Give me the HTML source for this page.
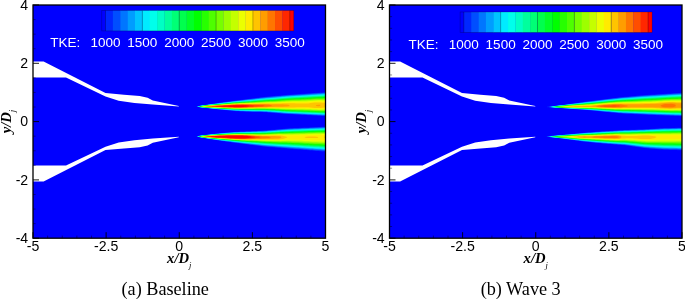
<!DOCTYPE html>
<html><head><meta charset="utf-8"><title>TKE contours</title>
<style>
html,body{margin:0;padding:0;background:#fff;}
svg{display:block;}
.tk{font-family:"Liberation Sans",Arial,sans-serif;font-size:14.1px;fill:#000;}
.cb{font-family:"Liberation Sans",Arial,sans-serif;font-size:13.5px;fill:#fff;}
.ax{font-family:"Liberation Serif","Times New Roman",serif;font-weight:bold;font-style:italic;font-size:14.6px;fill:#000;}
.sub{font-size:8.5px;font-weight:normal;}
.cap{font-family:"Liberation Serif","Times New Roman",serif;font-size:18.2px;fill:#000;}
</style></head><body>
<svg width="685" height="299" viewBox="0 0 685 299">
<defs>
<filter id="b" x="-5%" y="-20%" width="110%" height="140%"><feGaussianBlur stdDeviation="0.65"/></filter>
<clipPath id="cp"><rect x="33" y="5" width="292.5" height="233.2"/></clipPath>
</defs>
<rect width="685" height="299" fill="#fff"/>
<g transform="translate(0.00,0)">
<rect x="33.00" y="5.00" width="292.50" height="233.20" fill="#0000ff"/>
<g filter="url(#b)" clip-path="url(#cp)">
<path d="M196.8,106.3 197.0,106.2 197.5,106.1 198.0,106.1 198.5,106.0 199.0,105.9 199.5,105.8 200.0,105.7 200.5,105.7 201.0,105.6 201.5,105.5 202.0,105.4 202.5,105.4 203.0,105.3 203.5,105.2 204.0,105.1 204.5,105.0 205.0,105.0 205.5,104.9 206.0,104.8 206.5,104.7 207.0,104.7 207.5,104.6 208.0,104.5 208.5,104.4 209.0,104.4 209.5,104.3 210.0,104.2 210.5,104.1 211.0,104.1 211.5,104.0 212.0,103.9 212.5,103.8 214.5,103.5 216.5,103.3 218.5,103.0 220.5,102.7 222.5,102.4 224.5,102.1 226.5,101.8 228.5,101.5 230.5,101.2 232.5,100.9 234.5,100.7 236.5,100.4 238.5,100.2 240.5,99.9 242.5,99.7 244.5,99.4 246.5,99.2 248.5,98.9 250.5,98.7 252.5,98.4 254.5,98.2 256.5,97.9 258.5,97.7 260.5,97.4 262.5,97.2 264.5,96.9 266.5,96.7 268.5,96.6 270.5,96.4 272.5,96.2 274.5,96.0 276.5,95.8 278.5,95.7 280.5,95.5 282.5,95.3 284.5,95.1 286.5,95.0 288.5,94.8 290.5,94.7 292.5,94.5 294.5,94.4 296.5,94.3 298.5,94.1 300.5,94.0 302.5,93.8 304.5,93.7 306.5,93.5 308.5,93.4 310.5,93.3 312.5,93.1 314.5,93.0 316.5,92.8 318.5,92.7 320.5,92.6 322.5,92.4 324.5,92.3 325.5,92.2 325.5,116.1 324.5,116.0 322.5,115.9 320.5,115.8 318.5,115.7 316.5,115.6 314.5,115.5 312.5,115.4 310.5,115.3 308.5,115.2 306.5,115.1 304.5,115.0 302.5,114.9 300.5,114.8 298.5,114.7 296.5,114.6 294.5,114.5 292.5,114.3 290.5,114.2 288.5,114.1 286.5,114.0 284.5,113.9 282.5,113.7 280.5,113.5 278.5,113.3 276.5,113.2 274.5,113.0 272.5,112.8 270.5,112.6 268.5,112.5 266.5,112.3 264.5,112.2 262.5,112.1 260.5,112.1 258.5,112.0 256.5,112.0 254.5,112.0 252.5,111.9 250.5,111.9 248.5,111.8 246.5,111.7 244.5,111.6 242.5,111.5 240.5,111.4 238.5,111.3 236.5,111.2 234.5,111.1 232.5,110.9 230.5,110.7 228.5,110.5 226.5,110.3 224.5,110.1 222.5,109.9 220.5,109.6 218.5,109.4 216.5,109.2 214.5,109.0 212.5,108.8 212.0,108.7 211.5,108.7 211.0,108.6 210.5,108.6 210.0,108.5 209.5,108.4 209.0,108.4 208.5,108.3 208.0,108.3 207.5,108.2 207.0,108.2 206.5,108.1 206.0,108.0 205.5,108.0 205.0,107.9 204.5,107.9 204.0,107.8 203.5,107.7 203.0,107.7 202.5,107.6 202.0,107.6 201.5,107.5 201.0,107.4 200.5,107.4 200.0,107.3 199.5,107.3 199.0,107.2 198.5,107.1 198.0,107.1 197.5,107.0 197.0,107.0 196.8,106.9Z" fill="#0027ff"/>
<path d="M197.0,106.4 197.5,106.2 198.0,106.1 198.5,106.1 199.0,106.0 199.5,105.9 200.0,105.8 200.5,105.7 201.0,105.6 201.5,105.6 202.0,105.5 202.5,105.4 203.0,105.3 203.5,105.3 204.0,105.2 204.5,105.1 205.0,105.1 205.5,105.0 206.0,104.9 206.5,104.8 207.0,104.8 207.5,104.7 208.0,104.6 208.5,104.5 209.0,104.5 209.5,104.4 210.0,104.3 210.5,104.3 211.0,104.2 211.5,104.1 212.0,104.0 212.5,104.0 214.5,103.7 216.5,103.4 218.5,103.1 220.5,102.8 222.5,102.6 224.5,102.3 226.5,102.0 228.5,101.7 230.5,101.4 232.5,101.2 234.5,100.9 236.5,100.7 238.5,100.4 240.5,100.2 242.5,99.9 244.5,99.7 246.5,99.5 248.5,99.2 250.5,99.0 252.5,98.8 254.5,98.5 256.5,98.3 258.5,98.1 260.5,97.8 262.5,97.6 264.5,97.3 266.5,97.1 268.5,97.0 270.5,96.8 272.5,96.6 274.5,96.4 276.5,96.3 278.5,96.1 280.5,95.9 282.5,95.7 284.5,95.5 286.5,95.4 288.5,95.2 290.5,95.1 292.5,94.9 294.5,94.8 296.5,94.7 298.5,94.5 300.5,94.4 302.5,94.3 304.5,94.1 306.5,94.0 308.5,93.8 310.5,93.7 312.5,93.6 314.5,93.4 316.5,93.3 318.5,93.1 320.5,93.0 322.5,92.9 324.5,92.7 325.5,92.7 325.5,115.7 324.5,115.7 322.5,115.6 320.5,115.5 318.5,115.4 316.5,115.3 314.5,115.2 312.5,115.1 310.5,115.0 308.5,114.9 306.5,114.7 304.5,114.6 302.5,114.5 300.5,114.4 298.5,114.3 296.5,114.2 294.5,114.1 292.5,114.0 290.5,113.9 288.5,113.8 286.5,113.7 284.5,113.6 282.5,113.4 280.5,113.2 278.5,113.0 276.5,112.9 274.5,112.7 272.5,112.5 270.5,112.4 268.5,112.2 266.5,112.0 264.5,111.9 262.5,111.9 260.5,111.8 258.5,111.8 256.5,111.7 254.5,111.7 252.5,111.6 250.5,111.6 248.5,111.5 246.5,111.4 244.5,111.4 242.5,111.3 240.5,111.2 238.5,111.1 236.5,111.0 234.5,110.9 232.5,110.7 230.5,110.5 228.5,110.3 226.5,110.1 224.5,109.9 222.5,109.7 220.5,109.5 218.5,109.3 216.5,109.1 214.5,108.9 212.5,108.7 212.0,108.6 211.5,108.6 211.0,108.5 210.5,108.5 210.0,108.4 209.5,108.4 209.0,108.3 208.5,108.2 208.0,108.2 207.5,108.1 207.0,108.1 206.5,108.0 206.0,108.0 205.5,107.9 205.0,107.8 204.5,107.8 204.0,107.7 203.5,107.7 203.0,107.6 202.5,107.6 202.0,107.5 201.5,107.4 201.0,107.4 200.5,107.3 200.0,107.3 199.5,107.2 199.0,107.1 198.5,107.1 198.0,107.0 197.5,106.9 197.0,106.8Z" fill="#004eff"/>
<path d="M197.2,106.5 197.5,106.4 198.0,106.2 198.5,106.1 199.0,106.0 199.5,106.0 200.0,105.9 200.5,105.8 201.0,105.7 201.5,105.6 202.0,105.6 202.5,105.5 203.0,105.4 203.5,105.3 204.0,105.3 204.5,105.2 205.0,105.1 205.5,105.1 206.0,105.0 206.5,104.9 207.0,104.9 207.5,104.8 208.0,104.7 208.5,104.6 209.0,104.6 209.5,104.5 210.0,104.4 210.5,104.4 211.0,104.3 211.5,104.2 212.0,104.2 212.5,104.1 214.5,103.8 216.5,103.5 218.5,103.3 220.5,103.0 222.5,102.7 224.5,102.5 226.5,102.2 228.5,101.9 230.5,101.7 232.5,101.4 234.5,101.1 236.5,100.9 238.5,100.7 240.5,100.4 242.5,100.2 244.5,100.0 246.5,99.8 248.5,99.5 250.5,99.3 252.5,99.1 254.5,98.9 256.5,98.6 258.5,98.4 260.5,98.2 262.5,97.9 264.5,97.7 266.5,97.5 268.5,97.3 270.5,97.2 272.5,97.0 274.5,96.8 276.5,96.6 278.5,96.5 280.5,96.3 282.5,96.1 284.5,95.9 286.5,95.8 288.5,95.6 290.5,95.5 292.5,95.3 294.5,95.2 296.5,95.1 298.5,94.9 300.5,94.8 302.5,94.7 304.5,94.5 306.5,94.4 308.5,94.3 310.5,94.1 312.5,94.0 314.5,93.8 316.5,93.7 318.5,93.6 320.5,93.4 322.5,93.3 324.5,93.2 325.5,93.1 325.5,115.4 324.5,115.3 322.5,115.2 320.5,115.1 318.5,115.0 316.5,114.9 314.5,114.8 312.5,114.7 310.5,114.6 308.5,114.5 306.5,114.4 304.5,114.3 302.5,114.2 300.5,114.1 298.5,114.0 296.5,113.9 294.5,113.8 292.5,113.7 290.5,113.6 288.5,113.5 286.5,113.4 284.5,113.2 282.5,113.1 280.5,112.9 278.5,112.7 276.5,112.6 274.5,112.4 272.5,112.2 270.5,112.1 268.5,111.9 266.5,111.8 264.5,111.6 262.5,111.6 260.5,111.6 258.5,111.5 256.5,111.5 254.5,111.4 252.5,111.4 250.5,111.4 248.5,111.3 246.5,111.2 244.5,111.1 242.5,111.1 240.5,111.0 238.5,110.9 236.5,110.8 234.5,110.7 232.5,110.5 230.5,110.3 228.5,110.1 226.5,109.9 224.5,109.7 222.5,109.5 220.5,109.4 218.5,109.2 216.5,109.0 214.5,108.8 212.5,108.6 212.0,108.5 211.5,108.5 211.0,108.4 210.5,108.4 210.0,108.3 209.5,108.3 209.0,108.2 208.5,108.1 208.0,108.1 207.5,108.0 207.0,108.0 206.5,107.9 206.0,107.9 205.5,107.8 205.0,107.8 204.5,107.7 204.0,107.7 203.5,107.6 203.0,107.5 202.5,107.5 202.0,107.4 201.5,107.4 201.0,107.3 200.5,107.3 200.0,107.2 199.5,107.1 199.0,107.1 198.5,107.0 198.0,106.9 197.5,106.8 197.2,106.7Z" fill="#0076ff"/>
<path d="M197.5,106.5 198.0,106.3 198.5,106.2 199.0,106.1 199.5,106.0 200.0,105.9 200.5,105.8 201.0,105.8 201.5,105.7 202.0,105.6 202.5,105.5 203.0,105.5 203.5,105.4 204.0,105.3 204.5,105.3 205.0,105.2 205.5,105.1 206.0,105.1 206.5,105.0 207.0,104.9 207.5,104.9 208.0,104.8 208.5,104.7 209.0,104.7 209.5,104.6 210.0,104.5 210.5,104.5 211.0,104.4 211.5,104.3 212.0,104.3 212.5,104.2 214.5,103.9 216.5,103.7 218.5,103.4 220.5,103.2 222.5,102.9 224.5,102.6 226.5,102.4 228.5,102.1 230.5,101.9 232.5,101.6 234.5,101.3 236.5,101.1 238.5,100.9 240.5,100.7 242.5,100.5 244.5,100.3 246.5,100.0 248.5,99.8 250.5,99.6 252.5,99.4 254.5,99.2 256.5,99.0 258.5,98.7 260.5,98.5 262.5,98.3 264.5,98.0 266.5,97.9 268.5,97.7 270.5,97.5 272.5,97.4 274.5,97.2 276.5,97.0 278.5,96.8 280.5,96.7 282.5,96.5 284.5,96.3 286.5,96.1 288.5,96.0 290.5,95.8 292.5,95.7 294.5,95.6 296.5,95.4 298.5,95.3 300.5,95.2 302.5,95.1 304.5,94.9 306.5,94.8 308.5,94.7 310.5,94.5 312.5,94.4 314.5,94.3 316.5,94.1 318.5,94.0 320.5,93.9 322.5,93.7 324.5,93.6 325.5,93.5 325.5,115.0 324.5,115.0 322.5,114.9 320.5,114.8 318.5,114.7 316.5,114.6 314.5,114.5 312.5,114.4 310.5,114.3 308.5,114.2 306.5,114.1 304.5,114.0 302.5,113.9 300.5,113.8 298.5,113.7 296.5,113.6 294.5,113.5 292.5,113.4 290.5,113.3 288.5,113.2 286.5,113.1 284.5,113.0 282.5,112.8 280.5,112.6 278.5,112.5 276.5,112.3 274.5,112.1 272.5,112.0 270.5,111.8 268.5,111.7 266.5,111.5 264.5,111.4 262.5,111.4 260.5,111.3 258.5,111.3 256.5,111.2 254.5,111.2 252.5,111.2 250.5,111.1 248.5,111.1 246.5,111.0 244.5,110.9 242.5,110.8 240.5,110.8 238.5,110.7 236.5,110.6 234.5,110.5 232.5,110.3 230.5,110.1 228.5,110.0 226.5,109.8 224.5,109.6 222.5,109.4 220.5,109.2 218.5,109.0 216.5,108.9 214.5,108.7 212.5,108.5 212.0,108.4 211.5,108.4 211.0,108.3 210.5,108.3 210.0,108.2 209.5,108.2 209.0,108.1 208.5,108.1 208.0,108.0 207.5,108.0 207.0,107.9 206.5,107.9 206.0,107.8 205.5,107.8 205.0,107.7 204.5,107.6 204.0,107.6 203.5,107.5 203.0,107.5 202.5,107.4 202.0,107.4 201.5,107.3 201.0,107.3 200.5,107.2 200.0,107.1 199.5,107.1 199.0,107.0 198.5,106.9 198.0,106.8 197.5,106.7Z" fill="#009dff"/>
<path d="M198.0,106.4 198.5,106.3 199.0,106.2 199.5,106.1 200.0,106.0 200.5,105.9 201.0,105.8 201.5,105.7 202.0,105.7 202.5,105.6 203.0,105.5 203.5,105.5 204.0,105.4 204.5,105.3 205.0,105.3 205.5,105.2 206.0,105.1 206.5,105.1 207.0,105.0 207.5,104.9 208.0,104.9 208.5,104.8 209.0,104.8 209.5,104.7 210.0,104.6 210.5,104.6 211.0,104.5 211.5,104.4 212.0,104.4 212.5,104.3 214.5,104.0 216.5,103.8 218.5,103.5 220.5,103.3 222.5,103.0 224.5,102.8 226.5,102.5 228.5,102.3 230.5,102.0 232.5,101.8 234.5,101.6 236.5,101.3 238.5,101.1 240.5,100.9 242.5,100.7 244.5,100.5 246.5,100.3 248.5,100.1 250.5,99.9 252.5,99.7 254.5,99.5 256.5,99.3 258.5,99.0 260.5,98.8 262.5,98.6 264.5,98.4 266.5,98.2 268.5,98.0 270.5,97.9 272.5,97.7 274.5,97.6 276.5,97.4 278.5,97.2 280.5,97.0 282.5,96.8 284.5,96.7 286.5,96.5 288.5,96.3 290.5,96.2 292.5,96.1 294.5,95.9 296.5,95.8 298.5,95.7 300.5,95.6 302.5,95.4 304.5,95.3 306.5,95.2 308.5,95.1 310.5,94.9 312.5,94.8 314.5,94.7 316.5,94.5 318.5,94.4 320.5,94.3 322.5,94.2 324.5,94.0 325.5,94.0 325.5,114.7 324.5,114.6 322.5,114.6 320.5,114.5 318.5,114.4 316.5,114.3 314.5,114.2 312.5,114.1 310.5,114.0 308.5,113.9 306.5,113.8 304.5,113.7 302.5,113.6 300.5,113.5 298.5,113.4 296.5,113.3 294.5,113.2 292.5,113.1 290.5,113.0 288.5,112.9 286.5,112.8 284.5,112.7 282.5,112.5 280.5,112.3 278.5,112.2 276.5,112.0 274.5,111.9 272.5,111.7 270.5,111.6 268.5,111.4 266.5,111.3 264.5,111.2 262.5,111.1 260.5,111.1 258.5,111.0 256.5,111.0 254.5,111.0 252.5,110.9 250.5,110.9 248.5,110.8 246.5,110.8 244.5,110.7 242.5,110.6 240.5,110.6 238.5,110.5 236.5,110.4 234.5,110.3 232.5,110.1 230.5,110.0 228.5,109.8 226.5,109.6 224.5,109.4 222.5,109.3 220.5,109.1 218.5,108.9 216.5,108.7 214.5,108.6 212.5,108.4 212.0,108.3 211.5,108.3 211.0,108.2 210.5,108.2 210.0,108.1 209.5,108.1 209.0,108.0 208.5,108.0 208.0,107.9 207.5,107.9 207.0,107.8 206.5,107.8 206.0,107.7 205.5,107.7 205.0,107.6 204.5,107.6 204.0,107.5 203.5,107.5 203.0,107.4 202.5,107.4 202.0,107.3 201.5,107.3 201.0,107.2 200.5,107.2 200.0,107.1 199.5,107.0 199.0,106.9 198.5,106.8 198.0,106.7Z" fill="#00c4ff"/>
<path d="M198.2,106.5 198.5,106.4 199.0,106.2 199.5,106.1 200.0,106.0 200.5,106.0 201.0,105.9 201.5,105.8 202.0,105.7 202.5,105.7 203.0,105.6 203.5,105.5 204.0,105.5 204.5,105.4 205.0,105.3 205.5,105.3 206.0,105.2 206.5,105.2 207.0,105.1 207.5,105.0 208.0,105.0 208.5,104.9 209.0,104.8 209.5,104.8 210.0,104.7 210.5,104.7 211.0,104.6 211.5,104.5 212.0,104.5 212.5,104.4 214.5,104.2 216.5,103.9 218.5,103.7 220.5,103.4 222.5,103.2 224.5,102.9 226.5,102.7 228.5,102.5 230.5,102.2 232.5,102.0 234.5,101.7 236.5,101.5 238.5,101.3 240.5,101.1 242.5,100.9 244.5,100.8 246.5,100.6 248.5,100.4 250.5,100.2 252.5,100.0 254.5,99.8 256.5,99.6 258.5,99.3 260.5,99.1 262.5,98.9 264.5,98.7 266.5,98.5 268.5,98.4 270.5,98.2 272.5,98.1 274.5,97.9 276.5,97.7 278.5,97.6 280.5,97.4 282.5,97.2 284.5,97.0 286.5,96.8 288.5,96.7 290.5,96.6 292.5,96.4 294.5,96.3 296.5,96.2 298.5,96.1 300.5,95.9 302.5,95.8 304.5,95.7 306.5,95.6 308.5,95.5 310.5,95.3 312.5,95.2 314.5,95.0 316.5,94.9 318.5,94.8 320.5,94.7 322.5,94.6 324.5,94.5 325.5,94.4 325.5,114.4 324.5,114.3 322.5,114.2 320.5,114.1 318.5,114.1 316.5,114.0 314.5,113.9 312.5,113.8 310.5,113.7 308.5,113.6 306.5,113.5 304.5,113.4 302.5,113.3 300.5,113.2 298.5,113.1 296.5,113.0 294.5,112.9 292.5,112.9 290.5,112.8 288.5,112.6 286.5,112.5 284.5,112.4 282.5,112.2 280.5,112.1 278.5,111.9 276.5,111.7 274.5,111.6 272.5,111.4 270.5,111.3 268.5,111.2 266.5,111.0 264.5,110.9 262.5,110.9 260.5,110.9 258.5,110.8 256.5,110.8 254.5,110.8 252.5,110.7 250.5,110.7 248.5,110.6 246.5,110.6 244.5,110.5 242.5,110.4 240.5,110.4 238.5,110.3 236.5,110.2 234.5,110.1 232.5,110.0 230.5,109.8 228.5,109.6 226.5,109.5 224.5,109.3 222.5,109.1 220.5,109.0 218.5,108.8 216.5,108.6 214.5,108.5 212.5,108.3 212.0,108.2 211.5,108.2 211.0,108.1 210.5,108.1 210.0,108.1 209.5,108.0 209.0,108.0 208.5,107.9 208.0,107.9 207.5,107.8 207.0,107.8 206.5,107.7 206.0,107.7 205.5,107.6 205.0,107.6 204.5,107.5 204.0,107.5 203.5,107.4 203.0,107.4 202.5,107.3 202.0,107.3 201.5,107.2 201.0,107.2 200.5,107.1 200.0,107.0 199.5,107.0 199.0,106.9 198.5,106.8 198.2,106.7Z" fill="#00ebff"/>
<path d="M198.5,106.5 199.0,106.3 199.5,106.2 200.0,106.1 200.5,106.0 201.0,105.9 201.5,105.9 202.0,105.8 202.5,105.7 203.0,105.7 203.5,105.6 204.0,105.5 204.5,105.5 205.0,105.4 205.5,105.3 206.0,105.3 206.5,105.2 207.0,105.2 207.5,105.1 208.0,105.0 208.5,105.0 209.0,104.9 209.5,104.9 210.0,104.8 210.5,104.7 211.0,104.7 211.5,104.6 212.0,104.6 212.5,104.5 214.5,104.3 216.5,104.0 218.5,103.8 220.5,103.6 222.5,103.3 224.5,103.1 226.5,102.9 228.5,102.6 230.5,102.4 232.5,102.2 234.5,101.9 236.5,101.7 238.5,101.5 240.5,101.4 242.5,101.2 244.5,101.0 246.5,100.8 248.5,100.6 250.5,100.4 252.5,100.2 254.5,100.0 256.5,99.8 258.5,99.6 260.5,99.4 262.5,99.2 264.5,99.0 266.5,98.8 268.5,98.7 270.5,98.6 272.5,98.4 274.5,98.3 276.5,98.1 278.5,97.9 280.5,97.7 282.5,97.5 284.5,97.4 286.5,97.2 288.5,97.0 290.5,96.9 292.5,96.8 294.5,96.7 296.5,96.5 298.5,96.4 300.5,96.3 302.5,96.2 304.5,96.1 306.5,96.0 308.5,95.8 310.5,95.7 312.5,95.6 314.5,95.4 316.5,95.3 318.5,95.2 320.5,95.1 322.5,95.0 324.5,94.9 325.5,94.8 325.5,114.0 324.5,114.0 322.5,113.9 320.5,113.8 318.5,113.7 316.5,113.7 314.5,113.6 312.5,113.5 310.5,113.4 308.5,113.3 306.5,113.2 304.5,113.1 302.5,113.0 300.5,112.9 298.5,112.8 296.5,112.7 294.5,112.7 292.5,112.6 290.5,112.5 288.5,112.4 286.5,112.3 284.5,112.1 282.5,112.0 280.5,111.8 278.5,111.6 276.5,111.5 274.5,111.3 272.5,111.2 270.5,111.1 268.5,110.9 266.5,110.8 264.5,110.7 262.5,110.7 260.5,110.6 258.5,110.6 256.5,110.6 254.5,110.5 252.5,110.5 250.5,110.5 248.5,110.4 246.5,110.4 244.5,110.3 242.5,110.3 240.5,110.2 238.5,110.1 236.5,110.1 234.5,110.0 232.5,109.8 230.5,109.7 228.5,109.5 226.5,109.3 224.5,109.2 222.5,109.0 220.5,108.8 218.5,108.7 216.5,108.5 214.5,108.4 212.5,108.2 212.0,108.2 211.5,108.1 211.0,108.1 210.5,108.0 210.0,108.0 209.5,107.9 209.0,107.9 208.5,107.8 208.0,107.8 207.5,107.7 207.0,107.7 206.5,107.7 206.0,107.6 205.5,107.6 205.0,107.5 204.5,107.5 204.0,107.4 203.5,107.4 203.0,107.3 202.5,107.3 202.0,107.2 201.5,107.2 201.0,107.1 200.5,107.1 200.0,107.0 199.5,106.9 199.0,106.8 198.5,106.7Z" fill="#00ffeb"/>
<path d="M198.8,106.5 199.0,106.4 199.5,106.3 200.0,106.2 200.5,106.1 201.0,106.0 201.5,105.9 202.0,105.8 202.5,105.8 203.0,105.7 203.5,105.7 204.0,105.6 204.5,105.5 205.0,105.5 205.5,105.4 206.0,105.4 206.5,105.3 207.0,105.2 207.5,105.2 208.0,105.1 208.5,105.1 209.0,105.0 209.5,104.9 210.0,104.9 210.5,104.8 211.0,104.8 211.5,104.7 212.0,104.7 212.5,104.6 214.5,104.4 216.5,104.1 218.5,103.9 220.5,103.7 222.5,103.5 224.5,103.2 226.5,103.0 228.5,102.8 230.5,102.6 232.5,102.3 234.5,102.1 236.5,101.9 238.5,101.7 240.5,101.6 242.5,101.4 244.5,101.2 246.5,101.0 248.5,100.9 250.5,100.7 252.5,100.5 254.5,100.3 256.5,100.1 258.5,99.9 260.5,99.7 262.5,99.5 264.5,99.3 266.5,99.2 268.5,99.0 270.5,98.9 272.5,98.7 274.5,98.6 276.5,98.4 278.5,98.2 280.5,98.1 282.5,97.9 284.5,97.7 286.5,97.5 288.5,97.4 290.5,97.2 292.5,97.1 294.5,97.0 296.5,96.9 298.5,96.8 300.5,96.7 302.5,96.6 304.5,96.5 306.5,96.3 308.5,96.2 310.5,96.1 312.5,95.9 314.5,95.8 316.5,95.7 318.5,95.6 320.5,95.5 322.5,95.4 324.5,95.3 325.5,95.2 325.5,113.7 324.5,113.7 322.5,113.6 320.5,113.5 318.5,113.4 316.5,113.3 314.5,113.3 312.5,113.2 310.5,113.1 308.5,113.0 306.5,112.9 304.5,112.8 302.5,112.7 300.5,112.6 298.5,112.5 296.5,112.5 294.5,112.4 292.5,112.3 290.5,112.2 288.5,112.1 286.5,112.0 284.5,111.8 282.5,111.7 280.5,111.5 278.5,111.4 276.5,111.2 274.5,111.1 272.5,111.0 270.5,110.8 268.5,110.7 266.5,110.6 264.5,110.5 262.5,110.5 260.5,110.4 258.5,110.4 256.5,110.4 254.5,110.3 252.5,110.3 250.5,110.3 248.5,110.2 246.5,110.2 244.5,110.1 242.5,110.1 240.5,110.0 238.5,110.0 236.5,109.9 234.5,109.8 232.5,109.7 230.5,109.5 228.5,109.3 226.5,109.2 224.5,109.0 222.5,108.9 220.5,108.7 218.5,108.6 216.5,108.4 214.5,108.3 212.5,108.1 212.0,108.1 211.5,108.0 211.0,108.0 210.5,107.9 210.0,107.9 209.5,107.8 209.0,107.8 208.5,107.8 208.0,107.7 207.5,107.7 207.0,107.6 206.5,107.6 206.0,107.5 205.5,107.5 205.0,107.5 204.5,107.4 204.0,107.4 203.5,107.3 203.0,107.3 202.5,107.2 202.0,107.2 201.5,107.1 201.0,107.1 200.5,107.0 200.0,106.9 199.5,106.8 199.0,106.7 198.8,106.6Z" fill="#00ffc4"/>
<path d="M199.2,106.4 199.5,106.3 200.0,106.2 200.5,106.1 201.0,106.0 201.5,106.0 202.0,105.9 202.5,105.8 203.0,105.8 203.5,105.7 204.0,105.6 204.5,105.6 205.0,105.5 205.5,105.5 206.0,105.4 206.5,105.4 207.0,105.3 207.5,105.2 208.0,105.2 208.5,105.1 209.0,105.1 209.5,105.0 210.0,105.0 210.5,104.9 211.0,104.9 211.5,104.8 212.0,104.7 212.5,104.7 214.5,104.5 216.5,104.3 218.5,104.0 220.5,103.8 222.5,103.6 224.5,103.4 226.5,103.2 228.5,102.9 230.5,102.7 232.5,102.5 234.5,102.3 236.5,102.1 238.5,101.9 240.5,101.8 242.5,101.6 244.5,101.4 246.5,101.3 248.5,101.1 250.5,100.9 252.5,100.8 254.5,100.6 256.5,100.4 258.5,100.2 260.5,100.0 262.5,99.8 264.5,99.6 266.5,99.5 268.5,99.3 270.5,99.2 272.5,99.1 274.5,98.9 276.5,98.8 278.5,98.6 280.5,98.4 282.5,98.2 284.5,98.0 286.5,97.9 288.5,97.7 290.5,97.6 292.5,97.5 294.5,97.4 296.5,97.3 298.5,97.2 300.5,97.0 302.5,96.9 304.5,96.8 306.5,96.7 308.5,96.6 310.5,96.5 312.5,96.3 314.5,96.2 316.5,96.1 318.5,96.0 320.5,95.9 322.5,95.8 324.5,95.7 325.5,95.6 325.5,113.4 324.5,113.3 322.5,113.3 320.5,113.2 318.5,113.1 316.5,113.0 314.5,112.9 312.5,112.9 310.5,112.8 308.5,112.7 306.5,112.6 304.5,112.5 302.5,112.4 300.5,112.3 298.5,112.3 296.5,112.2 294.5,112.1 292.5,112.0 290.5,111.9 288.5,111.8 286.5,111.7 284.5,111.6 282.5,111.4 280.5,111.3 278.5,111.1 276.5,111.0 274.5,110.8 272.5,110.7 270.5,110.6 268.5,110.5 266.5,110.4 264.5,110.3 262.5,110.2 260.5,110.2 258.5,110.2 256.5,110.2 254.5,110.1 252.5,110.1 250.5,110.1 248.5,110.0 246.5,110.0 244.5,109.9 242.5,109.9 240.5,109.8 238.5,109.8 236.5,109.7 234.5,109.7 232.5,109.5 230.5,109.4 228.5,109.2 226.5,109.1 224.5,108.9 222.5,108.8 220.5,108.6 218.5,108.5 216.5,108.3 214.5,108.2 212.5,108.0 212.0,108.0 211.5,107.9 211.0,107.9 210.5,107.9 210.0,107.8 209.5,107.8 209.0,107.7 208.5,107.7 208.0,107.6 207.5,107.6 207.0,107.6 206.5,107.5 206.0,107.5 205.5,107.4 205.0,107.4 204.5,107.4 204.0,107.3 203.5,107.3 203.0,107.2 202.5,107.2 202.0,107.1 201.5,107.1 201.0,107.0 200.5,107.0 200.0,106.9 199.5,106.8 199.2,106.7Z" fill="#00ff9d"/>
<path d="M199.5,106.4 200.0,106.3 200.5,106.2 201.0,106.1 201.5,106.0 202.0,105.9 202.5,105.9 203.0,105.8 203.5,105.8 204.0,105.7 204.5,105.7 205.0,105.6 205.5,105.5 206.0,105.5 206.5,105.4 207.0,105.4 207.5,105.3 208.0,105.3 208.5,105.2 209.0,105.2 209.5,105.1 210.0,105.0 210.5,105.0 211.0,104.9 211.5,104.9 212.0,104.8 212.5,104.8 214.5,104.6 216.5,104.4 218.5,104.2 220.5,103.9 222.5,103.7 224.5,103.5 226.5,103.3 228.5,103.1 230.5,102.9 232.5,102.7 234.5,102.5 236.5,102.3 238.5,102.1 240.5,102.0 242.5,101.8 244.5,101.6 246.5,101.5 248.5,101.3 250.5,101.2 252.5,101.0 254.5,100.8 256.5,100.7 258.5,100.5 260.5,100.3 262.5,100.1 264.5,99.9 266.5,99.8 268.5,99.7 270.5,99.5 272.5,99.4 274.5,99.3 276.5,99.1 278.5,98.9 280.5,98.7 282.5,98.6 284.5,98.4 286.5,98.2 288.5,98.1 290.5,97.9 292.5,97.8 294.5,97.7 296.5,97.6 298.5,97.5 300.5,97.4 302.5,97.3 304.5,97.2 306.5,97.1 308.5,97.0 310.5,96.9 312.5,96.7 314.5,96.6 316.5,96.5 318.5,96.4 320.5,96.3 322.5,96.2 324.5,96.1 325.5,96.0 325.5,113.0 324.5,113.0 322.5,112.9 320.5,112.9 318.5,112.8 316.5,112.7 314.5,112.6 312.5,112.5 310.5,112.4 308.5,112.3 306.5,112.3 304.5,112.2 302.5,112.1 300.5,112.0 298.5,112.0 296.5,111.9 294.5,111.8 292.5,111.7 290.5,111.7 288.5,111.6 286.5,111.4 284.5,111.3 282.5,111.2 280.5,111.0 278.5,110.9 276.5,110.7 274.5,110.6 272.5,110.5 270.5,110.4 268.5,110.3 266.5,110.1 264.5,110.1 262.5,110.0 260.5,110.0 258.5,110.0 256.5,110.0 254.5,109.9 252.5,109.9 250.5,109.9 248.5,109.9 246.5,109.8 244.5,109.8 242.5,109.7 240.5,109.7 238.5,109.6 236.5,109.6 234.5,109.5 232.5,109.4 230.5,109.2 228.5,109.1 226.5,108.9 224.5,108.8 222.5,108.6 220.5,108.5 218.5,108.4 216.5,108.2 214.5,108.1 212.5,107.9 212.0,107.9 211.5,107.9 211.0,107.8 210.5,107.8 210.0,107.7 209.5,107.7 209.0,107.7 208.5,107.6 208.0,107.6 207.5,107.5 207.0,107.5 206.5,107.5 206.0,107.4 205.5,107.4 205.0,107.3 204.5,107.3 204.0,107.3 203.5,107.2 203.0,107.2 202.5,107.1 202.0,107.1 201.5,107.0 201.0,107.0 200.5,106.9 200.0,106.8 199.5,106.7Z" fill="#00ff76"/>
<path d="M199.8,106.4 200.0,106.3 200.5,106.2 201.0,106.1 201.5,106.1 202.0,106.0 202.5,105.9 203.0,105.9 203.5,105.8 204.0,105.8 204.5,105.7 205.0,105.7 205.5,105.6 206.0,105.6 206.5,105.5 207.0,105.4 207.5,105.4 208.0,105.3 208.5,105.3 209.0,105.2 209.5,105.2 210.0,105.1 210.5,105.1 211.0,105.0 211.5,105.0 212.0,104.9 212.5,104.9 214.5,104.7 216.5,104.5 218.5,104.3 220.5,104.1 222.5,103.9 224.5,103.7 226.5,103.5 228.5,103.3 230.5,103.0 232.5,102.8 234.5,102.7 236.5,102.5 238.5,102.3 240.5,102.2 242.5,102.0 244.5,101.9 246.5,101.7 248.5,101.6 250.5,101.4 252.5,101.3 254.5,101.1 256.5,100.9 258.5,100.8 260.5,100.6 262.5,100.4 264.5,100.2 266.5,100.1 268.5,100.0 270.5,99.8 272.5,99.7 274.5,99.6 276.5,99.4 278.5,99.3 280.5,99.1 282.5,98.9 284.5,98.7 286.5,98.6 288.5,98.4 290.5,98.3 292.5,98.2 294.5,98.1 296.5,98.0 298.5,97.9 300.5,97.8 302.5,97.7 304.5,97.6 306.5,97.5 308.5,97.4 310.5,97.2 312.5,97.1 314.5,97.0 316.5,96.9 318.5,96.8 320.5,96.7 322.5,96.6 324.5,96.5 325.5,96.5 325.5,112.7 324.5,112.7 322.5,112.6 320.5,112.6 318.5,112.5 316.5,112.4 314.5,112.3 312.5,112.2 310.5,112.1 308.5,112.0 306.5,112.0 304.5,111.9 302.5,111.8 300.5,111.7 298.5,111.7 296.5,111.6 294.5,111.5 292.5,111.5 290.5,111.4 288.5,111.3 286.5,111.2 284.5,111.0 282.5,110.9 280.5,110.7 278.5,110.6 276.5,110.5 274.5,110.3 272.5,110.2 270.5,110.1 268.5,110.0 266.5,109.9 264.5,109.9 262.5,109.8 260.5,109.8 258.5,109.8 256.5,109.8 254.5,109.7 252.5,109.7 250.5,109.7 248.5,109.7 246.5,109.6 244.5,109.6 242.5,109.6 240.5,109.5 238.5,109.5 236.5,109.4 234.5,109.3 232.5,109.2 230.5,109.1 228.5,108.9 226.5,108.8 224.5,108.7 222.5,108.5 220.5,108.4 218.5,108.3 216.5,108.1 214.5,108.0 212.5,107.9 212.0,107.8 211.5,107.8 211.0,107.7 210.5,107.7 210.0,107.7 209.5,107.6 209.0,107.6 208.5,107.6 208.0,107.5 207.5,107.5 207.0,107.4 206.5,107.4 206.0,107.4 205.5,107.3 205.0,107.3 204.5,107.2 204.0,107.2 203.5,107.2 203.0,107.1 202.5,107.1 202.0,107.0 201.5,107.0 201.0,106.9 200.5,106.9 200.0,106.8 199.8,106.7Z" fill="#00ff4e"/>
<path d="M200.0,106.4 200.5,106.3 201.0,106.2 201.5,106.1 202.0,106.1 202.5,106.0 203.0,105.9 203.5,105.9 204.0,105.8 204.5,105.8 205.0,105.7 205.5,105.7 206.0,105.6 206.5,105.6 207.0,105.5 207.5,105.5 208.0,105.4 208.5,105.4 209.0,105.3 209.5,105.3 210.0,105.2 210.5,105.2 211.0,105.1 211.5,105.1 212.0,105.0 212.5,105.0 214.5,104.8 216.5,104.6 218.5,104.4 220.5,104.2 222.5,104.0 224.5,103.8 226.5,103.6 228.5,103.4 230.5,103.2 232.5,103.0 234.5,102.8 236.5,102.7 238.5,102.5 240.5,102.3 242.5,102.2 244.5,102.1 246.5,101.9 248.5,101.8 250.5,101.7 252.5,101.5 254.5,101.4 256.5,101.2 258.5,101.0 260.5,100.9 262.5,100.7 264.5,100.5 266.5,100.4 268.5,100.3 270.5,100.2 272.5,100.1 274.5,99.9 276.5,99.8 278.5,99.6 280.5,99.4 282.5,99.3 284.5,99.1 286.5,98.9 288.5,98.8 290.5,98.7 292.5,98.5 294.5,98.4 296.5,98.4 298.5,98.3 300.5,98.2 302.5,98.1 304.5,98.0 306.5,97.9 308.5,97.8 310.5,97.6 312.5,97.5 314.5,97.4 316.5,97.3 318.5,97.2 320.5,97.1 322.5,97.0 324.5,96.9 325.5,96.9 325.5,112.4 324.5,112.3 322.5,112.3 320.5,112.2 318.5,112.2 316.5,112.1 314.5,112.0 312.5,111.9 310.5,111.8 308.5,111.7 306.5,111.6 304.5,111.6 302.5,111.5 300.5,111.4 298.5,111.4 296.5,111.3 294.5,111.2 292.5,111.2 290.5,111.1 288.5,111.0 286.5,110.9 284.5,110.8 282.5,110.6 280.5,110.5 278.5,110.3 276.5,110.2 274.5,110.1 272.5,110.0 270.5,109.9 268.5,109.8 266.5,109.7 264.5,109.6 262.5,109.6 260.5,109.6 258.5,109.6 256.5,109.6 254.5,109.5 252.5,109.5 250.5,109.5 248.5,109.5 246.5,109.4 244.5,109.4 242.5,109.4 240.5,109.4 238.5,109.3 236.5,109.3 234.5,109.2 232.5,109.1 230.5,108.9 228.5,108.8 226.5,108.7 224.5,108.5 222.5,108.4 220.5,108.3 218.5,108.2 216.5,108.0 214.5,107.9 212.5,107.8 212.0,107.7 211.5,107.7 211.0,107.7 210.5,107.6 210.0,107.6 209.5,107.6 209.0,107.5 208.5,107.5 208.0,107.5 207.5,107.4 207.0,107.4 206.5,107.3 206.0,107.3 205.5,107.3 205.0,107.2 204.5,107.2 204.0,107.2 203.5,107.1 203.0,107.1 202.5,107.0 202.0,107.0 201.5,106.9 201.0,106.9 200.5,106.8 200.0,106.7Z" fill="#00ff27"/>
<path d="M200.2,106.4 200.5,106.3 201.0,106.2 201.5,106.2 202.0,106.1 202.5,106.1 203.0,106.0 203.5,105.9 204.0,105.9 204.5,105.8 205.0,105.8 205.5,105.7 206.0,105.7 206.5,105.6 207.0,105.6 207.5,105.5 208.0,105.5 208.5,105.4 209.0,105.4 209.5,105.3 210.0,105.3 210.5,105.2 211.0,105.2 211.5,105.1 212.0,105.1 212.5,105.0 214.5,104.9 216.5,104.7 218.5,104.5 220.5,104.3 222.5,104.1 224.5,103.9 226.5,103.7 228.5,103.5 230.5,103.4 232.5,103.2 234.5,103.0 236.5,102.8 238.5,102.7 240.5,102.5 242.5,102.4 244.5,102.3 246.5,102.1 248.5,102.0 250.5,101.9 252.5,101.8 254.5,101.6 256.5,101.5 258.5,101.3 260.5,101.1 262.5,101.0 264.5,100.8 266.5,100.7 268.5,100.6 270.5,100.5 272.5,100.4 274.5,100.3 276.5,100.1 278.5,99.9 280.5,99.8 282.5,99.6 284.5,99.4 286.5,99.3 288.5,99.1 290.5,99.0 292.5,98.9 294.5,98.8 296.5,98.7 298.5,98.7 300.5,98.6 302.5,98.5 304.5,98.4 306.5,98.3 308.5,98.2 310.5,98.1 312.5,97.9 314.5,97.8 316.5,97.7 318.5,97.6 320.5,97.5 322.5,97.5 324.5,97.4 325.5,97.3 325.5,112.0 324.5,112.0 322.5,111.9 320.5,111.9 318.5,111.8 316.5,111.8 314.5,111.7 312.5,111.6 310.5,111.5 308.5,111.4 306.5,111.3 304.5,111.3 302.5,111.2 300.5,111.1 298.5,111.1 296.5,111.0 294.5,110.9 292.5,110.9 290.5,110.8 288.5,110.7 286.5,110.6 284.5,110.5 282.5,110.4 280.5,110.2 278.5,110.1 276.5,110.0 274.5,109.8 272.5,109.7 270.5,109.7 268.5,109.6 266.5,109.5 264.5,109.4 262.5,109.4 260.5,109.4 258.5,109.4 256.5,109.4 254.5,109.4 252.5,109.3 250.5,109.3 248.5,109.3 246.5,109.3 244.5,109.2 242.5,109.2 240.5,109.2 238.5,109.1 236.5,109.1 234.5,109.0 232.5,108.9 230.5,108.8 228.5,108.7 226.5,108.5 224.5,108.4 222.5,108.3 220.5,108.2 218.5,108.1 216.5,107.9 214.5,107.8 212.5,107.7 212.0,107.7 211.5,107.6 211.0,107.6 210.5,107.6 210.0,107.5 209.5,107.5 209.0,107.5 208.5,107.4 208.0,107.4 207.5,107.4 207.0,107.3 206.5,107.3 206.0,107.2 205.5,107.2 205.0,107.2 204.5,107.1 204.0,107.1 203.5,107.1 203.0,107.0 202.5,107.0 202.0,106.9 201.5,106.9 201.0,106.8 200.5,106.7 200.2,106.7Z" fill="#00ff00"/>
<path d="M200.5,106.4 201.0,106.3 201.5,106.2 202.0,106.2 202.5,106.1 203.0,106.1 203.5,106.0 204.0,105.9 204.5,105.9 205.0,105.8 205.5,105.8 206.0,105.7 206.5,105.7 207.0,105.6 207.5,105.6 208.0,105.5 208.5,105.5 209.0,105.5 209.5,105.4 210.0,105.4 210.5,105.3 211.0,105.3 211.5,105.2 212.0,105.2 212.5,105.1 214.5,105.0 216.5,104.8 218.5,104.6 220.5,104.4 222.5,104.2 224.5,104.0 226.5,103.9 228.5,103.7 230.5,103.5 232.5,103.3 234.5,103.2 236.5,103.0 238.5,102.9 240.5,102.7 242.5,102.6 244.5,102.5 246.5,102.4 248.5,102.2 250.5,102.1 252.5,102.0 254.5,101.9 256.5,101.7 258.5,101.6 260.5,101.4 262.5,101.3 264.5,101.1 266.5,101.0 268.5,100.9 270.5,100.8 272.5,100.7 274.5,100.6 276.5,100.5 278.5,100.3 280.5,100.1 282.5,100.0 284.5,99.8 286.5,99.6 288.5,99.5 290.5,99.4 292.5,99.3 294.5,99.2 296.5,99.1 298.5,99.1 300.5,99.0 302.5,98.9 304.5,98.8 306.5,98.7 308.5,98.6 310.5,98.5 312.5,98.3 314.5,98.2 316.5,98.1 318.5,98.0 320.5,97.9 322.5,97.9 324.5,97.8 325.5,97.8 325.5,111.6 324.5,111.6 322.5,111.6 320.5,111.5 318.5,111.5 316.5,111.4 314.5,111.3 312.5,111.3 310.5,111.2 308.5,111.1 306.5,111.0 304.5,110.9 302.5,110.9 300.5,110.8 298.5,110.7 296.5,110.7 294.5,110.6 292.5,110.6 290.5,110.5 288.5,110.4 286.5,110.3 284.5,110.2 282.5,110.1 280.5,109.9 278.5,109.8 276.5,109.7 274.5,109.6 272.5,109.5 270.5,109.4 268.5,109.4 266.5,109.3 264.5,109.2 262.5,109.2 260.5,109.2 258.5,109.2 256.5,109.2 254.5,109.2 252.5,109.1 250.5,109.1 248.5,109.1 246.5,109.1 244.5,109.1 242.5,109.1 240.5,109.0 238.5,109.0 236.5,109.0 234.5,108.9 232.5,108.8 230.5,108.7 228.5,108.5 226.5,108.4 224.5,108.3 222.5,108.2 220.5,108.1 218.5,108.0 216.5,107.8 214.5,107.7 212.5,107.6 212.0,107.6 211.5,107.5 211.0,107.5 210.5,107.5 210.0,107.5 209.5,107.4 209.0,107.4 208.5,107.4 208.0,107.3 207.5,107.3 207.0,107.3 206.5,107.2 206.0,107.2 205.5,107.1 205.0,107.1 204.5,107.1 204.0,107.0 203.5,107.0 203.0,107.0 202.5,106.9 202.0,106.9 201.5,106.8 201.0,106.8 200.5,106.7Z" fill="#27ff00"/>
<path d="M200.8,106.4 201.0,106.3 201.5,106.3 202.0,106.2 202.5,106.2 203.0,106.1 203.5,106.1 204.0,106.0 204.5,105.9 205.0,105.9 205.5,105.9 206.0,105.8 206.5,105.8 207.0,105.7 207.5,105.7 208.0,105.6 208.5,105.6 209.0,105.5 209.5,105.5 210.0,105.4 210.5,105.4 211.0,105.4 211.5,105.3 212.0,105.3 212.5,105.2 214.5,105.0 216.5,104.9 218.5,104.7 220.5,104.5 222.5,104.3 224.5,104.2 226.5,104.0 228.5,103.8 230.5,103.7 232.5,103.5 234.5,103.3 236.5,103.2 238.5,103.0 240.5,102.9 242.5,102.8 244.5,102.7 246.5,102.6 248.5,102.5 250.5,102.4 252.5,102.2 254.5,102.1 256.5,102.0 258.5,101.8 260.5,101.7 262.5,101.6 264.5,101.4 266.5,101.3 268.5,101.2 270.5,101.1 272.5,101.1 274.5,101.0 276.5,100.8 278.5,100.7 280.5,100.5 282.5,100.3 284.5,100.2 286.5,100.0 288.5,99.9 290.5,99.8 292.5,99.7 294.5,99.6 296.5,99.6 298.5,99.5 300.5,99.4 302.5,99.3 304.5,99.2 306.5,99.2 308.5,99.1 310.5,98.9 312.5,98.8 314.5,98.7 316.5,98.6 318.5,98.5 320.5,98.4 322.5,98.4 324.5,98.3 325.5,98.3 325.5,111.3 324.5,111.2 322.5,111.2 320.5,111.2 318.5,111.1 316.5,111.1 314.5,111.0 312.5,110.9 310.5,110.8 308.5,110.7 306.5,110.6 304.5,110.6 302.5,110.5 300.5,110.5 298.5,110.4 296.5,110.4 294.5,110.3 292.5,110.3 290.5,110.2 288.5,110.1 286.5,110.0 284.5,109.9 282.5,109.8 280.5,109.7 278.5,109.5 276.5,109.4 274.5,109.3 272.5,109.2 270.5,109.2 268.5,109.1 266.5,109.1 264.5,109.0 262.5,109.0 260.5,109.0 258.5,109.0 256.5,109.0 254.5,109.0 252.5,109.0 250.5,109.0 248.5,108.9 246.5,108.9 244.5,108.9 242.5,108.9 240.5,108.9 238.5,108.8 236.5,108.8 234.5,108.7 232.5,108.6 230.5,108.5 228.5,108.4 226.5,108.3 224.5,108.2 222.5,108.1 220.5,108.0 218.5,107.9 216.5,107.8 214.5,107.6 212.5,107.5 212.0,107.5 211.5,107.5 211.0,107.4 210.5,107.4 210.0,107.4 209.5,107.3 209.0,107.3 208.5,107.3 208.0,107.3 207.5,107.2 207.0,107.2 206.5,107.2 206.0,107.1 205.5,107.1 205.0,107.1 204.5,107.0 204.0,107.0 203.5,106.9 203.0,106.9 202.5,106.9 202.0,106.8 201.5,106.8 201.0,106.7 200.8,106.7Z" fill="#4eff00"/>
<path d="M201.0,106.4 201.5,106.4 202.0,106.3 202.5,106.2 203.0,106.2 203.5,106.1 204.0,106.1 204.5,106.0 205.0,106.0 205.5,105.9 206.0,105.9 206.5,105.8 207.0,105.8 207.5,105.7 208.0,105.7 208.5,105.6 209.0,105.6 209.5,105.6 210.0,105.5 210.5,105.5 211.0,105.4 211.5,105.4 212.0,105.3 212.5,105.3 214.5,105.1 216.5,105.0 218.5,104.8 220.5,104.6 222.5,104.5 224.5,104.3 226.5,104.1 228.5,104.0 230.5,103.8 232.5,103.6 234.5,103.5 236.5,103.3 238.5,103.2 240.5,103.1 242.5,103.0 244.5,102.9 246.5,102.8 248.5,102.7 250.5,102.6 252.5,102.5 254.5,102.4 256.5,102.3 258.5,102.1 260.5,102.0 262.5,101.9 264.5,101.7 266.5,101.6 268.5,101.6 270.5,101.5 272.5,101.4 274.5,101.3 276.5,101.2 278.5,101.0 280.5,100.9 282.5,100.7 284.5,100.6 286.5,100.4 288.5,100.3 290.5,100.2 292.5,100.1 294.5,100.0 296.5,100.0 298.5,99.9 300.5,99.9 302.5,99.8 304.5,99.7 306.5,99.6 308.5,99.5 310.5,99.4 312.5,99.2 314.5,99.1 316.5,99.0 318.5,98.9 320.5,98.9 322.5,98.9 324.5,98.8 325.5,98.8 325.5,110.8 324.5,110.8 322.5,110.8 320.5,110.8 318.5,110.8 316.5,110.7 314.5,110.6 312.5,110.5 310.5,110.4 308.5,110.3 306.5,110.3 304.5,110.2 302.5,110.1 300.5,110.1 298.5,110.1 296.5,110.0 294.5,110.0 292.5,109.9 290.5,109.9 288.5,109.8 286.5,109.7 284.5,109.6 282.5,109.5 280.5,109.4 278.5,109.3 276.5,109.2 274.5,109.1 272.5,109.0 270.5,108.9 268.5,108.9 266.5,108.8 264.5,108.8 262.5,108.8 260.5,108.8 258.5,108.8 256.5,108.8 254.5,108.8 252.5,108.8 250.5,108.8 248.5,108.8 246.5,108.7 244.5,108.7 242.5,108.7 240.5,108.7 238.5,108.7 236.5,108.7 234.5,108.6 232.5,108.5 230.5,108.4 228.5,108.3 226.5,108.2 224.5,108.1 222.5,108.0 220.5,107.9 218.5,107.8 216.5,107.7 214.5,107.6 212.5,107.5 212.0,107.4 211.5,107.4 211.0,107.4 210.5,107.3 210.0,107.3 209.5,107.3 209.0,107.2 208.5,107.2 208.0,107.2 207.5,107.2 207.0,107.1 206.5,107.1 206.0,107.1 205.5,107.0 205.0,107.0 204.5,107.0 204.0,106.9 203.5,106.9 203.0,106.8 202.5,106.8 202.0,106.8 201.5,106.7 201.0,106.7Z" fill="#76ff00"/>
<path d="M201.2,106.5 201.5,106.4 202.0,106.4 202.5,106.3 203.0,106.2 203.5,106.2 204.0,106.1 204.5,106.1 205.0,106.0 205.5,106.0 206.0,105.9 206.5,105.9 207.0,105.8 207.5,105.8 208.0,105.8 208.5,105.7 209.0,105.7 209.5,105.6 210.0,105.6 210.5,105.6 211.0,105.5 211.5,105.5 212.0,105.4 212.5,105.4 214.5,105.2 216.5,105.1 218.5,104.9 220.5,104.8 222.5,104.6 224.5,104.4 226.5,104.3 228.5,104.1 230.5,104.0 232.5,103.8 234.5,103.6 236.5,103.5 238.5,103.4 240.5,103.3 242.5,103.2 244.5,103.1 246.5,103.0 248.5,102.9 250.5,102.8 252.5,102.7 254.5,102.6 256.5,102.5 258.5,102.4 260.5,102.3 262.5,102.2 264.5,102.1 266.5,102.0 268.5,101.9 270.5,101.8 272.5,101.8 274.5,101.7 276.5,101.6 278.5,101.4 280.5,101.3 282.5,101.1 284.5,101.0 286.5,100.8 288.5,100.7 290.5,100.6 292.5,100.6 294.5,100.5 296.5,100.5 298.5,100.4 300.5,100.3 302.5,100.3 304.5,100.2 306.5,100.1 308.5,100.1 310.5,99.9 312.5,99.7 314.5,99.6 316.5,99.5 318.5,99.5 320.5,99.4 322.5,99.4 324.5,99.4 325.5,99.3 325.5,110.4 324.5,110.4 322.5,110.4 320.5,110.4 318.5,110.3 316.5,110.3 314.5,110.2 312.5,110.1 310.5,110.0 308.5,109.9 306.5,109.9 304.5,109.8 302.5,109.8 300.5,109.7 298.5,109.7 296.5,109.6 294.5,109.6 292.5,109.6 290.5,109.5 288.5,109.4 286.5,109.4 284.5,109.3 282.5,109.2 280.5,109.1 278.5,109.0 276.5,108.9 274.5,108.8 272.5,108.7 270.5,108.7 268.5,108.6 266.5,108.6 264.5,108.6 262.5,108.6 260.5,108.6 258.5,108.6 256.5,108.6 254.5,108.6 252.5,108.6 250.5,108.6 248.5,108.6 246.5,108.6 244.5,108.6 242.5,108.6 240.5,108.6 238.5,108.5 236.5,108.5 234.5,108.5 232.5,108.4 230.5,108.3 228.5,108.2 226.5,108.1 224.5,108.0 222.5,107.9 220.5,107.8 218.5,107.7 216.5,107.6 214.5,107.5 212.5,107.4 212.0,107.3 211.5,107.3 211.0,107.3 210.5,107.3 210.0,107.2 209.5,107.2 209.0,107.2 208.5,107.1 208.0,107.1 207.5,107.1 207.0,107.1 206.5,107.0 206.0,107.0 205.5,107.0 205.0,106.9 204.5,106.9 204.0,106.9 203.5,106.8 203.0,106.8 202.5,106.7 202.0,106.7 201.5,106.6 201.2,106.6Z" fill="#9dff00"/>
<path d="M202.0,106.5 202.5,106.4 203.0,106.3 203.5,106.2 204.0,106.2 204.5,106.1 205.0,106.1 205.5,106.1 206.0,106.0 206.5,106.0 207.0,105.9 207.5,105.9 208.0,105.8 208.5,105.8 209.0,105.8 209.5,105.7 210.0,105.7 210.5,105.6 211.0,105.6 211.5,105.6 212.0,105.5 212.5,105.5 214.5,105.3 216.5,105.2 218.5,105.0 220.5,104.9 222.5,104.7 224.5,104.6 226.5,104.4 228.5,104.3 230.5,104.1 232.5,103.9 234.5,103.8 236.5,103.7 238.5,103.6 240.5,103.5 242.5,103.4 244.5,103.3 246.5,103.2 248.5,103.2 250.5,103.1 252.5,103.0 254.5,102.9 256.5,102.8 258.5,102.7 260.5,102.6 262.5,102.5 264.5,102.4 266.5,102.3 268.5,102.3 270.5,102.2 272.5,102.2 274.5,102.1 276.5,102.0 278.5,101.8 280.5,101.7 282.5,101.6 284.5,101.4 286.5,101.3 288.5,101.2 290.5,101.1 292.5,101.1 294.5,101.0 296.5,101.0 298.5,100.9 300.5,100.9 302.5,100.8 304.5,100.8 306.5,100.7 308.5,100.6 310.5,100.5 312.5,100.3 314.5,100.2 316.5,100.1 318.5,100.0 320.5,100.0 322.5,100.0 324.5,100.0 325.5,100.0 325.5,109.9 324.5,109.9 322.5,109.9 320.5,109.9 318.5,109.9 316.5,109.8 314.5,109.8 312.5,109.7 310.5,109.6 308.5,109.5 306.5,109.4 304.5,109.4 302.5,109.3 300.5,109.3 298.5,109.2 296.5,109.2 294.5,109.2 292.5,109.2 290.5,109.1 288.5,109.1 286.5,109.0 284.5,108.9 282.5,108.8 280.5,108.7 278.5,108.6 276.5,108.6 274.5,108.5 272.5,108.4 270.5,108.4 268.5,108.4 266.5,108.4 264.5,108.3 262.5,108.3 260.5,108.3 258.5,108.3 256.5,108.3 254.5,108.4 252.5,108.4 250.5,108.4 248.5,108.4 246.5,108.4 244.5,108.4 242.5,108.4 240.5,108.4 238.5,108.4 236.5,108.3 234.5,108.3 232.5,108.2 230.5,108.1 228.5,108.0 226.5,107.9 224.5,107.8 222.5,107.8 220.5,107.7 218.5,107.6 216.5,107.5 214.5,107.4 212.5,107.3 212.0,107.3 211.5,107.2 211.0,107.2 210.5,107.2 210.0,107.2 209.5,107.1 209.0,107.1 208.5,107.1 208.0,107.1 207.5,107.0 207.0,107.0 206.5,107.0 206.0,106.9 205.5,106.9 205.0,106.9 204.5,106.8 204.0,106.8 203.5,106.8 203.0,106.7 202.5,106.7 202.0,106.6Z" fill="#c4ff00"/>
<path d="M202.8,106.5 203.0,106.4 203.5,106.3 204.0,106.3 204.5,106.2 205.0,106.2 205.5,106.1 206.0,106.1 206.5,106.0 207.0,106.0 207.5,106.0 208.0,105.9 208.5,105.9 209.0,105.8 209.5,105.8 210.0,105.8 210.5,105.7 211.0,105.7 211.5,105.7 212.0,105.6 212.5,105.6 214.5,105.4 216.5,105.3 218.5,105.1 220.5,105.0 222.5,104.8 224.5,104.7 226.5,104.6 228.5,104.4 230.5,104.3 232.5,104.1 234.5,104.0 236.5,103.9 238.5,103.8 240.5,103.6 242.5,103.6 244.5,103.5 246.5,103.4 248.5,103.4 250.5,103.3 252.5,103.3 254.5,103.2 256.5,103.1 258.5,103.0 260.5,102.9 262.5,102.8 264.5,102.7 266.5,102.7 268.5,102.6 270.5,102.6 272.5,102.6 274.5,102.5 276.5,102.4 278.5,102.3 280.5,102.2 282.5,102.1 284.5,101.9 286.5,101.8 288.5,101.7 290.5,101.7 292.5,101.6 294.5,101.6 296.5,101.6 298.5,101.6 300.5,101.5 302.5,101.5 304.5,101.4 306.5,101.4 308.5,101.3 310.5,101.1 312.5,100.9 314.5,100.8 316.5,100.7 318.5,100.6 320.5,100.6 322.5,100.7 324.5,100.7 325.5,100.7 325.5,109.3 324.5,109.3 322.5,109.3 320.5,109.4 318.5,109.4 316.5,109.3 314.5,109.3 312.5,109.2 310.5,109.1 308.5,108.9 306.5,108.9 304.5,108.8 302.5,108.8 300.5,108.8 298.5,108.8 296.5,108.7 294.5,108.7 292.5,108.7 290.5,108.7 288.5,108.6 286.5,108.6 284.5,108.5 282.5,108.4 280.5,108.4 278.5,108.3 276.5,108.2 274.5,108.2 272.5,108.1 270.5,108.1 268.5,108.1 266.5,108.1 264.5,108.1 262.5,108.1 260.5,108.1 258.5,108.1 256.5,108.1 254.5,108.1 252.5,108.2 250.5,108.2 248.5,108.2 246.5,108.2 244.5,108.2 242.5,108.3 240.5,108.2 238.5,108.2 236.5,108.2 234.5,108.2 232.5,108.1 230.5,108.0 228.5,107.9 226.5,107.8 224.5,107.7 222.5,107.6 220.5,107.6 218.5,107.5 216.5,107.4 214.5,107.3 212.5,107.2 212.0,107.2 211.5,107.2 211.0,107.1 210.5,107.1 210.0,107.1 209.5,107.1 209.0,107.0 208.5,107.0 208.0,107.0 207.5,107.0 207.0,106.9 206.5,106.9 206.0,106.9 205.5,106.8 205.0,106.8 204.5,106.8 204.0,106.7 203.5,106.7 203.0,106.6 202.8,106.6Z" fill="#ebff00"/>
<path d="M203.5,106.4 204.0,106.4 204.5,106.3 205.0,106.3 205.5,106.2 206.0,106.2 206.5,106.1 207.0,106.1 207.5,106.0 208.0,106.0 208.5,106.0 209.0,105.9 209.5,105.9 210.0,105.8 210.5,105.8 211.0,105.8 211.5,105.7 212.0,105.7 212.5,105.7 214.5,105.5 216.5,105.4 218.5,105.3 220.5,105.1 222.5,105.0 224.5,104.8 226.5,104.7 228.5,104.6 230.5,104.4 232.5,104.3 234.5,104.1 236.5,104.0 238.5,103.9 240.5,103.8 242.5,103.8 244.5,103.7 246.5,103.7 248.5,103.6 250.5,103.6 252.5,103.6 254.5,103.5 256.5,103.4 258.5,103.3 260.5,103.3 262.5,103.2 264.5,103.1 266.5,103.1 268.5,103.0 270.5,103.0 272.5,103.0 274.5,103.0 276.5,102.9 278.5,102.8 280.5,102.7 282.5,102.6 284.5,102.5 286.5,102.4 288.5,102.4 290.5,102.3 292.5,102.3 294.5,102.3 296.5,102.3 298.5,102.3 300.5,102.3 302.5,102.3 304.5,102.2 306.5,102.2 308.5,102.1 310.5,101.9 312.5,101.7 314.5,101.6 316.5,101.5 318.5,101.4 320.5,101.4 322.5,101.5 324.5,101.6 325.5,101.6 325.5,108.6 324.5,108.6 322.5,108.7 320.5,108.8 318.5,108.8 316.5,108.7 314.5,108.7 312.5,108.6 310.5,108.4 308.5,108.3 306.5,108.2 304.5,108.2 302.5,108.2 300.5,108.2 298.5,108.2 296.5,108.2 294.5,108.2 292.5,108.2 290.5,108.2 288.5,108.2 286.5,108.1 284.5,108.1 282.5,108.0 280.5,107.9 278.5,107.9 276.5,107.8 274.5,107.8 272.5,107.8 270.5,107.8 268.5,107.8 266.5,107.8 264.5,107.8 262.5,107.9 260.5,107.9 258.5,107.9 256.5,107.9 254.5,107.9 252.5,107.9 250.5,108.0 248.5,108.0 246.5,108.0 244.5,108.1 242.5,108.1 240.5,108.1 238.5,108.1 236.5,108.0 234.5,108.0 232.5,107.9 230.5,107.9 228.5,107.8 226.5,107.7 224.5,107.6 222.5,107.5 220.5,107.4 218.5,107.4 216.5,107.3 214.5,107.2 212.5,107.1 212.0,107.1 211.5,107.1 211.0,107.0 210.5,107.0 210.0,107.0 209.5,107.0 209.0,107.0 208.5,106.9 208.0,106.9 207.5,106.9 207.0,106.9 206.5,106.8 206.0,106.8 205.5,106.8 205.0,106.7 204.5,106.7 204.0,106.7 203.5,106.6Z" fill="#ffeb00"/>
<path d="M204.2,106.5 204.5,106.4 205.0,106.4 205.5,106.3 206.0,106.3 206.5,106.2 207.0,106.2 207.5,106.1 208.0,106.1 208.5,106.1 209.0,106.0 209.5,106.0 210.0,105.9 210.5,105.9 211.0,105.9 211.5,105.8 212.0,105.8 212.5,105.8 214.5,105.6 216.5,105.5 218.5,105.4 220.5,105.2 222.5,105.1 224.5,105.0 226.5,104.8 228.5,104.7 230.5,104.6 232.5,104.4 234.5,104.3 236.5,104.2 238.5,104.1 240.5,104.0 242.5,104.0 244.5,103.9 246.5,103.9 248.5,103.9 250.5,103.9 252.5,103.8 254.5,103.8 256.5,103.8 258.5,103.7 260.5,103.6 262.5,103.6 264.5,103.5 266.5,103.5 268.5,103.5 270.5,103.5 272.5,103.6 274.5,103.6 276.5,103.5 278.5,103.4 280.5,103.4 282.5,103.3 284.5,103.2 286.5,103.2 288.5,103.2 290.5,103.2 292.5,103.2 294.5,103.3 296.5,103.4 298.5,103.4 300.5,103.4 302.5,103.5 304.5,103.4 306.5,103.4 308.5,103.4 310.5,103.1 312.5,102.7 314.5,102.6 316.5,102.5 318.5,102.4 320.5,102.4 322.5,102.7 324.5,102.8 325.5,102.9 325.5,107.6 324.5,107.6 322.5,107.7 320.5,108.0 318.5,108.0 316.5,107.9 314.5,107.9 312.5,107.8 310.5,107.5 308.5,107.3 306.5,107.3 304.5,107.2 302.5,107.2 300.5,107.3 298.5,107.3 296.5,107.3 294.5,107.4 292.5,107.4 290.5,107.5 288.5,107.5 286.5,107.5 284.5,107.5 282.5,107.5 280.5,107.4 278.5,107.4 276.5,107.4 274.5,107.4 272.5,107.4 270.5,107.4 268.5,107.5 266.5,107.5 264.5,107.5 262.5,107.6 260.5,107.6 258.5,107.6 256.5,107.6 254.5,107.7 252.5,107.7 250.5,107.8 248.5,107.8 246.5,107.8 244.5,107.9 242.5,107.9 240.5,107.9 238.5,107.9 236.5,107.9 234.5,107.9 232.5,107.8 230.5,107.7 228.5,107.6 226.5,107.6 224.5,107.5 222.5,107.4 220.5,107.3 218.5,107.3 216.5,107.2 214.5,107.1 212.5,107.0 212.0,107.0 211.5,107.0 211.0,107.0 210.5,106.9 210.0,106.9 209.5,106.9 209.0,106.9 208.5,106.8 208.0,106.8 207.5,106.8 207.0,106.8 206.5,106.7 206.0,106.7 205.5,106.7 205.0,106.6 204.5,106.6 204.2,106.6Z" fill="#ffc400"/>
<path d="M205.5,106.5 206.0,106.4 206.5,106.3 207.0,106.3 207.5,106.2 208.0,106.2 208.5,106.2 209.0,106.1 209.5,106.1 210.0,106.0 210.5,106.0 211.0,106.0 211.5,105.9 212.0,105.9 212.5,105.9 214.5,105.7 216.5,105.6 218.5,105.5 220.5,105.4 222.5,105.2 224.5,105.1 226.5,105.0 228.5,104.9 230.5,104.7 232.5,104.6 234.5,104.5 236.5,104.4 238.5,104.3 240.5,104.2 242.5,104.2 244.5,104.2 246.5,104.2 248.5,104.2 250.5,104.2 252.5,104.2 254.5,104.1 256.5,104.1 258.5,104.1 260.5,104.0 262.5,104.0 264.5,104.0 266.5,104.0 268.5,104.1 270.5,104.2 272.5,104.3 274.5,104.3 276.5,104.3 278.5,104.3 280.5,104.3 282.5,104.3 284.5,104.4 286.5,104.5 288.5,104.8 289.5,105.2 289.5,105.9 288.5,106.2 286.5,106.5 284.5,106.6 282.5,106.7 280.5,106.7 278.5,106.8 276.5,106.8 274.5,106.8 272.5,106.9 270.5,107.0 268.5,107.1 266.5,107.2 264.5,107.2 262.5,107.3 260.5,107.3 258.5,107.3 256.5,107.4 254.5,107.4 252.5,107.5 250.5,107.5 248.5,107.6 246.5,107.6 244.5,107.7 242.5,107.7 240.5,107.7 238.5,107.7 236.5,107.7 234.5,107.7 232.5,107.6 230.5,107.6 228.5,107.5 226.5,107.4 224.5,107.4 222.5,107.3 220.5,107.2 218.5,107.1 216.5,107.1 214.5,107.0 212.5,106.9 212.0,106.9 211.5,106.9 211.0,106.9 210.5,106.8 210.0,106.8 209.5,106.8 209.0,106.8 208.5,106.8 208.0,106.7 207.5,106.7 207.0,106.7 206.5,106.6 206.0,106.6 205.5,106.5ZM316.0,105.2 316.5,105.1 318.5,104.7 320.2,104.8 320.2,106.1 318.5,106.2 316.5,105.9 316.0,105.7Z" fill="#ff9d00"/>
<path d="M206.8,106.5 207.0,106.4 207.5,106.4 208.0,106.3 208.5,106.3 209.0,106.2 209.5,106.2 210.0,106.2 210.5,106.1 211.0,106.1 211.5,106.1 212.0,106.0 212.5,106.0 214.5,105.9 216.5,105.7 218.5,105.6 220.5,105.5 222.5,105.4 224.5,105.3 226.5,105.1 228.5,105.0 230.5,104.9 232.5,104.8 234.5,104.7 236.5,104.6 238.5,104.5 240.5,104.4 242.5,104.4 244.5,104.4 246.5,104.4 248.5,104.5 250.5,104.5 252.5,104.5 254.5,104.5 256.5,104.5 258.5,104.5 260.5,104.5 262.5,104.5 264.5,104.6 266.5,104.7 268.5,104.8 270.5,105.1 271.8,105.5 271.8,106.0 270.5,106.3 268.5,106.6 266.5,106.7 264.5,106.8 262.5,106.9 260.5,107.0 258.5,107.0 256.5,107.1 254.5,107.1 252.5,107.2 250.5,107.3 248.5,107.3 246.5,107.4 244.5,107.5 242.5,107.6 240.5,107.6 238.5,107.6 236.5,107.5 234.5,107.5 232.5,107.5 230.5,107.4 228.5,107.3 226.5,107.3 224.5,107.2 222.5,107.2 220.5,107.1 218.5,107.0 216.5,107.0 214.5,106.9 212.5,106.8 212.0,106.8 211.5,106.8 211.0,106.8 210.5,106.7 210.0,106.7 209.5,106.7 209.0,106.7 208.5,106.6 208.0,106.6 207.5,106.6 207.0,106.5 206.8,106.5Z" fill="#ff7600"/>
<path d="M209.0,106.4 209.5,106.4 210.0,106.3 210.5,106.3 211.0,106.2 211.5,106.2 212.0,106.2 212.5,106.1 214.5,106.0 216.5,105.9 218.5,105.8 220.5,105.7 222.5,105.5 224.5,105.4 226.5,105.3 228.5,105.2 230.5,105.1 232.5,105.0 234.5,104.9 236.5,104.8 238.5,104.7 240.5,104.7 242.5,104.6 244.5,104.7 246.5,104.7 248.5,104.8 250.5,104.8 252.5,104.9 254.5,105.0 256.5,105.1 258.5,105.1 260.5,105.2 262.5,105.3 264.5,105.8 264.5,105.9 262.5,106.3 260.5,106.5 258.5,106.6 256.5,106.7 254.5,106.8 252.5,106.9 250.5,107.0 248.5,107.1 246.5,107.2 244.5,107.3 242.5,107.4 240.5,107.4 238.5,107.4 236.5,107.4 234.5,107.4 232.5,107.3 230.5,107.3 228.5,107.2 226.5,107.1 224.5,107.1 222.5,107.0 220.5,107.0 218.5,106.9 216.5,106.8 214.5,106.8 212.5,106.7 212.0,106.7 211.5,106.6 211.0,106.6 210.5,106.6 210.0,106.6 209.5,106.5 209.0,106.5Z" fill="#ff4e00"/>
<path d="M212.0,106.4 212.5,106.3 214.5,106.2 216.5,106.1 218.5,105.9 220.5,105.8 222.5,105.7 224.5,105.6 226.5,105.5 228.5,105.4 230.5,105.3 232.5,105.2 234.5,105.1 236.5,105.0 238.5,105.0 240.5,104.9 242.5,104.9 244.5,105.0 246.5,105.0 248.5,105.2 250.5,105.3 252.5,105.5 254.5,105.9 254.5,106.1 252.5,106.4 250.5,106.6 248.5,106.8 246.5,106.9 244.5,107.0 242.5,107.1 240.5,107.2 238.5,107.2 236.5,107.2 234.5,107.2 232.5,107.1 230.5,107.1 228.5,107.0 226.5,107.0 224.5,106.9 222.5,106.9 220.5,106.8 218.5,106.7 216.5,106.7 214.5,106.6 212.5,106.5 212.0,106.4Z" fill="#ff2700"/>
<path d="M216.2,106.4 216.5,106.3 218.5,106.2 220.5,106.0 222.5,105.9 224.5,105.8 226.5,105.7 228.5,105.6 230.5,105.5 232.5,105.4 234.5,105.3 236.5,105.3 238.5,105.2 240.5,105.2 242.5,105.2 244.5,105.3 246.5,105.5 248.5,105.8 249.2,106.0 249.2,106.1 248.5,106.3 246.5,106.6 244.5,106.8 242.5,106.9 240.5,106.9 238.5,106.9 236.5,106.9 234.5,106.9 232.5,106.9 230.5,106.9 228.5,106.8 226.5,106.8 224.5,106.7 222.5,106.7 220.5,106.6 218.5,106.5 216.5,106.4 216.2,106.4Z" fill="#ff0000"/>
<path d="M196.8,136.1 197.0,136.0 197.5,136.0 198.0,135.9 198.5,135.9 199.0,135.8 199.5,135.7 200.0,135.7 200.5,135.6 201.0,135.5 201.5,135.5 202.0,135.4 202.5,135.3 203.0,135.3 203.5,135.2 204.0,135.1 204.5,135.1 205.0,135.0 205.5,134.9 206.0,134.9 206.5,134.8 207.0,134.7 207.5,134.7 208.0,134.6 208.5,134.5 209.0,134.5 209.5,134.4 210.0,134.3 210.5,134.3 211.0,134.2 211.5,134.1 212.0,134.1 212.5,134.0 214.5,133.8 216.5,133.6 218.5,133.4 220.5,133.2 222.5,132.9 224.5,132.8 226.5,132.6 228.5,132.4 230.5,132.2 232.5,132.0 234.5,131.9 236.5,131.8 238.5,131.7 240.5,131.6 242.5,131.5 244.5,131.4 246.5,131.4 248.5,131.3 250.5,131.2 252.5,131.1 254.5,131.0 256.5,130.9 258.5,130.8 260.5,130.7 262.5,130.6 264.5,130.5 266.5,130.4 268.5,130.2 270.5,130.0 272.5,129.8 274.5,129.7 276.5,129.5 278.5,129.3 280.5,129.1 282.5,129.0 284.5,128.8 286.5,128.6 288.5,128.4 290.5,128.3 292.5,128.2 294.5,128.1 296.5,128.0 298.5,127.9 300.5,127.8 302.5,127.7 304.5,127.6 306.5,127.6 308.5,127.5 310.5,127.4 312.5,127.3 314.5,127.2 316.5,127.1 318.5,127.0 320.5,126.9 322.5,126.8 324.5,126.7 325.5,126.7 325.5,151.6 324.5,151.5 322.5,151.4 320.5,151.2 318.5,151.0 316.5,150.9 314.5,150.7 312.5,150.6 310.5,150.4 308.5,150.3 306.5,150.1 304.5,149.9 302.5,149.8 300.5,149.6 298.5,149.5 296.5,149.3 294.5,149.2 292.5,149.0 290.5,148.8 288.5,148.7 286.5,148.5 284.5,148.3 282.5,148.2 280.5,148.0 278.5,147.8 276.5,147.7 274.5,147.5 272.5,147.3 270.5,147.2 268.5,147.0 266.5,146.8 264.5,146.6 262.5,146.4 260.5,146.1 258.5,145.9 256.5,145.6 254.5,145.4 252.5,145.1 250.5,144.9 248.5,144.6 246.5,144.3 244.5,144.0 242.5,143.8 240.5,143.5 238.5,143.2 236.5,142.9 234.5,142.7 232.5,142.4 230.5,142.1 228.5,141.9 226.5,141.6 224.5,141.3 222.5,141.1 220.5,140.8 218.5,140.4 216.5,140.1 214.5,139.8 212.5,139.5 212.0,139.4 211.5,139.3 211.0,139.2 210.5,139.2 210.0,139.1 209.5,139.0 209.0,138.9 208.5,138.8 208.0,138.7 207.5,138.6 207.0,138.6 206.5,138.5 206.0,138.4 205.5,138.3 205.0,138.2 204.5,138.1 204.0,138.0 203.5,138.0 203.0,137.9 202.5,137.8 202.0,137.7 201.5,137.6 201.0,137.5 200.5,137.4 200.0,137.3 199.5,137.2 199.0,137.2 198.5,137.1 198.0,137.0 197.5,136.9 197.0,136.8 196.8,136.8Z" fill="#0027ff"/>
<path d="M197.0,136.2 197.5,136.1 198.0,136.0 198.5,135.9 199.0,135.8 199.5,135.8 200.0,135.7 200.5,135.7 201.0,135.6 201.5,135.5 202.0,135.5 202.5,135.4 203.0,135.3 203.5,135.3 204.0,135.2 204.5,135.1 205.0,135.1 205.5,135.0 206.0,135.0 206.5,134.9 207.0,134.8 207.5,134.8 208.0,134.7 208.5,134.6 209.0,134.6 209.5,134.5 210.0,134.4 210.5,134.4 211.0,134.3 211.5,134.2 212.0,134.2 212.5,134.1 214.5,133.9 216.5,133.7 218.5,133.5 220.5,133.3 222.5,133.1 224.5,132.9 226.5,132.8 228.5,132.6 230.5,132.4 232.5,132.2 234.5,132.1 236.5,132.0 238.5,131.9 240.5,131.8 242.5,131.7 244.5,131.7 246.5,131.6 248.5,131.5 250.5,131.4 252.5,131.4 254.5,131.3 256.5,131.2 258.5,131.1 260.5,131.0 262.5,130.9 264.5,130.8 266.5,130.7 268.5,130.5 270.5,130.3 272.5,130.2 274.5,130.0 276.5,129.8 278.5,129.6 280.5,129.5 282.5,129.3 284.5,129.1 286.5,129.0 288.5,128.8 290.5,128.6 292.5,128.6 294.5,128.5 296.5,128.4 298.5,128.3 300.5,128.2 302.5,128.1 304.5,128.0 306.5,127.9 308.5,127.9 310.5,127.8 312.5,127.7 314.5,127.6 316.5,127.5 318.5,127.4 320.5,127.3 322.5,127.2 324.5,127.1 325.5,127.1 325.5,151.0 324.5,151.0 322.5,150.8 320.5,150.7 318.5,150.5 316.5,150.4 314.5,150.2 312.5,150.0 310.5,149.9 308.5,149.7 306.5,149.6 304.5,149.4 302.5,149.3 300.5,149.1 298.5,149.0 296.5,148.8 294.5,148.7 292.5,148.5 290.5,148.4 288.5,148.2 286.5,148.0 284.5,147.9 282.5,147.7 280.5,147.6 278.5,147.4 276.5,147.2 274.5,147.1 272.5,146.9 270.5,146.7 268.5,146.6 266.5,146.4 264.5,146.2 262.5,146.0 260.5,145.7 258.5,145.5 256.5,145.3 254.5,145.0 252.5,144.8 250.5,144.5 248.5,144.3 246.5,144.0 244.5,143.7 242.5,143.5 240.5,143.2 238.5,142.9 236.5,142.7 234.5,142.4 232.5,142.2 230.5,141.9 228.5,141.6 226.5,141.4 224.5,141.1 222.5,140.9 220.5,140.6 218.5,140.3 216.5,140.0 214.5,139.7 212.5,139.4 212.0,139.3 211.5,139.2 211.0,139.1 210.5,139.0 210.0,139.0 209.5,138.9 209.0,138.8 208.5,138.7 208.0,138.6 207.5,138.5 207.0,138.5 206.5,138.4 206.0,138.3 205.5,138.2 205.0,138.1 204.5,138.0 204.0,138.0 203.5,137.9 203.0,137.8 202.5,137.7 202.0,137.6 201.5,137.5 201.0,137.5 200.5,137.4 200.0,137.3 199.5,137.2 199.0,137.1 198.5,137.0 198.0,136.9 197.5,136.8 197.0,136.6Z" fill="#004eff"/>
<path d="M197.2,136.2 197.5,136.2 198.0,136.1 198.5,136.0 199.0,135.9 199.5,135.8 200.0,135.8 200.5,135.7 201.0,135.6 201.5,135.6 202.0,135.5 202.5,135.5 203.0,135.4 203.5,135.3 204.0,135.3 204.5,135.2 205.0,135.2 205.5,135.1 206.0,135.0 206.5,135.0 207.0,134.9 207.5,134.8 208.0,134.8 208.5,134.7 209.0,134.7 209.5,134.6 210.0,134.5 210.5,134.5 211.0,134.4 211.5,134.4 212.0,134.3 212.5,134.2 214.5,134.0 216.5,133.8 218.5,133.6 220.5,133.4 222.5,133.3 224.5,133.1 226.5,132.9 228.5,132.8 230.5,132.6 232.5,132.4 234.5,132.3 236.5,132.2 238.5,132.1 240.5,132.0 242.5,132.0 244.5,131.9 246.5,131.8 248.5,131.8 250.5,131.7 252.5,131.6 254.5,131.5 256.5,131.4 258.5,131.3 260.5,131.3 262.5,131.2 264.5,131.1 266.5,130.9 268.5,130.8 270.5,130.6 272.5,130.5 274.5,130.3 276.5,130.1 278.5,130.0 280.5,129.8 282.5,129.6 284.5,129.5 286.5,129.3 288.5,129.1 290.5,129.0 292.5,128.9 294.5,128.8 296.5,128.7 298.5,128.7 300.5,128.6 302.5,128.5 304.5,128.4 306.5,128.3 308.5,128.2 310.5,128.1 312.5,128.0 314.5,128.0 316.5,127.9 318.5,127.8 320.5,127.7 322.5,127.6 324.5,127.5 325.5,127.5 325.5,150.5 324.5,150.4 322.5,150.3 320.5,150.1 318.5,150.0 316.5,149.8 314.5,149.7 312.5,149.5 310.5,149.4 308.5,149.2 306.5,149.1 304.5,149.0 302.5,148.8 300.5,148.6 298.5,148.5 296.5,148.4 294.5,148.2 292.5,148.1 290.5,147.9 288.5,147.7 286.5,147.6 284.5,147.4 282.5,147.3 280.5,147.1 278.5,147.0 276.5,146.8 274.5,146.6 272.5,146.5 270.5,146.3 268.5,146.2 266.5,146.0 264.5,145.8 262.5,145.6 260.5,145.4 258.5,145.1 256.5,144.9 254.5,144.7 252.5,144.4 250.5,144.2 248.5,144.0 246.5,143.7 244.5,143.5 242.5,143.2 240.5,143.0 238.5,142.7 236.5,142.4 234.5,142.2 232.5,141.9 230.5,141.7 228.5,141.4 226.5,141.2 224.5,141.0 222.5,140.7 220.5,140.4 218.5,140.1 216.5,139.8 214.5,139.5 212.5,139.2 212.0,139.2 211.5,139.1 211.0,139.0 210.5,138.9 210.0,138.8 209.5,138.8 209.0,138.7 208.5,138.6 208.0,138.5 207.5,138.4 207.0,138.4 206.5,138.3 206.0,138.2 205.5,138.1 205.0,138.0 204.5,138.0 204.0,137.9 203.5,137.8 203.0,137.7 202.5,137.6 202.0,137.6 201.5,137.5 201.0,137.4 200.5,137.3 200.0,137.2 199.5,137.1 199.0,137.0 198.5,136.9 198.0,136.8 197.5,136.7 197.2,136.6Z" fill="#0076ff"/>
<path d="M197.5,136.3 198.0,136.1 198.5,136.0 199.0,136.0 199.5,135.9 200.0,135.8 200.5,135.8 201.0,135.7 201.5,135.6 202.0,135.6 202.5,135.5 203.0,135.5 203.5,135.4 204.0,135.3 204.5,135.3 205.0,135.2 205.5,135.2 206.0,135.1 206.5,135.0 207.0,135.0 207.5,134.9 208.0,134.9 208.5,134.8 209.0,134.7 209.5,134.7 210.0,134.6 210.5,134.6 211.0,134.5 211.5,134.5 212.0,134.4 212.5,134.3 214.5,134.1 216.5,134.0 218.5,133.8 220.5,133.6 222.5,133.4 224.5,133.2 226.5,133.1 228.5,132.9 230.5,132.8 232.5,132.6 234.5,132.5 236.5,132.4 238.5,132.3 240.5,132.2 242.5,132.2 244.5,132.1 246.5,132.0 248.5,132.0 250.5,131.9 252.5,131.8 254.5,131.8 256.5,131.7 258.5,131.6 260.5,131.5 262.5,131.4 264.5,131.4 266.5,131.2 268.5,131.1 270.5,130.9 272.5,130.7 274.5,130.6 276.5,130.4 278.5,130.3 280.5,130.1 282.5,129.9 284.5,129.8 286.5,129.6 288.5,129.5 290.5,129.3 292.5,129.2 294.5,129.2 296.5,129.1 298.5,129.0 300.5,128.9 302.5,128.8 304.5,128.7 306.5,128.7 308.5,128.6 310.5,128.5 312.5,128.4 314.5,128.3 316.5,128.2 318.5,128.2 320.5,128.1 322.5,128.0 324.5,127.9 325.5,127.9 325.5,150.0 324.5,149.9 322.5,149.8 320.5,149.6 318.5,149.5 316.5,149.3 314.5,149.2 312.5,149.1 310.5,148.9 308.5,148.8 306.5,148.6 304.5,148.5 302.5,148.3 300.5,148.2 298.5,148.0 296.5,147.9 294.5,147.8 292.5,147.6 290.5,147.5 288.5,147.3 286.5,147.2 284.5,147.0 282.5,146.9 280.5,146.7 278.5,146.6 276.5,146.4 274.5,146.2 272.5,146.1 270.5,145.9 268.5,145.8 266.5,145.6 264.5,145.5 262.5,145.2 260.5,145.0 258.5,144.8 256.5,144.6 254.5,144.3 252.5,144.1 250.5,143.9 248.5,143.7 246.5,143.4 244.5,143.2 242.5,142.9 240.5,142.7 238.5,142.5 236.5,142.2 234.5,142.0 232.5,141.7 230.5,141.5 228.5,141.3 226.5,141.0 224.5,140.8 222.5,140.5 220.5,140.3 218.5,140.0 216.5,139.7 214.5,139.4 212.5,139.1 212.0,139.0 211.5,139.0 211.0,138.9 210.5,138.8 210.0,138.7 209.5,138.7 209.0,138.6 208.5,138.5 208.0,138.4 207.5,138.4 207.0,138.3 206.5,138.2 206.0,138.1 205.5,138.0 205.0,138.0 204.5,137.9 204.0,137.8 203.5,137.7 203.0,137.7 202.5,137.6 202.0,137.5 201.5,137.4 201.0,137.3 200.5,137.2 200.0,137.1 199.5,137.1 199.0,137.0 198.5,136.8 198.0,136.7 197.5,136.6Z" fill="#009dff"/>
<path d="M197.8,136.3 198.0,136.2 198.5,136.1 199.0,136.0 199.5,135.9 200.0,135.9 200.5,135.8 201.0,135.7 201.5,135.7 202.0,135.6 202.5,135.6 203.0,135.5 203.5,135.5 204.0,135.4 204.5,135.3 205.0,135.3 205.5,135.2 206.0,135.2 206.5,135.1 207.0,135.1 207.5,135.0 208.0,134.9 208.5,134.9 209.0,134.8 209.5,134.8 210.0,134.7 210.5,134.7 211.0,134.6 211.5,134.5 212.0,134.5 212.5,134.4 214.5,134.2 216.5,134.1 218.5,133.9 220.5,133.7 222.5,133.5 224.5,133.4 226.5,133.2 228.5,133.1 230.5,132.9 232.5,132.8 234.5,132.6 236.5,132.6 238.5,132.5 240.5,132.4 242.5,132.4 244.5,132.3 246.5,132.2 248.5,132.2 250.5,132.1 252.5,132.1 254.5,132.0 256.5,131.9 258.5,131.8 260.5,131.8 262.5,131.7 264.5,131.6 266.5,131.5 268.5,131.3 270.5,131.2 272.5,131.0 274.5,130.9 276.5,130.7 278.5,130.5 280.5,130.4 282.5,130.2 284.5,130.1 286.5,130.0 288.5,129.8 290.5,129.7 292.5,129.6 294.5,129.5 296.5,129.4 298.5,129.3 300.5,129.3 302.5,129.2 304.5,129.1 306.5,129.0 308.5,128.9 310.5,128.8 312.5,128.8 314.5,128.7 316.5,128.6 318.5,128.5 320.5,128.4 322.5,128.4 324.5,128.3 325.5,128.2 325.5,149.5 324.5,149.4 322.5,149.3 320.5,149.1 318.5,149.0 316.5,148.9 314.5,148.7 312.5,148.6 310.5,148.4 308.5,148.3 306.5,148.2 304.5,148.0 302.5,147.9 300.5,147.7 298.5,147.6 296.5,147.5 294.5,147.3 292.5,147.2 290.5,147.0 288.5,146.9 286.5,146.7 284.5,146.6 282.5,146.5 280.5,146.3 278.5,146.2 276.5,146.0 274.5,145.9 272.5,145.7 270.5,145.6 268.5,145.4 266.5,145.3 264.5,145.1 262.5,144.9 260.5,144.7 258.5,144.4 256.5,144.2 254.5,144.0 252.5,143.8 250.5,143.6 248.5,143.4 246.5,143.2 244.5,142.9 242.5,142.7 240.5,142.5 238.5,142.2 236.5,142.0 234.5,141.8 232.5,141.5 230.5,141.3 228.5,141.1 226.5,140.8 224.5,140.6 222.5,140.4 220.5,140.1 218.5,139.8 216.5,139.6 214.5,139.3 212.5,139.0 212.0,138.9 211.5,138.9 211.0,138.8 210.5,138.7 210.0,138.6 209.5,138.6 209.0,138.5 208.5,138.4 208.0,138.3 207.5,138.3 207.0,138.2 206.5,138.1 206.0,138.0 205.5,138.0 205.0,137.9 204.5,137.8 204.0,137.7 203.5,137.7 203.0,137.6 202.5,137.5 202.0,137.4 201.5,137.4 201.0,137.3 200.5,137.2 200.0,137.1 199.5,137.0 199.0,136.9 198.5,136.8 198.0,136.6 197.8,136.5Z" fill="#00c4ff"/>
<path d="M198.0,136.3 198.5,136.2 199.0,136.1 199.5,136.0 200.0,135.9 200.5,135.9 201.0,135.8 201.5,135.7 202.0,135.7 202.5,135.6 203.0,135.6 203.5,135.5 204.0,135.5 204.5,135.4 205.0,135.4 205.5,135.3 206.0,135.2 206.5,135.2 207.0,135.1 207.5,135.1 208.0,135.0 208.5,135.0 209.0,134.9 209.5,134.9 210.0,134.8 210.5,134.7 211.0,134.7 211.5,134.6 212.0,134.6 212.5,134.5 214.5,134.3 216.5,134.2 218.5,134.0 220.5,133.8 222.5,133.7 224.5,133.5 226.5,133.4 228.5,133.2 230.5,133.1 232.5,132.9 234.5,132.8 236.5,132.7 238.5,132.7 240.5,132.6 242.5,132.6 244.5,132.5 246.5,132.4 248.5,132.4 250.5,132.3 252.5,132.3 254.5,132.2 256.5,132.1 258.5,132.1 260.5,132.0 262.5,131.9 264.5,131.9 266.5,131.7 268.5,131.6 270.5,131.4 272.5,131.3 274.5,131.1 276.5,131.0 278.5,130.8 280.5,130.7 282.5,130.5 284.5,130.4 286.5,130.3 288.5,130.1 290.5,130.0 292.5,129.9 294.5,129.8 296.5,129.8 298.5,129.7 300.5,129.6 302.5,129.5 304.5,129.4 306.5,129.3 308.5,129.3 310.5,129.2 312.5,129.1 314.5,129.0 316.5,129.0 318.5,128.9 320.5,128.8 322.5,128.7 324.5,128.6 325.5,128.6 325.5,149.0 324.5,148.9 322.5,148.8 320.5,148.6 318.5,148.5 316.5,148.4 314.5,148.2 312.5,148.1 310.5,148.0 308.5,147.8 306.5,147.7 304.5,147.6 302.5,147.4 300.5,147.3 298.5,147.1 296.5,147.0 294.5,146.9 292.5,146.8 290.5,146.6 288.5,146.5 286.5,146.3 284.5,146.2 282.5,146.1 280.5,145.9 278.5,145.8 276.5,145.6 274.5,145.5 272.5,145.3 270.5,145.2 268.5,145.1 266.5,144.9 264.5,144.8 262.5,144.5 260.5,144.3 258.5,144.1 256.5,143.9 254.5,143.7 252.5,143.5 250.5,143.3 248.5,143.1 246.5,142.9 244.5,142.7 242.5,142.5 240.5,142.2 238.5,142.0 236.5,141.8 234.5,141.6 232.5,141.3 230.5,141.1 228.5,140.9 226.5,140.7 224.5,140.4 222.5,140.2 220.5,140.0 218.5,139.7 216.5,139.4 214.5,139.2 212.5,138.9 212.0,138.8 211.5,138.8 211.0,138.7 210.5,138.6 210.0,138.5 209.5,138.5 209.0,138.4 208.5,138.3 208.0,138.3 207.5,138.2 207.0,138.1 206.5,138.0 206.0,138.0 205.5,137.9 205.0,137.8 204.5,137.7 204.0,137.7 203.5,137.6 203.0,137.5 202.5,137.4 202.0,137.4 201.5,137.3 201.0,137.2 200.5,137.1 200.0,137.0 199.5,136.9 199.0,136.8 198.5,136.7 198.0,136.5Z" fill="#00ebff"/>
<path d="M198.2,136.4 198.5,136.3 199.0,136.1 199.5,136.1 200.0,136.0 200.5,135.9 201.0,135.8 201.5,135.8 202.0,135.7 202.5,135.7 203.0,135.6 203.5,135.6 204.0,135.5 204.5,135.5 205.0,135.4 205.5,135.4 206.0,135.3 206.5,135.3 207.0,135.2 207.5,135.1 208.0,135.1 208.5,135.0 209.0,135.0 209.5,134.9 210.0,134.9 210.5,134.8 211.0,134.8 211.5,134.7 212.0,134.7 212.5,134.6 214.5,134.4 216.5,134.3 218.5,134.1 220.5,134.0 222.5,133.8 224.5,133.7 226.5,133.5 228.5,133.4 230.5,133.2 232.5,133.1 234.5,133.0 236.5,132.9 238.5,132.8 240.5,132.8 242.5,132.7 244.5,132.7 246.5,132.6 248.5,132.6 250.5,132.5 252.5,132.5 254.5,132.4 256.5,132.4 258.5,132.3 260.5,132.2 262.5,132.2 264.5,132.1 266.5,132.0 268.5,131.8 270.5,131.7 272.5,131.5 274.5,131.4 276.5,131.3 278.5,131.1 280.5,131.0 282.5,130.8 284.5,130.7 286.5,130.6 288.5,130.4 290.5,130.3 292.5,130.2 294.5,130.1 296.5,130.1 298.5,130.0 300.5,129.9 302.5,129.8 304.5,129.8 306.5,129.7 308.5,129.6 310.5,129.5 312.5,129.4 314.5,129.4 316.5,129.3 318.5,129.2 320.5,129.2 322.5,129.1 324.5,129.0 325.5,129.0 325.5,148.5 324.5,148.4 322.5,148.3 320.5,148.2 318.5,148.0 316.5,147.9 314.5,147.8 312.5,147.7 310.5,147.5 308.5,147.4 306.5,147.3 304.5,147.1 302.5,147.0 300.5,146.9 298.5,146.7 296.5,146.6 294.5,146.5 292.5,146.3 290.5,146.2 288.5,146.1 286.5,145.9 284.5,145.8 282.5,145.7 280.5,145.5 278.5,145.4 276.5,145.3 274.5,145.1 272.5,145.0 270.5,144.8 268.5,144.7 266.5,144.6 264.5,144.4 262.5,144.2 260.5,144.0 258.5,143.8 256.5,143.6 254.5,143.4 252.5,143.2 250.5,143.0 248.5,142.8 246.5,142.6 244.5,142.4 242.5,142.2 240.5,142.0 238.5,141.8 236.5,141.6 234.5,141.4 232.5,141.2 230.5,140.9 228.5,140.7 226.5,140.5 224.5,140.3 222.5,140.1 220.5,139.8 218.5,139.6 216.5,139.3 214.5,139.1 212.5,138.8 212.0,138.7 211.5,138.7 211.0,138.6 210.5,138.5 210.0,138.4 209.5,138.4 209.0,138.3 208.5,138.2 208.0,138.2 207.5,138.1 207.0,138.0 206.5,138.0 206.0,137.9 205.5,137.8 205.0,137.7 204.5,137.7 204.0,137.6 203.5,137.5 203.0,137.5 202.5,137.4 202.0,137.3 201.5,137.2 201.0,137.2 200.5,137.1 200.0,137.0 199.5,136.9 199.0,136.8 198.5,136.6 198.2,136.5Z" fill="#00ffeb"/>
<path d="M198.5,136.4 199.0,136.2 199.5,136.1 200.0,136.0 200.5,136.0 201.0,135.9 201.5,135.8 202.0,135.8 202.5,135.7 203.0,135.7 203.5,135.6 204.0,135.6 204.5,135.5 205.0,135.5 205.5,135.4 206.0,135.4 206.5,135.3 207.0,135.3 207.5,135.2 208.0,135.2 208.5,135.1 209.0,135.1 209.5,135.0 210.0,135.0 210.5,134.9 211.0,134.9 211.5,134.8 212.0,134.8 212.5,134.7 214.5,134.5 216.5,134.4 218.5,134.2 220.5,134.1 222.5,133.9 224.5,133.8 226.5,133.6 228.5,133.5 230.5,133.4 232.5,133.2 234.5,133.1 236.5,133.1 238.5,133.0 240.5,132.9 242.5,132.9 244.5,132.9 246.5,132.8 248.5,132.8 250.5,132.7 252.5,132.7 254.5,132.6 256.5,132.6 258.5,132.5 260.5,132.5 262.5,132.4 264.5,132.3 266.5,132.2 268.5,132.1 270.5,131.9 272.5,131.8 274.5,131.7 276.5,131.5 278.5,131.4 280.5,131.3 282.5,131.1 284.5,131.0 286.5,130.9 288.5,130.7 290.5,130.6 292.5,130.5 294.5,130.5 296.5,130.4 298.5,130.3 300.5,130.2 302.5,130.2 304.5,130.1 306.5,130.0 308.5,129.9 310.5,129.9 312.5,129.8 314.5,129.7 316.5,129.6 318.5,129.6 320.5,129.5 322.5,129.4 324.5,129.4 325.5,129.3 325.5,148.0 324.5,148.0 322.5,147.8 320.5,147.7 318.5,147.6 316.5,147.4 314.5,147.3 312.5,147.2 310.5,147.1 308.5,146.9 306.5,146.8 304.5,146.7 302.5,146.6 300.5,146.4 298.5,146.3 296.5,146.2 294.5,146.0 292.5,145.9 290.5,145.8 288.5,145.6 286.5,145.5 284.5,145.4 282.5,145.3 280.5,145.2 278.5,145.0 276.5,144.9 274.5,144.8 272.5,144.6 270.5,144.5 268.5,144.4 266.5,144.2 264.5,144.1 262.5,143.9 260.5,143.7 258.5,143.5 256.5,143.3 254.5,143.1 252.5,143.0 250.5,142.8 248.5,142.6 246.5,142.4 244.5,142.2 242.5,142.0 240.5,141.8 238.5,141.6 236.5,141.4 234.5,141.2 232.5,141.0 230.5,140.8 228.5,140.6 226.5,140.4 224.5,140.1 222.5,139.9 220.5,139.7 218.5,139.4 216.5,139.2 214.5,138.9 212.5,138.7 212.0,138.6 211.5,138.6 211.0,138.5 210.5,138.4 210.0,138.4 209.5,138.3 209.0,138.2 208.5,138.2 208.0,138.1 207.5,138.0 207.0,138.0 206.5,137.9 206.0,137.8 205.5,137.7 205.0,137.7 204.5,137.6 204.0,137.5 203.5,137.5 203.0,137.4 202.5,137.3 202.0,137.3 201.5,137.2 201.0,137.1 200.5,137.0 200.0,136.9 199.5,136.8 199.0,136.7 198.5,136.5Z" fill="#00ffc4"/>
<path d="M198.8,136.4 199.0,136.3 199.5,136.2 200.0,136.1 200.5,136.0 201.0,135.9 201.5,135.9 202.0,135.8 202.5,135.8 203.0,135.7 203.5,135.7 204.0,135.6 204.5,135.6 205.0,135.5 205.5,135.5 206.0,135.4 206.5,135.4 207.0,135.3 207.5,135.3 208.0,135.2 208.5,135.2 209.0,135.1 209.5,135.1 210.0,135.0 210.5,135.0 211.0,134.9 211.5,134.9 212.0,134.8 212.5,134.8 214.5,134.6 216.5,134.5 218.5,134.3 220.5,134.2 222.5,134.0 224.5,133.9 226.5,133.8 228.5,133.6 230.5,133.5 232.5,133.4 234.5,133.3 236.5,133.2 238.5,133.2 240.5,133.1 242.5,133.1 244.5,133.0 246.5,133.0 248.5,133.0 250.5,132.9 252.5,132.9 254.5,132.8 256.5,132.8 258.5,132.7 260.5,132.7 262.5,132.6 264.5,132.6 266.5,132.4 268.5,132.3 270.5,132.2 272.5,132.1 274.5,131.9 276.5,131.8 278.5,131.7 280.5,131.5 282.5,131.4 284.5,131.3 286.5,131.2 288.5,131.1 290.5,130.9 292.5,130.9 294.5,130.8 296.5,130.7 298.5,130.7 300.5,130.6 302.5,130.5 304.5,130.4 306.5,130.3 308.5,130.3 310.5,130.2 312.5,130.1 314.5,130.1 316.5,130.0 318.5,129.9 320.5,129.9 322.5,129.8 324.5,129.7 325.5,129.7 325.5,147.5 324.5,147.5 322.5,147.3 320.5,147.2 318.5,147.1 316.5,147.0 314.5,146.9 312.5,146.7 310.5,146.6 308.5,146.5 306.5,146.4 304.5,146.2 302.5,146.1 300.5,146.0 298.5,145.9 296.5,145.7 294.5,145.6 292.5,145.5 290.5,145.4 288.5,145.2 286.5,145.1 284.5,145.0 282.5,144.9 280.5,144.8 278.5,144.7 276.5,144.5 274.5,144.4 272.5,144.3 270.5,144.2 268.5,144.0 266.5,143.9 264.5,143.8 262.5,143.6 260.5,143.4 258.5,143.2 256.5,143.0 254.5,142.9 252.5,142.7 250.5,142.5 248.5,142.3 246.5,142.2 244.5,142.0 242.5,141.8 240.5,141.6 238.5,141.4 236.5,141.2 234.5,141.0 232.5,140.8 230.5,140.6 228.5,140.4 226.5,140.2 224.5,140.0 222.5,139.8 220.5,139.6 218.5,139.3 216.5,139.1 214.5,138.8 212.5,138.6 212.0,138.5 211.5,138.5 211.0,138.4 210.5,138.3 210.0,138.3 209.5,138.2 209.0,138.1 208.5,138.1 208.0,138.0 207.5,137.9 207.0,137.9 206.5,137.8 206.0,137.7 205.5,137.7 205.0,137.6 204.5,137.5 204.0,137.5 203.5,137.4 203.0,137.3 202.5,137.3 202.0,137.2 201.5,137.1 201.0,137.1 200.5,137.0 200.0,136.9 199.5,136.7 199.0,136.6 198.8,136.5Z" fill="#00ff9d"/>
<path d="M199.2,136.3 199.5,136.2 200.0,136.1 200.5,136.0 201.0,136.0 201.5,135.9 202.0,135.9 202.5,135.8 203.0,135.8 203.5,135.7 204.0,135.7 204.5,135.6 205.0,135.6 205.5,135.5 206.0,135.5 206.5,135.4 207.0,135.4 207.5,135.4 208.0,135.3 208.5,135.3 209.0,135.2 209.5,135.2 210.0,135.1 210.5,135.1 211.0,135.0 211.5,135.0 212.0,134.9 212.5,134.9 214.5,134.7 216.5,134.6 218.5,134.4 220.5,134.3 222.5,134.1 224.5,134.0 226.5,133.9 228.5,133.8 230.5,133.7 232.5,133.5 234.5,133.4 236.5,133.4 238.5,133.3 240.5,133.3 242.5,133.2 244.5,133.2 246.5,133.2 248.5,133.2 250.5,133.1 252.5,133.1 254.5,133.0 256.5,133.0 258.5,133.0 260.5,132.9 262.5,132.8 264.5,132.8 266.5,132.7 268.5,132.6 270.5,132.4 272.5,132.3 274.5,132.2 276.5,132.1 278.5,131.9 280.5,131.8 282.5,131.7 284.5,131.6 286.5,131.5 288.5,131.4 290.5,131.2 292.5,131.2 294.5,131.1 296.5,131.0 298.5,131.0 300.5,130.9 302.5,130.8 304.5,130.7 306.5,130.7 308.5,130.6 310.5,130.5 312.5,130.5 314.5,130.4 316.5,130.3 318.5,130.3 320.5,130.2 322.5,130.1 324.5,130.1 325.5,130.0 325.5,147.1 324.5,147.0 322.5,146.8 320.5,146.7 318.5,146.6 316.5,146.5 314.5,146.4 312.5,146.3 310.5,146.2 308.5,146.0 306.5,145.9 304.5,145.8 302.5,145.7 300.5,145.5 298.5,145.4 296.5,145.3 294.5,145.2 292.5,145.1 290.5,145.0 288.5,144.8 286.5,144.7 284.5,144.6 282.5,144.5 280.5,144.4 278.5,144.3 276.5,144.2 274.5,144.1 272.5,143.9 270.5,143.8 268.5,143.7 266.5,143.6 264.5,143.4 262.5,143.3 260.5,143.1 258.5,142.9 256.5,142.7 254.5,142.6 252.5,142.4 250.5,142.3 248.5,142.1 246.5,141.9 244.5,141.8 242.5,141.6 240.5,141.4 238.5,141.2 236.5,141.0 234.5,140.8 232.5,140.6 230.5,140.4 228.5,140.3 226.5,140.1 224.5,139.9 222.5,139.7 220.5,139.4 218.5,139.2 216.5,139.0 214.5,138.7 212.5,138.5 212.0,138.4 211.5,138.4 211.0,138.3 210.5,138.2 210.0,138.2 209.5,138.1 209.0,138.1 208.5,138.0 208.0,137.9 207.5,137.9 207.0,137.8 206.5,137.7 206.0,137.7 205.5,137.6 205.0,137.5 204.5,137.5 204.0,137.4 203.5,137.3 203.0,137.3 202.5,137.2 202.0,137.1 201.5,137.1 201.0,137.0 200.5,136.9 200.0,136.8 199.5,136.7 199.2,136.6Z" fill="#00ff76"/>
<path d="M199.5,136.3 200.0,136.2 200.5,136.1 201.0,136.0 201.5,136.0 202.0,135.9 202.5,135.9 203.0,135.8 203.5,135.8 204.0,135.7 204.5,135.7 205.0,135.6 205.5,135.6 206.0,135.6 206.5,135.5 207.0,135.5 207.5,135.4 208.0,135.4 208.5,135.3 209.0,135.3 209.5,135.2 210.0,135.2 210.5,135.1 211.0,135.1 211.5,135.1 212.0,135.0 212.5,135.0 214.5,134.8 216.5,134.7 218.5,134.5 220.5,134.4 222.5,134.3 224.5,134.1 226.5,134.0 228.5,133.9 230.5,133.8 232.5,133.7 234.5,133.6 236.5,133.5 238.5,133.5 240.5,133.4 242.5,133.4 244.5,133.4 246.5,133.4 248.5,133.3 250.5,133.3 252.5,133.3 254.5,133.2 256.5,133.2 258.5,133.2 260.5,133.1 262.5,133.1 264.5,133.0 266.5,132.9 268.5,132.8 270.5,132.7 272.5,132.6 274.5,132.4 276.5,132.3 278.5,132.2 280.5,132.1 282.5,132.0 284.5,131.9 286.5,131.8 288.5,131.7 290.5,131.6 292.5,131.5 294.5,131.4 296.5,131.4 298.5,131.3 300.5,131.2 302.5,131.2 304.5,131.1 306.5,131.0 308.5,130.9 310.5,130.9 312.5,130.8 314.5,130.7 316.5,130.7 318.5,130.6 320.5,130.6 322.5,130.5 324.5,130.4 325.5,130.4 325.5,146.6 324.5,146.5 322.5,146.4 320.5,146.2 318.5,146.1 316.5,146.0 314.5,145.9 312.5,145.8 310.5,145.7 308.5,145.6 306.5,145.5 304.5,145.4 302.5,145.2 300.5,145.1 298.5,145.0 296.5,144.9 294.5,144.8 292.5,144.7 290.5,144.5 288.5,144.4 286.5,144.3 284.5,144.2 282.5,144.1 280.5,144.1 278.5,143.9 276.5,143.8 274.5,143.7 272.5,143.6 270.5,143.5 268.5,143.4 266.5,143.2 264.5,143.1 262.5,142.9 260.5,142.8 258.5,142.6 256.5,142.5 254.5,142.3 252.5,142.2 250.5,142.0 248.5,141.9 246.5,141.7 244.5,141.5 242.5,141.4 240.5,141.2 238.5,141.0 236.5,140.8 234.5,140.7 232.5,140.5 230.5,140.3 228.5,140.1 226.5,139.9 224.5,139.7 222.5,139.5 220.5,139.3 218.5,139.1 216.5,138.9 214.5,138.6 212.5,138.4 212.0,138.3 211.5,138.3 211.0,138.2 210.5,138.2 210.0,138.1 209.5,138.0 209.0,138.0 208.5,137.9 208.0,137.9 207.5,137.8 207.0,137.7 206.5,137.7 206.0,137.6 205.5,137.5 205.0,137.5 204.5,137.4 204.0,137.4 203.5,137.3 203.0,137.2 202.5,137.2 202.0,137.1 201.5,137.0 201.0,137.0 200.5,136.9 200.0,136.7 199.5,136.6Z" fill="#00ff4e"/>
<path d="M199.8,136.3 200.0,136.2 200.5,136.1 201.0,136.1 201.5,136.0 202.0,136.0 202.5,135.9 203.0,135.9 203.5,135.8 204.0,135.8 204.5,135.7 205.0,135.7 205.5,135.7 206.0,135.6 206.5,135.6 207.0,135.5 207.5,135.5 208.0,135.4 208.5,135.4 209.0,135.3 209.5,135.3 210.0,135.3 210.5,135.2 211.0,135.2 211.5,135.1 212.0,135.1 212.5,135.0 214.5,134.9 216.5,134.8 218.5,134.6 220.5,134.5 222.5,134.4 224.5,134.3 226.5,134.1 228.5,134.0 230.5,133.9 232.5,133.8 234.5,133.7 236.5,133.7 238.5,133.6 240.5,133.6 242.5,133.6 244.5,133.5 246.5,133.5 248.5,133.5 250.5,133.5 252.5,133.5 254.5,133.4 256.5,133.4 258.5,133.4 260.5,133.3 262.5,133.3 264.5,133.2 266.5,133.1 268.5,133.0 270.5,132.9 272.5,132.8 274.5,132.7 276.5,132.6 278.5,132.5 280.5,132.4 282.5,132.3 284.5,132.2 286.5,132.1 288.5,132.0 290.5,131.9 292.5,131.8 294.5,131.8 296.5,131.7 298.5,131.7 300.5,131.6 302.5,131.5 304.5,131.4 306.5,131.4 308.5,131.3 310.5,131.2 312.5,131.2 314.5,131.1 316.5,131.0 318.5,131.0 320.5,130.9 322.5,130.9 324.5,130.8 325.5,130.7 325.5,146.1 324.5,146.0 322.5,145.9 320.5,145.7 318.5,145.7 316.5,145.6 314.5,145.5 312.5,145.3 310.5,145.2 308.5,145.1 306.5,145.0 304.5,144.9 302.5,144.8 300.5,144.7 298.5,144.5 296.5,144.4 294.5,144.3 292.5,144.2 290.5,144.1 288.5,144.0 286.5,143.9 284.5,143.8 282.5,143.7 280.5,143.7 278.5,143.6 276.5,143.5 274.5,143.3 272.5,143.2 270.5,143.1 268.5,143.0 266.5,142.9 264.5,142.8 262.5,142.6 260.5,142.5 258.5,142.3 256.5,142.2 254.5,142.0 252.5,141.9 250.5,141.8 248.5,141.6 246.5,141.5 244.5,141.3 242.5,141.2 240.5,141.0 238.5,140.8 236.5,140.7 234.5,140.5 232.5,140.3 230.5,140.1 228.5,140.0 226.5,139.8 224.5,139.6 222.5,139.4 220.5,139.2 218.5,139.0 216.5,138.7 214.5,138.5 212.5,138.3 212.0,138.3 211.5,138.2 211.0,138.1 210.5,138.1 210.0,138.0 209.5,138.0 209.0,137.9 208.5,137.8 208.0,137.8 207.5,137.7 207.0,137.7 206.5,137.6 206.0,137.5 205.5,137.5 205.0,137.4 204.5,137.4 204.0,137.3 203.5,137.2 203.0,137.2 202.5,137.1 202.0,137.0 201.5,137.0 201.0,136.9 200.5,136.8 200.0,136.7 199.8,136.6Z" fill="#00ff27"/>
<path d="M200.0,136.3 200.5,136.2 201.0,136.1 201.5,136.1 202.0,136.0 202.5,136.0 203.0,135.9 203.5,135.9 204.0,135.8 204.5,135.8 205.0,135.8 205.5,135.7 206.0,135.7 206.5,135.6 207.0,135.6 207.5,135.5 208.0,135.5 208.5,135.5 209.0,135.4 209.5,135.4 210.0,135.3 210.5,135.3 211.0,135.2 211.5,135.2 212.0,135.2 212.5,135.1 214.5,135.0 216.5,134.9 218.5,134.7 220.5,134.6 222.5,134.5 224.5,134.4 226.5,134.3 228.5,134.2 230.5,134.0 232.5,133.9 234.5,133.9 236.5,133.8 238.5,133.8 240.5,133.7 242.5,133.7 244.5,133.7 246.5,133.7 248.5,133.7 250.5,133.7 252.5,133.7 254.5,133.6 256.5,133.6 258.5,133.6 260.5,133.5 262.5,133.5 264.5,133.5 266.5,133.4 268.5,133.3 270.5,133.2 272.5,133.1 274.5,133.0 276.5,132.9 278.5,132.7 280.5,132.6 282.5,132.6 284.5,132.5 286.5,132.4 288.5,132.3 290.5,132.2 292.5,132.2 294.5,132.1 296.5,132.1 298.5,132.0 300.5,131.9 302.5,131.9 304.5,131.8 306.5,131.7 308.5,131.6 310.5,131.6 312.5,131.5 314.5,131.5 316.5,131.4 318.5,131.4 320.5,131.3 322.5,131.2 324.5,131.2 325.5,131.1 325.5,145.5 324.5,145.5 322.5,145.3 320.5,145.2 318.5,145.1 316.5,145.1 314.5,145.0 312.5,144.9 310.5,144.8 308.5,144.7 306.5,144.6 304.5,144.4 302.5,144.3 300.5,144.2 298.5,144.1 296.5,144.0 294.5,143.9 292.5,143.8 290.5,143.7 288.5,143.6 286.5,143.5 284.5,143.4 282.5,143.4 280.5,143.3 278.5,143.2 276.5,143.1 274.5,143.0 272.5,142.9 270.5,142.8 268.5,142.7 266.5,142.6 264.5,142.5 262.5,142.3 260.5,142.2 258.5,142.0 256.5,141.9 254.5,141.8 252.5,141.6 250.5,141.5 248.5,141.4 246.5,141.3 244.5,141.1 242.5,141.0 240.5,140.8 238.5,140.7 236.5,140.5 234.5,140.3 232.5,140.2 230.5,140.0 228.5,139.8 226.5,139.6 224.5,139.5 222.5,139.3 220.5,139.1 218.5,138.9 216.5,138.6 214.5,138.4 212.5,138.2 212.0,138.2 211.5,138.1 211.0,138.1 210.5,138.0 210.0,137.9 209.5,137.9 209.0,137.8 208.5,137.8 208.0,137.7 207.5,137.6 207.0,137.6 206.5,137.5 206.0,137.5 205.5,137.4 205.0,137.4 204.5,137.3 204.0,137.2 203.5,137.2 203.0,137.1 202.5,137.0 202.0,137.0 201.5,136.9 201.0,136.9 200.5,136.7 200.0,136.6Z" fill="#00ff00"/>
<path d="M200.2,136.3 200.5,136.3 201.0,136.2 201.5,136.1 202.0,136.1 202.5,136.0 203.0,136.0 203.5,135.9 204.0,135.9 204.5,135.9 205.0,135.8 205.5,135.8 206.0,135.7 206.5,135.7 207.0,135.6 207.5,135.6 208.0,135.6 208.5,135.5 209.0,135.5 209.5,135.4 210.0,135.4 210.5,135.4 211.0,135.3 211.5,135.3 212.0,135.2 212.5,135.2 214.5,135.1 216.5,135.0 218.5,134.8 220.5,134.7 222.5,134.6 224.5,134.5 226.5,134.4 228.5,134.3 230.5,134.2 232.5,134.1 234.5,134.0 236.5,133.9 238.5,133.9 240.5,133.9 242.5,133.9 244.5,133.9 246.5,133.9 248.5,133.9 250.5,133.9 252.5,133.9 254.5,133.8 256.5,133.8 258.5,133.8 260.5,133.8 262.5,133.7 264.5,133.7 266.5,133.6 268.5,133.5 270.5,133.4 272.5,133.3 274.5,133.2 276.5,133.1 278.5,133.0 280.5,132.9 282.5,132.9 284.5,132.8 286.5,132.8 288.5,132.7 290.5,132.6 292.5,132.5 294.5,132.5 296.5,132.4 298.5,132.4 300.5,132.3 302.5,132.2 304.5,132.1 306.5,132.1 308.5,132.0 310.5,131.9 312.5,131.9 314.5,131.8 316.5,131.8 318.5,131.7 320.5,131.7 322.5,131.6 324.5,131.6 325.5,131.5 325.5,145.0 324.5,144.9 322.5,144.8 320.5,144.7 318.5,144.6 316.5,144.5 314.5,144.5 312.5,144.4 310.5,144.3 308.5,144.2 306.5,144.1 304.5,144.0 302.5,143.8 300.5,143.7 298.5,143.6 296.5,143.5 294.5,143.4 292.5,143.3 290.5,143.2 288.5,143.1 286.5,143.0 284.5,143.0 282.5,143.0 280.5,142.9 278.5,142.8 276.5,142.7 274.5,142.6 272.5,142.5 270.5,142.4 268.5,142.3 266.5,142.3 264.5,142.1 262.5,142.0 260.5,141.9 258.5,141.7 256.5,141.6 254.5,141.5 252.5,141.4 250.5,141.3 248.5,141.2 246.5,141.0 244.5,140.9 242.5,140.8 240.5,140.7 238.5,140.5 236.5,140.3 234.5,140.2 232.5,140.0 230.5,139.8 228.5,139.7 226.5,139.5 224.5,139.3 222.5,139.1 220.5,138.9 218.5,138.7 216.5,138.5 214.5,138.3 212.5,138.1 212.0,138.1 211.5,138.0 211.0,138.0 210.5,137.9 210.0,137.9 209.5,137.8 209.0,137.7 208.5,137.7 208.0,137.6 207.5,137.6 207.0,137.5 206.5,137.5 206.0,137.4 205.5,137.3 205.0,137.3 204.5,137.2 204.0,137.2 203.5,137.1 203.0,137.0 202.5,137.0 202.0,136.9 201.5,136.9 201.0,136.8 200.5,136.7 200.2,136.6Z" fill="#27ff00"/>
<path d="M200.5,136.3 201.0,136.2 201.5,136.2 202.0,136.1 202.5,136.1 203.0,136.0 203.5,136.0 204.0,136.0 204.5,135.9 205.0,135.9 205.5,135.8 206.0,135.8 206.5,135.7 207.0,135.7 207.5,135.7 208.0,135.6 208.5,135.6 209.0,135.6 209.5,135.5 210.0,135.5 210.5,135.4 211.0,135.4 211.5,135.4 212.0,135.3 212.5,135.3 214.5,135.2 216.5,135.0 218.5,134.9 220.5,134.8 222.5,134.7 224.5,134.6 226.5,134.5 228.5,134.4 230.5,134.3 232.5,134.2 234.5,134.1 236.5,134.1 238.5,134.0 240.5,134.0 242.5,134.0 244.5,134.0 246.5,134.0 248.5,134.0 250.5,134.0 252.5,134.0 254.5,134.0 256.5,134.0 258.5,134.0 260.5,134.0 262.5,134.0 264.5,133.9 266.5,133.9 268.5,133.8 270.5,133.7 272.5,133.6 274.5,133.5 276.5,133.4 278.5,133.3 280.5,133.2 282.5,133.2 284.5,133.2 286.5,133.1 288.5,133.0 290.5,132.9 292.5,132.9 294.5,132.8 296.5,132.8 298.5,132.7 300.5,132.7 302.5,132.6 304.5,132.5 306.5,132.5 308.5,132.4 310.5,132.3 312.5,132.3 314.5,132.2 316.5,132.2 318.5,132.1 320.5,132.1 322.5,132.0 324.5,132.0 325.5,131.9 325.5,144.4 324.5,144.4 322.5,144.2 320.5,144.1 318.5,144.1 316.5,144.0 314.5,143.9 312.5,143.8 310.5,143.7 308.5,143.6 306.5,143.6 304.5,143.4 302.5,143.3 300.5,143.2 298.5,143.1 296.5,143.0 294.5,142.9 292.5,142.9 290.5,142.8 288.5,142.7 286.5,142.6 284.5,142.6 282.5,142.5 280.5,142.5 278.5,142.4 276.5,142.3 274.5,142.3 272.5,142.2 270.5,142.1 268.5,142.0 266.5,141.9 264.5,141.8 262.5,141.7 260.5,141.6 258.5,141.4 256.5,141.3 254.5,141.2 252.5,141.1 250.5,141.0 248.5,140.9 246.5,140.8 244.5,140.7 242.5,140.6 240.5,140.5 238.5,140.3 236.5,140.2 234.5,140.0 232.5,139.8 230.5,139.7 228.5,139.5 226.5,139.4 224.5,139.2 222.5,139.0 220.5,138.8 218.5,138.6 216.5,138.4 214.5,138.2 212.5,138.0 212.0,138.0 211.5,137.9 211.0,137.9 210.5,137.8 210.0,137.8 209.5,137.7 209.0,137.7 208.5,137.6 208.0,137.6 207.5,137.5 207.0,137.4 206.5,137.4 206.0,137.3 205.5,137.3 205.0,137.2 204.5,137.2 204.0,137.1 203.5,137.0 203.0,137.0 202.5,136.9 202.0,136.9 201.5,136.8 201.0,136.7 200.5,136.6Z" fill="#4eff00"/>
<path d="M200.8,136.3 201.0,136.3 201.5,136.2 202.0,136.2 202.5,136.1 203.0,136.1 203.5,136.1 204.0,136.0 204.5,136.0 205.0,135.9 205.5,135.9 206.0,135.8 206.5,135.8 207.0,135.8 207.5,135.7 208.0,135.7 208.5,135.7 209.0,135.6 209.5,135.6 210.0,135.5 210.5,135.5 211.0,135.5 211.5,135.4 212.0,135.4 212.5,135.4 214.5,135.2 216.5,135.1 218.5,135.0 220.5,134.9 222.5,134.8 224.5,134.7 226.5,134.6 228.5,134.5 230.5,134.4 232.5,134.3 234.5,134.3 236.5,134.2 238.5,134.2 240.5,134.2 242.5,134.2 244.5,134.2 246.5,134.2 248.5,134.2 250.5,134.2 252.5,134.2 254.5,134.2 256.5,134.2 258.5,134.2 260.5,134.2 262.5,134.2 264.5,134.2 266.5,134.1 268.5,134.0 270.5,133.9 272.5,133.9 274.5,133.8 276.5,133.7 278.5,133.6 280.5,133.5 282.5,133.5 284.5,133.5 286.5,133.5 288.5,133.4 290.5,133.3 292.5,133.3 294.5,133.2 296.5,133.2 298.5,133.1 300.5,133.1 302.5,133.0 304.5,132.9 306.5,132.9 308.5,132.8 310.5,132.7 312.5,132.7 314.5,132.7 316.5,132.6 318.5,132.6 320.5,132.5 322.5,132.5 324.5,132.4 325.5,132.4 325.5,143.8 324.5,143.8 322.5,143.6 320.5,143.5 318.5,143.5 316.5,143.4 314.5,143.4 312.5,143.3 310.5,143.2 308.5,143.1 306.5,143.0 304.5,142.9 302.5,142.8 300.5,142.7 298.5,142.6 296.5,142.5 294.5,142.4 292.5,142.4 290.5,142.3 288.5,142.2 286.5,142.1 284.5,142.1 282.5,142.1 280.5,142.1 278.5,142.0 276.5,141.9 274.5,141.9 272.5,141.8 270.5,141.7 268.5,141.6 266.5,141.6 264.5,141.5 262.5,141.4 260.5,141.2 258.5,141.1 256.5,141.0 254.5,140.9 252.5,140.9 250.5,140.8 248.5,140.7 246.5,140.6 244.5,140.5 242.5,140.4 240.5,140.3 238.5,140.1 236.5,140.0 234.5,139.8 232.5,139.7 230.5,139.5 228.5,139.4 226.5,139.2 224.5,139.1 222.5,138.9 220.5,138.7 218.5,138.5 216.5,138.3 214.5,138.1 212.5,138.0 212.0,137.9 211.5,137.9 211.0,137.8 210.5,137.7 210.0,137.7 209.5,137.6 209.0,137.6 208.5,137.5 208.0,137.5 207.5,137.4 207.0,137.4 206.5,137.3 206.0,137.3 205.5,137.2 205.0,137.2 204.5,137.1 204.0,137.0 203.5,137.0 203.0,136.9 202.5,136.9 202.0,136.8 201.5,136.7 201.0,136.7 200.8,136.6Z" fill="#76ff00"/>
<path d="M201.0,136.3 201.5,136.3 202.0,136.2 202.5,136.2 203.0,136.2 203.5,136.1 204.0,136.1 204.5,136.0 205.0,136.0 205.5,135.9 206.0,135.9 206.5,135.9 207.0,135.8 207.5,135.8 208.0,135.8 208.5,135.7 209.0,135.7 209.5,135.7 210.0,135.6 210.5,135.6 211.0,135.5 211.5,135.5 212.0,135.5 212.5,135.4 214.5,135.3 216.5,135.2 218.5,135.1 220.5,135.0 222.5,134.9 224.5,134.8 226.5,134.7 228.5,134.6 230.5,134.5 232.5,134.5 234.5,134.4 236.5,134.4 238.5,134.3 240.5,134.3 242.5,134.3 244.5,134.3 246.5,134.4 248.5,134.4 250.5,134.4 252.5,134.4 254.5,134.4 256.5,134.4 258.5,134.4 260.5,134.4 262.5,134.4 264.5,134.4 266.5,134.4 268.5,134.3 270.5,134.2 272.5,134.2 274.5,134.1 276.5,134.0 278.5,133.9 280.5,133.9 282.5,133.9 284.5,133.9 286.5,133.9 288.5,133.8 290.5,133.7 292.5,133.7 294.5,133.7 296.5,133.6 298.5,133.6 300.5,133.5 302.5,133.4 304.5,133.4 306.5,133.3 308.5,133.2 310.5,133.2 312.5,133.1 314.5,133.1 316.5,133.1 318.5,133.0 320.5,133.0 322.5,133.0 324.5,132.9 325.5,132.8 325.5,143.2 324.5,143.1 322.5,143.0 320.5,142.9 318.5,142.9 316.5,142.8 314.5,142.7 312.5,142.7 310.5,142.6 308.5,142.5 306.5,142.4 304.5,142.3 302.5,142.2 300.5,142.1 298.5,142.0 296.5,141.9 294.5,141.8 292.5,141.8 290.5,141.7 288.5,141.6 286.5,141.6 284.5,141.6 282.5,141.6 280.5,141.6 278.5,141.6 276.5,141.5 274.5,141.5 272.5,141.4 270.5,141.3 268.5,141.3 266.5,141.2 264.5,141.1 262.5,141.0 260.5,140.9 258.5,140.8 256.5,140.7 254.5,140.7 252.5,140.6 250.5,140.5 248.5,140.5 246.5,140.4 244.5,140.3 242.5,140.2 240.5,140.1 238.5,140.0 236.5,139.8 234.5,139.7 232.5,139.5 230.5,139.4 228.5,139.2 226.5,139.1 224.5,138.9 222.5,138.8 220.5,138.6 218.5,138.4 216.5,138.2 214.5,138.1 212.5,137.9 212.0,137.8 211.5,137.8 211.0,137.7 210.5,137.7 210.0,137.6 209.5,137.6 209.0,137.5 208.5,137.5 208.0,137.4 207.5,137.4 207.0,137.3 206.5,137.3 206.0,137.2 205.5,137.1 205.0,137.1 204.5,137.0 204.0,137.0 203.5,136.9 203.0,136.9 202.5,136.8 202.0,136.7 201.5,136.7 201.0,136.6Z" fill="#9dff00"/>
<path d="M201.2,136.4 201.5,136.4 202.0,136.3 202.5,136.3 203.0,136.2 203.5,136.2 204.0,136.1 204.5,136.1 205.0,136.0 205.5,136.0 206.0,136.0 206.5,135.9 207.0,135.9 207.5,135.9 208.0,135.8 208.5,135.8 209.0,135.8 209.5,135.7 210.0,135.7 210.5,135.7 211.0,135.6 211.5,135.6 212.0,135.5 212.5,135.5 214.5,135.4 216.5,135.3 218.5,135.2 220.5,135.1 222.5,135.0 224.5,134.9 226.5,134.8 228.5,134.7 230.5,134.7 232.5,134.6 234.5,134.5 236.5,134.5 238.5,134.5 240.5,134.5 242.5,134.5 244.5,134.5 246.5,134.5 248.5,134.6 250.5,134.6 252.5,134.6 254.5,134.6 256.5,134.7 258.5,134.7 260.5,134.7 262.5,134.7 264.5,134.7 266.5,134.6 268.5,134.6 270.5,134.5 272.5,134.5 274.5,134.4 276.5,134.3 278.5,134.3 280.5,134.2 282.5,134.3 284.5,134.3 286.5,134.3 288.5,134.3 290.5,134.2 292.5,134.2 294.5,134.1 296.5,134.1 298.5,134.1 300.5,134.0 302.5,133.9 304.5,133.9 306.5,133.8 308.5,133.7 310.5,133.7 312.5,133.7 314.5,133.6 316.5,133.6 318.5,133.6 320.5,133.6 322.5,133.5 324.5,133.4 325.5,133.4 325.5,142.5 324.5,142.4 322.5,142.3 320.5,142.2 318.5,142.1 316.5,142.1 314.5,142.0 312.5,142.0 310.5,141.9 308.5,141.8 306.5,141.8 304.5,141.7 302.5,141.5 300.5,141.4 298.5,141.3 296.5,141.3 294.5,141.2 292.5,141.2 290.5,141.1 288.5,141.0 286.5,141.0 284.5,141.1 282.5,141.1 280.5,141.2 278.5,141.1 276.5,141.1 274.5,141.0 272.5,141.0 270.5,140.9 268.5,140.9 266.5,140.8 264.5,140.8 262.5,140.7 260.5,140.6 258.5,140.5 256.5,140.4 254.5,140.4 252.5,140.3 250.5,140.3 248.5,140.2 246.5,140.2 244.5,140.1 242.5,140.0 240.5,139.9 238.5,139.8 236.5,139.7 234.5,139.5 232.5,139.4 230.5,139.3 228.5,139.1 226.5,139.0 224.5,138.8 222.5,138.7 220.5,138.5 218.5,138.3 216.5,138.1 214.5,138.0 212.5,137.8 212.0,137.7 211.5,137.7 211.0,137.6 210.5,137.6 210.0,137.5 209.5,137.5 209.0,137.4 208.5,137.4 208.0,137.3 207.5,137.3 207.0,137.2 206.5,137.2 206.0,137.1 205.5,137.1 205.0,137.0 204.5,137.0 204.0,136.9 203.5,136.8 203.0,136.8 202.5,136.7 202.0,136.6 201.5,136.6 201.2,136.5Z" fill="#c4ff00"/>
<path d="M202.0,136.4 202.5,136.3 203.0,136.3 203.5,136.2 204.0,136.2 204.5,136.1 205.0,136.1 205.5,136.1 206.0,136.0 206.5,136.0 207.0,136.0 207.5,135.9 208.0,135.9 208.5,135.9 209.0,135.8 209.5,135.8 210.0,135.8 210.5,135.7 211.0,135.7 211.5,135.7 212.0,135.6 212.5,135.6 214.5,135.5 216.5,135.4 218.5,135.3 220.5,135.2 222.5,135.1 224.5,135.0 226.5,134.9 228.5,134.9 230.5,134.8 232.5,134.7 234.5,134.7 236.5,134.6 238.5,134.6 240.5,134.6 242.5,134.6 244.5,134.7 246.5,134.7 248.5,134.7 250.5,134.8 252.5,134.8 254.5,134.9 256.5,134.9 258.5,134.9 260.5,134.9 262.5,134.9 264.5,134.9 266.5,134.9 268.5,134.9 270.5,134.8 272.5,134.8 274.5,134.7 276.5,134.7 278.5,134.6 280.5,134.6 282.5,134.7 284.5,134.7 286.5,134.8 288.5,134.8 290.5,134.8 292.5,134.7 294.5,134.7 296.5,134.7 298.5,134.7 300.5,134.6 302.5,134.5 304.5,134.4 306.5,134.4 308.5,134.3 310.5,134.3 312.5,134.2 314.5,134.2 316.5,134.2 318.5,134.2 320.5,134.2 322.5,134.1 324.5,134.0 325.5,134.0 325.5,141.6 324.5,141.5 322.5,141.4 320.5,141.3 318.5,141.3 316.5,141.3 314.5,141.2 312.5,141.2 310.5,141.1 308.5,141.1 306.5,141.0 304.5,140.9 302.5,140.8 300.5,140.6 298.5,140.5 296.5,140.5 294.5,140.5 292.5,140.4 290.5,140.4 288.5,140.3 286.5,140.3 284.5,140.4 282.5,140.6 280.5,140.7 278.5,140.6 276.5,140.6 274.5,140.6 272.5,140.5 270.5,140.5 268.5,140.5 266.5,140.4 264.5,140.4 262.5,140.3 260.5,140.2 258.5,140.2 256.5,140.1 254.5,140.1 252.5,140.1 250.5,140.0 248.5,140.0 246.5,140.0 244.5,139.9 242.5,139.8 240.5,139.7 238.5,139.6 236.5,139.5 234.5,139.4 232.5,139.2 230.5,139.1 228.5,139.0 226.5,138.8 224.5,138.7 222.5,138.5 220.5,138.4 218.5,138.2 216.5,138.0 214.5,137.9 212.5,137.7 212.0,137.6 211.5,137.6 211.0,137.5 210.5,137.5 210.0,137.5 209.5,137.4 209.0,137.4 208.5,137.3 208.0,137.3 207.5,137.2 207.0,137.2 206.5,137.1 206.0,137.1 205.5,137.0 205.0,136.9 204.5,136.9 204.0,136.8 203.5,136.8 203.0,136.7 202.5,136.6 202.0,136.5Z" fill="#ebff00"/>
<path d="M202.8,136.4 203.0,136.4 203.5,136.3 204.0,136.3 204.5,136.2 205.0,136.2 205.5,136.1 206.0,136.1 206.5,136.1 207.0,136.0 207.5,136.0 208.0,136.0 208.5,135.9 209.0,135.9 209.5,135.9 210.0,135.8 210.5,135.8 211.0,135.8 211.5,135.7 212.0,135.7 212.5,135.7 214.5,135.6 216.5,135.5 218.5,135.4 220.5,135.3 222.5,135.2 224.5,135.1 226.5,135.1 228.5,135.0 230.5,134.9 232.5,134.9 234.5,134.8 236.5,134.8 238.5,134.8 240.5,134.8 242.5,134.8 244.5,134.8 246.5,134.9 248.5,134.9 250.5,135.0 252.5,135.0 254.5,135.1 256.5,135.1 258.5,135.2 260.5,135.2 262.5,135.2 264.5,135.2 266.5,135.2 268.5,135.2 270.5,135.2 272.5,135.1 274.5,135.1 276.5,135.1 278.5,135.1 280.5,135.1 282.5,135.2 284.5,135.3 286.5,135.5 288.5,135.5 290.5,135.5 292.5,135.5 294.5,135.5 296.5,135.5 298.5,135.5 300.5,135.4 302.5,135.3 304.5,135.2 306.5,135.1 308.5,135.1 310.5,135.0 312.5,135.0 314.5,135.0 316.5,135.0 318.5,135.0 320.5,135.0 322.5,135.0 324.5,134.9 325.5,134.8 325.5,140.5 324.5,140.4 322.5,140.2 320.5,140.1 318.5,140.2 316.5,140.2 314.5,140.2 312.5,140.2 310.5,140.1 308.5,140.0 306.5,140.0 304.5,139.9 302.5,139.7 300.5,139.6 298.5,139.4 296.5,139.4 294.5,139.4 292.5,139.4 290.5,139.4 288.5,139.4 286.5,139.5 284.5,139.7 282.5,139.9 280.5,140.1 278.5,140.1 276.5,140.1 274.5,140.1 272.5,140.0 270.5,140.0 268.5,140.0 266.5,140.0 264.5,140.0 262.5,139.9 260.5,139.9 258.5,139.8 256.5,139.8 254.5,139.8 252.5,139.8 250.5,139.8 248.5,139.7 246.5,139.7 244.5,139.7 242.5,139.6 240.5,139.6 238.5,139.4 236.5,139.3 234.5,139.2 232.5,139.1 230.5,139.0 228.5,138.8 226.5,138.7 224.5,138.5 222.5,138.4 220.5,138.3 218.5,138.1 216.5,137.9 214.5,137.8 212.5,137.6 212.0,137.6 211.5,137.5 211.0,137.5 210.5,137.4 210.0,137.4 209.5,137.3 209.0,137.3 208.5,137.2 208.0,137.2 207.5,137.1 207.0,137.1 206.5,137.0 206.0,137.0 205.5,136.9 205.0,136.9 204.5,136.8 204.0,136.8 203.5,136.7 203.0,136.6 202.8,136.6Z" fill="#ffeb00"/>
<path d="M203.5,136.4 204.0,136.3 204.5,136.3 205.0,136.2 205.5,136.2 206.0,136.2 206.5,136.1 207.0,136.1 207.5,136.1 208.0,136.0 208.5,136.0 209.0,136.0 209.5,135.9 210.0,135.9 210.5,135.9 211.0,135.8 211.5,135.8 212.0,135.8 212.5,135.8 214.5,135.7 216.5,135.6 218.5,135.5 220.5,135.4 222.5,135.3 224.5,135.2 226.5,135.2 228.5,135.1 230.5,135.0 232.5,135.0 234.5,134.9 236.5,134.9 238.5,134.9 240.5,134.9 242.5,134.9 244.5,135.0 246.5,135.0 248.5,135.1 250.5,135.2 252.5,135.3 254.5,135.3 256.5,135.4 258.5,135.4 260.5,135.5 262.5,135.5 264.5,135.6 266.5,135.6 268.5,135.6 270.5,135.5 272.5,135.6 274.5,135.6 276.5,135.6 278.5,135.6 280.5,135.6 282.5,135.8 284.5,136.2 286.5,136.7 287.2,136.9 287.2,137.5 286.5,137.8 284.5,138.6 282.5,139.0 280.5,139.3 278.5,139.4 276.5,139.4 274.5,139.4 272.5,139.5 270.5,139.5 268.5,139.5 266.5,139.5 264.5,139.5 262.5,139.5 260.5,139.5 258.5,139.4 256.5,139.4 254.5,139.5 252.5,139.5 250.5,139.5 248.5,139.5 246.5,139.5 244.5,139.5 242.5,139.4 240.5,139.4 238.5,139.3 236.5,139.2 234.5,139.0 232.5,138.9 230.5,138.8 228.5,138.7 226.5,138.6 224.5,138.4 222.5,138.3 220.5,138.1 218.5,138.0 216.5,137.8 214.5,137.7 212.5,137.5 212.0,137.5 211.5,137.4 211.0,137.4 210.5,137.3 210.0,137.3 209.5,137.2 209.0,137.2 208.5,137.1 208.0,137.1 207.5,137.1 207.0,137.0 206.5,137.0 206.0,136.9 205.5,136.8 205.0,136.8 204.5,136.7 204.0,136.7 203.5,136.6ZM304.8,136.9 306.5,136.7 308.5,136.6 310.5,136.6 312.5,136.5 314.5,136.6 316.5,136.7 318.2,136.9 318.2,137.7 316.5,137.9 314.5,138.0 312.5,138.1 310.5,138.1 308.5,138.0 306.5,137.9 304.8,137.6ZM324.0,136.9 324.5,136.6 325.5,136.4 325.5,138.4 324.5,138.0 324.0,137.6Z" fill="#ffc400"/>
<path d="M204.2,136.4 204.5,136.4 205.0,136.3 205.5,136.3 206.0,136.2 206.5,136.2 207.0,136.2 207.5,136.1 208.0,136.1 208.5,136.1 209.0,136.0 209.5,136.0 210.0,136.0 210.5,136.0 211.0,135.9 211.5,135.9 212.0,135.9 212.5,135.8 214.5,135.8 216.5,135.7 218.5,135.6 220.5,135.5 222.5,135.4 224.5,135.4 226.5,135.3 228.5,135.2 230.5,135.2 232.5,135.1 234.5,135.1 236.5,135.1 238.5,135.1 240.5,135.1 242.5,135.1 244.5,135.2 246.5,135.2 248.5,135.3 250.5,135.4 252.5,135.5 254.5,135.6 256.5,135.7 258.5,135.8 260.5,135.8 262.5,135.9 264.5,135.9 266.5,136.0 268.5,136.0 270.5,136.0 272.5,136.1 274.5,136.1 276.5,136.2 278.5,136.3 280.5,136.5 281.2,136.9 281.2,137.7 280.5,138.1 278.5,138.4 276.5,138.5 274.5,138.6 272.5,138.7 270.5,138.8 268.5,138.9 266.5,138.9 264.5,139.0 262.5,139.0 260.5,139.0 258.5,139.0 256.5,139.1 254.5,139.1 252.5,139.1 250.5,139.2 248.5,139.2 246.5,139.3 244.5,139.2 242.5,139.2 240.5,139.2 238.5,139.1 236.5,139.0 234.5,138.9 232.5,138.8 230.5,138.7 228.5,138.5 226.5,138.4 224.5,138.3 222.5,138.2 220.5,138.0 218.5,137.9 216.5,137.7 214.5,137.6 212.5,137.4 212.0,137.4 211.5,137.3 211.0,137.3 210.5,137.2 210.0,137.2 209.5,137.1 209.0,137.1 208.5,137.1 208.0,137.0 207.5,137.0 207.0,136.9 206.5,136.9 206.0,136.8 205.5,136.7 205.0,136.7 204.5,136.6 204.2,136.6Z" fill="#ff9d00"/>
<path d="M205.2,136.4 205.5,136.4 206.0,136.3 206.5,136.3 207.0,136.3 207.5,136.2 208.0,136.2 208.5,136.2 209.0,136.1 209.5,136.1 210.0,136.1 210.5,136.0 211.0,136.0 211.5,136.0 212.0,136.0 212.5,135.9 214.5,135.9 216.5,135.8 218.5,135.7 220.5,135.6 222.5,135.5 224.5,135.5 226.5,135.4 228.5,135.4 230.5,135.3 232.5,135.3 234.5,135.2 236.5,135.2 238.5,135.2 240.5,135.2 242.5,135.3 244.5,135.3 246.5,135.4 248.5,135.5 250.5,135.6 252.5,135.8 254.5,135.9 256.5,136.0 258.5,136.1 260.5,136.2 262.5,136.4 264.5,136.5 266.5,136.6 268.5,136.7 270.5,137.0 270.8,137.1 270.8,137.4 270.5,137.5 268.5,137.9 266.5,138.1 264.5,138.2 262.5,138.3 260.5,138.4 258.5,138.5 256.5,138.6 254.5,138.7 252.5,138.8 250.5,138.9 248.5,138.9 246.5,139.0 244.5,139.0 242.5,139.0 240.5,139.0 238.5,138.9 236.5,138.8 234.5,138.7 232.5,138.6 230.5,138.5 228.5,138.4 226.5,138.3 224.5,138.1 222.5,138.0 220.5,137.9 218.5,137.7 216.5,137.6 214.5,137.5 212.5,137.3 212.0,137.3 211.5,137.2 211.0,137.2 210.5,137.1 210.0,137.1 209.5,137.0 209.0,137.0 208.5,137.0 208.0,136.9 207.5,136.9 207.0,136.8 206.5,136.8 206.0,136.7 205.5,136.6 205.2,136.6Z" fill="#ff7600"/>
<path d="M206.2,136.4 206.5,136.4 207.0,136.4 207.5,136.3 208.0,136.3 208.5,136.3 209.0,136.2 209.5,136.2 210.0,136.2 210.5,136.1 211.0,136.1 211.5,136.1 212.0,136.0 212.5,136.0 214.5,136.0 216.5,135.9 218.5,135.8 220.5,135.7 222.5,135.7 224.5,135.6 226.5,135.5 228.5,135.5 230.5,135.4 232.5,135.4 234.5,135.4 236.5,135.4 238.5,135.4 240.5,135.4 242.5,135.5 244.5,135.5 246.5,135.6 248.5,135.8 250.5,135.9 252.5,136.1 254.5,136.2 256.5,136.4 258.5,136.7 260.5,137.0 260.5,137.3 258.5,137.8 256.5,138.0 254.5,138.2 252.5,138.4 250.5,138.5 248.5,138.6 246.5,138.7 244.5,138.8 242.5,138.8 240.5,138.8 238.5,138.7 236.5,138.6 234.5,138.5 232.5,138.4 230.5,138.4 228.5,138.2 226.5,138.1 224.5,138.0 222.5,137.9 220.5,137.8 218.5,137.6 216.5,137.5 214.5,137.3 212.5,137.2 212.0,137.2 211.5,137.1 211.0,137.1 210.5,137.0 210.0,137.0 209.5,136.9 209.0,136.9 208.5,136.9 208.0,136.8 207.5,136.8 207.0,136.7 206.5,136.6 206.2,136.6Z" fill="#ff4e00"/>
<path d="M207.5,136.5 208.0,136.4 208.5,136.4 209.0,136.3 209.5,136.3 210.0,136.3 210.5,136.2 211.0,136.2 211.5,136.2 212.0,136.2 212.5,136.1 214.5,136.1 216.5,136.0 218.5,135.9 220.5,135.8 222.5,135.8 224.5,135.7 226.5,135.7 228.5,135.6 230.5,135.6 232.5,135.5 234.5,135.5 236.5,135.5 238.5,135.5 240.5,135.6 242.5,135.6 244.5,135.7 246.5,135.8 248.5,136.0 250.5,136.2 252.5,136.4 254.5,136.8 255.2,137.0 255.2,137.2 254.5,137.5 252.5,137.9 250.5,138.1 248.5,138.3 246.5,138.5 244.5,138.5 242.5,138.5 240.5,138.6 238.5,138.5 236.5,138.4 234.5,138.3 232.5,138.3 230.5,138.2 228.5,138.1 226.5,138.0 224.5,137.9 222.5,137.8 220.5,137.6 218.5,137.5 216.5,137.4 214.5,137.2 212.5,137.1 212.0,137.1 211.5,137.0 211.0,137.0 210.5,136.9 210.0,136.9 209.5,136.8 209.0,136.8 208.5,136.7 208.0,136.7 207.5,136.6Z" fill="#ff2700"/>
<path d="M209.2,136.5 209.5,136.5 210.0,136.4 210.5,136.4 211.0,136.3 211.5,136.3 212.0,136.3 212.5,136.2 214.5,136.2 216.5,136.1 218.5,136.0 220.5,136.0 222.5,135.9 224.5,135.9 226.5,135.8 228.5,135.8 230.5,135.7 232.5,135.7 234.5,135.7 236.5,135.7 238.5,135.7 240.5,135.7 242.5,135.8 244.5,135.9 246.5,136.1 248.5,136.3 250.5,136.6 251.5,136.9 251.5,137.2 250.5,137.5 248.5,137.9 246.5,138.1 244.5,138.2 242.5,138.3 240.5,138.3 238.5,138.3 236.5,138.2 234.5,138.2 232.5,138.1 230.5,138.0 228.5,137.9 226.5,137.8 224.5,137.7 222.5,137.6 220.5,137.5 218.5,137.4 216.5,137.2 214.5,137.1 212.5,137.0 212.0,136.9 211.5,136.9 211.0,136.8 210.5,136.8 210.0,136.7 209.5,136.6 209.2,136.6Z" fill="#ff0000"/>
</g>
<polygon points="33.0,61.6 43.6,61.6 105.5,93.1 123.9,94.8 139.7,96.0 147.6,97.7 152.8,100.4 178.8,106.0 178.8,106.5 152.8,104.6 134.4,103.0 118.7,100.8 105.5,96.4 66.0,77.6 33.0,77.6" fill="#fff"/>
<polygon points="33.0,181.6 43.6,181.6 105.5,150.1 123.9,148.4 139.7,147.2 147.6,145.5 152.8,142.8 178.8,137.2 178.8,136.7 152.8,138.6 134.4,140.2 118.7,142.4 105.5,146.8 66.0,165.6 33.0,165.6" fill="#fff"/>
<g transform="translate(0.00,0.00)">
<rect x="101.80" y="10.50" width="3.70" height="20.40" fill="#0000ff"/>
<rect x="105.50" y="10.50" width="7.67" height="20.40" fill="#0027ff"/>
<rect x="112.87" y="10.50" width="7.67" height="20.40" fill="#004eff"/>
<rect x="120.24" y="10.50" width="7.67" height="20.40" fill="#0076ff"/>
<rect x="127.61" y="10.50" width="7.67" height="20.40" fill="#009dff"/>
<rect x="134.98" y="10.50" width="7.67" height="20.40" fill="#00c4ff"/>
<rect x="142.35" y="10.50" width="7.67" height="20.40" fill="#00ebff"/>
<rect x="149.72" y="10.50" width="7.67" height="20.40" fill="#00ffeb"/>
<rect x="157.09" y="10.50" width="7.67" height="20.40" fill="#00ffc4"/>
<rect x="164.46" y="10.50" width="7.67" height="20.40" fill="#00ff9d"/>
<rect x="171.83" y="10.50" width="7.67" height="20.40" fill="#00ff76"/>
<rect x="179.20" y="10.50" width="7.67" height="20.40" fill="#00ff4e"/>
<rect x="186.57" y="10.50" width="7.67" height="20.40" fill="#00ff27"/>
<rect x="193.94" y="10.50" width="7.67" height="20.40" fill="#00ff00"/>
<rect x="201.31" y="10.50" width="7.67" height="20.40" fill="#27ff00"/>
<rect x="208.68" y="10.50" width="7.67" height="20.40" fill="#4eff00"/>
<rect x="216.05" y="10.50" width="7.67" height="20.40" fill="#76ff00"/>
<rect x="223.42" y="10.50" width="7.67" height="20.40" fill="#9dff00"/>
<rect x="230.79" y="10.50" width="7.67" height="20.40" fill="#c4ff00"/>
<rect x="238.16" y="10.50" width="7.67" height="20.40" fill="#ebff00"/>
<rect x="245.53" y="10.50" width="7.67" height="20.40" fill="#ffeb00"/>
<rect x="252.90" y="10.50" width="7.67" height="20.40" fill="#ffc400"/>
<rect x="260.27" y="10.50" width="7.67" height="20.40" fill="#ff9d00"/>
<rect x="267.64" y="10.50" width="7.67" height="20.40" fill="#ff7600"/>
<rect x="275.01" y="10.50" width="7.67" height="20.40" fill="#ff4e00"/>
<rect x="282.38" y="10.50" width="7.67" height="20.40" fill="#ff2700"/>
<rect x="289.75" y="10.50" width="4.05" height="20.40" fill="#ff0000"/>
<rect x="101.80" y="10.50" width="192.00" height="20.40" fill="none" stroke="#000" stroke-opacity="0.35" stroke-width="0.6"/>
<path d="M105.50,10.50 V30.90 M142.35,10.50 V30.90 M179.20,10.50 V30.90 M216.05,10.50 V30.90 M252.90,10.50 V30.90 M289.75,10.50 V30.90" stroke="#000" stroke-opacity="0.45" stroke-width="0.6" fill="none"/>
<text class="cb" x="50.2" y="47.4">TKE:</text>
<text class="cb" x="105.50" y="47.4" text-anchor="middle">1000</text>
<text class="cb" x="142.35" y="47.4" text-anchor="middle">1500</text>
<text class="cb" x="179.20" y="47.4" text-anchor="middle">2000</text>
<text class="cb" x="216.05" y="47.4" text-anchor="middle">2500</text>
<text class="cb" x="252.90" y="47.4" text-anchor="middle">3000</text>
<text class="cb" x="289.75" y="47.4" text-anchor="middle">3500</text>
</g>
<rect x="33.00" y="5.00" width="292.50" height="233.20" fill="none" stroke="#000" stroke-width="1.3"/>
<path d="M33.00,238.20 v-6.00 M106.12,238.20 v-6.00 M179.25,238.20 v-6.00 M252.38,238.20 v-6.00 M325.50,238.20 v-6.00 M33.00,5.00 h6.00 M33.00,63.30 h6.00 M33.00,121.60 h6.00 M33.00,179.90 h6.00 M33.00,238.20 h6.00" stroke="#000" stroke-width="0.9" fill="none"/>
<path d="M47.62,238.20 v-2.60 M62.25,238.20 v-2.60 M76.88,238.20 v-2.60 M91.50,238.20 v-2.60 M120.75,238.20 v-2.60 M135.38,238.20 v-2.60 M150.00,238.20 v-2.60 M164.62,238.20 v-2.60 M193.88,238.20 v-2.60 M208.50,238.20 v-2.60 M223.12,238.20 v-2.60 M237.75,238.20 v-2.60 M267.00,238.20 v-2.60 M281.62,238.20 v-2.60 M296.25,238.20 v-2.60 M310.88,238.20 v-2.60 M33.00,19.57 h2.60 M33.00,34.15 h2.60 M33.00,48.72 h2.60 M33.00,77.88 h2.60 M33.00,92.45 h2.60 M33.00,107.02 h2.60 M33.00,136.17 h2.60 M33.00,150.75 h2.60 M33.00,165.32 h2.60 M33.00,194.47 h2.60 M33.00,209.05 h2.60 M33.00,223.62 h2.60" stroke="#000" stroke-width="0.7" stroke-opacity="0.6" fill="none"/>
<text class="tk" x="33.00" y="251.30" text-anchor="middle">-5</text>
<text class="tk" x="106.12" y="251.30" text-anchor="middle">-2.5</text>
<text class="tk" x="179.25" y="251.30" text-anchor="middle">0</text>
<text class="tk" x="252.38" y="251.30" text-anchor="middle">2.5</text>
<text class="tk" x="325.50" y="251.30" text-anchor="middle">5</text>
<text class="tk" x="28.20" y="9.80" text-anchor="end">4</text>
<text class="tk" x="28.20" y="68.10" text-anchor="end">2</text>
<text class="tk" x="28.20" y="126.40" text-anchor="end">0</text>
<text class="tk" x="28.20" y="184.70" text-anchor="end">-2</text>
<text class="tk" x="28.20" y="243.00" text-anchor="end">-4</text>
<text class="ax" x="179.25" y="263.1" text-anchor="middle">x/D<tspan class="sub" dy="4.4">j</tspan></text>
<text class="ax" transform="translate(10.60,121.60) rotate(-90)" text-anchor="middle">y/D<tspan class="sub" dy="4.4">j</tspan></text>
</g>
<g transform="translate(356.50,0)">
<rect x="33.00" y="5.00" width="292.50" height="233.20" fill="#0000ff"/>
<g filter="url(#b)" clip-path="url(#cp)">
<path d="M190.8,106.6 191.0,106.6 191.5,106.5 192.0,106.5 192.5,106.4 193.0,106.4 193.5,106.3 194.0,106.3 194.5,106.2 195.0,106.2 195.5,106.1 196.0,106.1 196.5,106.0 197.0,106.0 197.5,105.9 198.0,105.9 198.5,105.8 199.0,105.8 199.5,105.7 200.0,105.7 200.5,105.6 201.0,105.5 201.5,105.5 202.0,105.4 202.5,105.4 203.0,105.3 203.5,105.3 204.0,105.2 204.5,105.2 205.0,105.1 205.5,105.0 206.0,105.0 206.5,104.9 208.5,104.7 210.5,104.4 212.5,104.1 214.5,103.8 216.5,103.5 218.5,103.3 220.5,103.0 222.5,102.7 224.5,102.4 226.5,102.1 228.5,101.8 230.5,101.5 232.5,101.3 234.5,101.0 236.5,100.7 238.5,100.5 240.5,100.2 242.5,99.9 244.5,99.7 246.5,99.4 248.5,99.2 250.5,98.9 252.5,98.7 254.5,98.4 256.5,98.2 258.5,98.0 260.5,97.7 262.5,97.5 264.5,97.2 266.5,97.0 268.5,96.8 270.5,96.7 272.5,96.5 274.5,96.3 276.5,96.1 278.5,96.0 280.5,95.8 282.5,95.6 284.5,95.4 286.5,95.3 288.5,95.1 290.5,95.0 292.5,94.8 294.5,94.7 296.5,94.6 298.5,94.4 300.5,94.3 302.5,94.2 304.5,94.1 306.5,93.9 308.5,93.8 310.5,93.7 312.5,93.5 314.5,93.4 316.5,93.3 318.5,93.2 320.5,93.0 322.5,92.9 324.5,92.8 325.5,92.7 325.5,116.2 324.5,116.2 322.5,116.1 320.5,116.0 318.5,115.9 316.5,115.8 314.5,115.8 312.5,115.7 310.5,115.6 308.5,115.5 306.5,115.4 304.5,115.4 302.5,115.3 300.5,115.2 298.5,115.1 296.5,115.0 294.5,114.9 292.5,114.9 290.5,114.8 288.5,114.7 286.5,114.6 284.5,114.5 282.5,114.4 280.5,114.3 278.5,114.2 276.5,114.1 274.5,114.0 272.5,113.9 270.5,113.8 268.5,113.7 266.5,113.6 264.5,113.4 262.5,113.2 260.5,113.0 258.5,112.8 256.5,112.6 254.5,112.4 252.5,112.3 250.5,112.1 248.5,111.9 246.5,111.7 244.5,111.5 242.5,111.3 240.5,111.1 238.5,110.9 236.5,110.7 234.5,110.5 232.5,110.3 230.5,110.1 228.5,109.9 226.5,109.8 224.5,109.6 222.5,109.5 220.5,109.3 218.5,109.2 216.5,109.0 214.5,108.9 212.5,108.7 210.5,108.6 208.5,108.4 206.5,108.3 206.0,108.2 205.5,108.2 205.0,108.2 204.5,108.1 204.0,108.1 203.5,108.1 203.0,108.0 202.5,108.0 202.0,108.0 201.5,107.9 201.0,107.9 200.5,107.9 200.0,107.8 199.5,107.8 199.0,107.8 198.5,107.7 198.0,107.7 197.5,107.7 197.0,107.6 196.5,107.6 196.0,107.6 195.5,107.5 195.0,107.5 194.5,107.5 194.0,107.4 193.5,107.4 193.0,107.4 192.5,107.3 192.0,107.3 191.5,107.3 191.0,107.2 190.8,107.2Z" fill="#0027ff"/>
<path d="M192.2,106.7 192.5,106.7 193.0,106.6 193.5,106.5 194.0,106.4 194.5,106.3 195.0,106.3 195.5,106.2 196.0,106.1 196.5,106.1 197.0,106.0 197.5,106.0 198.0,105.9 198.5,105.9 199.0,105.8 199.5,105.8 200.0,105.7 200.5,105.7 201.0,105.6 201.5,105.6 202.0,105.5 202.5,105.5 203.0,105.4 203.5,105.4 204.0,105.3 204.5,105.2 205.0,105.2 205.5,105.1 206.0,105.1 206.5,105.0 208.5,104.8 210.5,104.5 212.5,104.3 214.5,104.0 216.5,103.7 218.5,103.4 220.5,103.1 222.5,102.9 224.5,102.6 226.5,102.3 228.5,102.0 230.5,101.8 232.5,101.5 234.5,101.2 236.5,101.0 238.5,100.7 240.5,100.5 242.5,100.2 244.5,100.0 246.5,99.7 248.5,99.5 250.5,99.2 252.5,99.0 254.5,98.8 256.5,98.5 258.5,98.3 260.5,98.0 262.5,97.8 264.5,97.6 266.5,97.4 268.5,97.2 270.5,97.0 272.5,96.9 274.5,96.7 276.5,96.5 278.5,96.4 280.5,96.2 282.5,96.0 284.5,95.8 286.5,95.7 288.5,95.5 290.5,95.4 292.5,95.3 294.5,95.1 296.5,95.0 298.5,94.9 300.5,94.8 302.5,94.6 304.5,94.5 306.5,94.4 308.5,94.3 310.5,94.1 312.5,94.0 314.5,93.9 316.5,93.7 318.5,93.6 320.5,93.5 322.5,93.4 324.5,93.2 325.5,93.2 325.5,115.8 324.5,115.8 322.5,115.7 320.5,115.6 318.5,115.5 316.5,115.5 314.5,115.4 312.5,115.3 310.5,115.2 308.5,115.2 306.5,115.1 304.5,115.0 302.5,114.9 300.5,114.8 298.5,114.7 296.5,114.7 294.5,114.6 292.5,114.5 290.5,114.4 288.5,114.3 286.5,114.2 284.5,114.1 282.5,114.0 280.5,113.9 278.5,113.8 276.5,113.7 274.5,113.6 272.5,113.5 270.5,113.4 268.5,113.4 266.5,113.3 264.5,113.1 262.5,112.9 260.5,112.7 258.5,112.6 256.5,112.4 254.5,112.2 252.5,112.0 250.5,111.8 248.5,111.6 246.5,111.5 244.5,111.3 242.5,111.1 240.5,110.9 238.5,110.7 236.5,110.5 234.5,110.3 232.5,110.1 230.5,109.9 228.5,109.7 226.5,109.6 224.5,109.5 222.5,109.3 220.5,109.2 218.5,109.0 216.5,108.9 214.5,108.8 212.5,108.6 210.5,108.5 208.5,108.3 206.5,108.2 206.0,108.2 205.5,108.1 205.0,108.1 204.5,108.1 204.0,108.0 203.5,108.0 203.0,108.0 202.5,107.9 202.0,107.9 201.5,107.9 201.0,107.8 200.5,107.8 200.0,107.8 199.5,107.7 199.0,107.7 198.5,107.7 198.0,107.6 197.5,107.6 197.0,107.6 196.5,107.5 196.0,107.5 195.5,107.4 195.0,107.4 194.5,107.4 194.0,107.3 193.5,107.2 193.0,107.2 192.5,107.1 192.2,107.0Z" fill="#004eff"/>
<path d="M193.8,106.7 194.0,106.6 194.5,106.5 195.0,106.4 195.5,106.3 196.0,106.2 196.5,106.2 197.0,106.1 197.5,106.1 198.0,106.0 198.5,106.0 199.0,105.9 199.5,105.9 200.0,105.8 200.5,105.8 201.0,105.7 201.5,105.6 202.0,105.6 202.5,105.5 203.0,105.5 203.5,105.4 204.0,105.4 204.5,105.3 205.0,105.3 205.5,105.2 206.0,105.2 206.5,105.1 208.5,104.9 210.5,104.6 212.5,104.4 214.5,104.1 216.5,103.8 218.5,103.6 220.5,103.3 222.5,103.0 224.5,102.8 226.5,102.5 228.5,102.2 230.5,102.0 232.5,101.7 234.5,101.5 236.5,101.2 238.5,101.0 240.5,100.7 242.5,100.5 244.5,100.2 246.5,100.0 248.5,99.8 250.5,99.5 252.5,99.3 254.5,99.1 256.5,98.8 258.5,98.6 260.5,98.4 262.5,98.1 264.5,97.9 266.5,97.7 268.5,97.5 270.5,97.4 272.5,97.2 274.5,97.1 276.5,96.9 278.5,96.7 280.5,96.6 282.5,96.4 284.5,96.2 286.5,96.1 288.5,95.9 290.5,95.8 292.5,95.7 294.5,95.6 296.5,95.4 298.5,95.3 300.5,95.2 302.5,95.1 304.5,94.9 306.5,94.8 308.5,94.7 310.5,94.6 312.5,94.4 314.5,94.3 316.5,94.2 318.5,94.1 320.5,93.9 322.5,93.8 324.5,93.7 325.5,93.6 325.5,115.4 324.5,115.4 322.5,115.3 320.5,115.3 318.5,115.2 316.5,115.1 314.5,115.0 312.5,115.0 310.5,114.9 308.5,114.8 306.5,114.7 304.5,114.6 302.5,114.6 300.5,114.5 298.5,114.4 296.5,114.3 294.5,114.2 292.5,114.2 290.5,114.1 288.5,114.0 286.5,113.9 284.5,113.8 282.5,113.7 280.5,113.6 278.5,113.5 276.5,113.4 274.5,113.3 272.5,113.2 270.5,113.2 268.5,113.1 266.5,113.0 264.5,112.8 262.5,112.7 260.5,112.5 258.5,112.3 256.5,112.1 254.5,112.0 252.5,111.8 250.5,111.6 248.5,111.4 246.5,111.2 244.5,111.1 242.5,110.9 240.5,110.7 238.5,110.5 236.5,110.3 234.5,110.1 232.5,110.0 230.5,109.8 228.5,109.6 226.5,109.5 224.5,109.3 222.5,109.2 220.5,109.1 218.5,108.9 216.5,108.8 214.5,108.6 212.5,108.5 210.5,108.4 208.5,108.2 206.5,108.1 206.0,108.1 205.5,108.1 205.0,108.0 204.5,108.0 204.0,108.0 203.5,107.9 203.0,107.9 202.5,107.9 202.0,107.8 201.5,107.8 201.0,107.8 200.5,107.7 200.0,107.7 199.5,107.7 199.0,107.6 198.5,107.6 198.0,107.6 197.5,107.5 197.0,107.5 196.5,107.4 196.0,107.4 195.5,107.3 195.0,107.3 194.5,107.2 194.0,107.1 193.8,107.1Z" fill="#0076ff"/>
<path d="M194.2,106.7 194.5,106.6 195.0,106.5 195.5,106.4 196.0,106.3 196.5,106.3 197.0,106.2 197.5,106.2 198.0,106.1 198.5,106.0 199.0,106.0 199.5,105.9 200.0,105.9 200.5,105.8 201.0,105.8 201.5,105.7 202.0,105.7 202.5,105.6 203.0,105.6 203.5,105.5 204.0,105.5 204.5,105.4 205.0,105.4 205.5,105.3 206.0,105.3 206.5,105.2 208.5,105.0 210.5,104.7 212.5,104.5 214.5,104.2 216.5,104.0 218.5,103.7 220.5,103.5 222.5,103.2 224.5,102.9 226.5,102.7 228.5,102.4 230.5,102.2 232.5,101.9 234.5,101.7 236.5,101.5 238.5,101.2 240.5,101.0 242.5,100.7 244.5,100.5 246.5,100.2 248.5,100.0 250.5,99.8 252.5,99.6 254.5,99.3 256.5,99.1 258.5,98.9 260.5,98.7 262.5,98.4 264.5,98.2 266.5,98.0 268.5,97.9 270.5,97.7 272.5,97.6 274.5,97.4 276.5,97.3 278.5,97.1 280.5,96.9 282.5,96.8 284.5,96.6 286.5,96.5 288.5,96.3 290.5,96.2 292.5,96.1 294.5,96.0 296.5,95.8 298.5,95.7 300.5,95.6 302.5,95.5 304.5,95.4 306.5,95.2 308.5,95.1 310.5,95.0 312.5,94.8 314.5,94.7 316.5,94.6 318.5,94.5 320.5,94.4 322.5,94.3 324.5,94.1 325.5,94.1 325.5,115.1 324.5,115.1 322.5,115.0 320.5,114.9 318.5,114.8 316.5,114.8 314.5,114.7 312.5,114.6 310.5,114.5 308.5,114.5 306.5,114.4 304.5,114.3 302.5,114.2 300.5,114.2 298.5,114.1 296.5,114.0 294.5,113.9 292.5,113.8 290.5,113.8 288.5,113.7 286.5,113.6 284.5,113.5 282.5,113.4 280.5,113.3 278.5,113.2 276.5,113.1 274.5,113.1 272.5,113.0 270.5,112.9 268.5,112.8 266.5,112.7 264.5,112.6 262.5,112.4 260.5,112.2 258.5,112.1 256.5,111.9 254.5,111.7 252.5,111.5 250.5,111.4 248.5,111.2 246.5,111.0 244.5,110.9 242.5,110.7 240.5,110.5 238.5,110.3 236.5,110.1 234.5,110.0 232.5,109.8 230.5,109.6 228.5,109.5 226.5,109.3 224.5,109.2 222.5,109.1 220.5,108.9 218.5,108.8 216.5,108.7 214.5,108.6 212.5,108.4 210.5,108.3 208.5,108.2 206.5,108.0 206.0,108.0 205.5,108.0 205.0,107.9 204.5,107.9 204.0,107.9 203.5,107.9 203.0,107.8 202.5,107.8 202.0,107.8 201.5,107.7 201.0,107.7 200.5,107.7 200.0,107.6 199.5,107.6 199.0,107.6 198.5,107.5 198.0,107.5 197.5,107.4 197.0,107.4 196.5,107.4 196.0,107.3 195.5,107.2 195.0,107.2 194.5,107.1 194.2,107.0Z" fill="#009dff"/>
<path d="M194.8,106.8 195.0,106.7 195.5,106.5 196.0,106.5 196.5,106.4 197.0,106.3 197.5,106.2 198.0,106.2 198.5,106.1 199.0,106.1 199.5,106.0 200.0,106.0 200.5,105.9 201.0,105.9 201.5,105.8 202.0,105.7 202.5,105.7 203.0,105.6 203.5,105.6 204.0,105.5 204.5,105.5 205.0,105.4 205.5,105.4 206.0,105.3 206.5,105.3 208.5,105.1 210.5,104.8 212.5,104.6 214.5,104.3 216.5,104.1 218.5,103.8 220.5,103.6 222.5,103.4 224.5,103.1 226.5,102.9 228.5,102.6 230.5,102.4 232.5,102.2 234.5,101.9 236.5,101.7 238.5,101.4 240.5,101.2 242.5,101.0 244.5,100.7 246.5,100.5 248.5,100.3 250.5,100.1 252.5,99.8 254.5,99.6 256.5,99.4 258.5,99.2 260.5,98.9 262.5,98.7 264.5,98.5 266.5,98.3 268.5,98.2 270.5,98.0 272.5,97.9 274.5,97.8 276.5,97.6 278.5,97.4 280.5,97.3 282.5,97.1 284.5,97.0 286.5,96.8 288.5,96.7 290.5,96.6 292.5,96.5 294.5,96.3 296.5,96.2 298.5,96.1 300.5,96.0 302.5,95.9 304.5,95.8 306.5,95.6 308.5,95.5 310.5,95.4 312.5,95.2 314.5,95.1 316.5,95.0 318.5,94.9 320.5,94.8 322.5,94.7 324.5,94.6 325.5,94.5 325.5,114.7 324.5,114.7 322.5,114.6 320.5,114.6 318.5,114.5 316.5,114.4 314.5,114.4 312.5,114.3 310.5,114.2 308.5,114.1 306.5,114.1 304.5,114.0 302.5,113.9 300.5,113.8 298.5,113.8 296.5,113.7 294.5,113.6 292.5,113.5 290.5,113.5 288.5,113.4 286.5,113.3 284.5,113.2 282.5,113.1 280.5,113.0 278.5,112.9 276.5,112.9 274.5,112.8 272.5,112.7 270.5,112.6 268.5,112.5 266.5,112.4 264.5,112.3 262.5,112.2 260.5,112.0 258.5,111.8 256.5,111.7 254.5,111.5 252.5,111.3 250.5,111.2 248.5,111.0 246.5,110.8 244.5,110.7 242.5,110.5 240.5,110.3 238.5,110.1 236.5,110.0 234.5,109.8 232.5,109.6 230.5,109.5 228.5,109.3 226.5,109.2 224.5,109.1 222.5,108.9 220.5,108.8 218.5,108.7 216.5,108.6 214.5,108.5 212.5,108.3 210.5,108.2 208.5,108.1 206.5,108.0 206.0,107.9 205.5,107.9 205.0,107.9 204.5,107.8 204.0,107.8 203.5,107.8 203.0,107.8 202.5,107.7 202.0,107.7 201.5,107.7 201.0,107.6 200.5,107.6 200.0,107.6 199.5,107.5 199.0,107.5 198.5,107.5 198.0,107.4 197.5,107.4 197.0,107.3 196.5,107.3 196.0,107.2 195.5,107.1 195.0,107.0 194.8,106.9Z" fill="#00c4ff"/>
<path d="M195.5,106.7 196.0,106.6 196.5,106.5 197.0,106.4 197.5,106.3 198.0,106.3 198.5,106.2 199.0,106.1 199.5,106.1 200.0,106.0 200.5,106.0 201.0,105.9 201.5,105.9 202.0,105.8 202.5,105.8 203.0,105.7 203.5,105.7 204.0,105.6 204.5,105.6 205.0,105.5 205.5,105.5 206.0,105.4 206.5,105.4 208.5,105.2 210.5,104.9 212.5,104.7 214.5,104.5 216.5,104.2 218.5,104.0 220.5,103.7 222.5,103.5 224.5,103.3 226.5,103.0 228.5,102.8 230.5,102.6 232.5,102.4 234.5,102.1 236.5,101.9 238.5,101.7 240.5,101.4 242.5,101.2 244.5,101.0 246.5,100.7 248.5,100.5 250.5,100.3 252.5,100.1 254.5,99.9 256.5,99.7 258.5,99.4 260.5,99.2 262.5,99.0 264.5,98.8 266.5,98.6 268.5,98.5 270.5,98.4 272.5,98.2 274.5,98.1 276.5,97.9 278.5,97.8 280.5,97.6 282.5,97.5 284.5,97.3 286.5,97.2 288.5,97.0 290.5,96.9 292.5,96.8 294.5,96.7 296.5,96.6 298.5,96.5 300.5,96.4 302.5,96.3 304.5,96.1 306.5,96.0 308.5,95.9 310.5,95.8 312.5,95.6 314.5,95.5 316.5,95.4 318.5,95.3 320.5,95.2 322.5,95.1 324.5,95.0 325.5,94.9 325.5,114.4 324.5,114.4 322.5,114.3 320.5,114.2 318.5,114.2 316.5,114.1 314.5,114.1 312.5,114.0 310.5,113.9 308.5,113.8 306.5,113.8 304.5,113.7 302.5,113.6 300.5,113.5 298.5,113.4 296.5,113.4 294.5,113.3 292.5,113.2 290.5,113.2 288.5,113.1 286.5,113.0 284.5,112.9 282.5,112.8 280.5,112.7 278.5,112.7 276.5,112.6 274.5,112.5 272.5,112.4 270.5,112.3 268.5,112.3 266.5,112.2 264.5,112.1 262.5,111.9 260.5,111.8 258.5,111.6 256.5,111.4 254.5,111.3 252.5,111.1 250.5,111.0 248.5,110.8 246.5,110.6 244.5,110.5 242.5,110.3 240.5,110.1 238.5,110.0 236.5,109.8 234.5,109.6 232.5,109.5 230.5,109.3 228.5,109.2 226.5,109.1 224.5,108.9 222.5,108.8 220.5,108.7 218.5,108.6 216.5,108.5 214.5,108.4 212.5,108.2 210.5,108.1 208.5,108.0 206.5,107.9 206.0,107.9 205.5,107.8 205.0,107.8 204.5,107.8 204.0,107.7 203.5,107.7 203.0,107.7 202.5,107.7 202.0,107.6 201.5,107.6 201.0,107.6 200.5,107.5 200.0,107.5 199.5,107.5 199.0,107.4 198.5,107.4 198.0,107.3 197.5,107.3 197.0,107.2 196.5,107.2 196.0,107.1 195.5,107.0Z" fill="#00ebff"/>
<path d="M196.0,106.8 196.5,106.6 197.0,106.5 197.5,106.4 198.0,106.3 198.5,106.3 199.0,106.2 199.5,106.2 200.0,106.1 200.5,106.1 201.0,106.0 201.5,105.9 202.0,105.9 202.5,105.8 203.0,105.8 203.5,105.7 204.0,105.7 204.5,105.7 205.0,105.6 205.5,105.6 206.0,105.5 206.5,105.5 208.5,105.3 210.5,105.0 212.5,104.8 214.5,104.6 216.5,104.3 218.5,104.1 220.5,103.9 222.5,103.7 224.5,103.4 226.5,103.2 228.5,103.0 230.5,102.8 232.5,102.5 234.5,102.3 236.5,102.1 238.5,101.9 240.5,101.7 242.5,101.4 244.5,101.2 246.5,101.0 248.5,100.8 250.5,100.6 252.5,100.3 254.5,100.1 256.5,99.9 258.5,99.7 260.5,99.5 262.5,99.3 264.5,99.1 266.5,98.9 268.5,98.8 270.5,98.7 272.5,98.5 274.5,98.4 276.5,98.3 278.5,98.1 280.5,98.0 282.5,97.8 284.5,97.7 286.5,97.6 288.5,97.4 290.5,97.3 292.5,97.2 294.5,97.1 296.5,97.0 298.5,96.9 300.5,96.8 302.5,96.6 304.5,96.5 306.5,96.4 308.5,96.3 310.5,96.1 312.5,96.0 314.5,95.9 316.5,95.8 318.5,95.7 320.5,95.6 322.5,95.5 324.5,95.4 325.5,95.3 325.5,114.1 324.5,114.0 322.5,114.0 320.5,113.9 318.5,113.8 316.5,113.8 314.5,113.7 312.5,113.7 310.5,113.6 308.5,113.5 306.5,113.4 304.5,113.4 302.5,113.3 300.5,113.2 298.5,113.1 296.5,113.1 294.5,113.0 292.5,112.9 290.5,112.9 288.5,112.8 286.5,112.7 284.5,112.6 282.5,112.5 280.5,112.5 278.5,112.4 276.5,112.3 274.5,112.2 272.5,112.1 270.5,112.1 268.5,112.0 266.5,111.9 264.5,111.8 262.5,111.7 260.5,111.5 258.5,111.4 256.5,111.2 254.5,111.1 252.5,110.9 250.5,110.8 248.5,110.6 246.5,110.5 244.5,110.3 242.5,110.1 240.5,110.0 238.5,109.8 236.5,109.6 234.5,109.5 232.5,109.3 230.5,109.2 228.5,109.1 226.5,108.9 224.5,108.8 222.5,108.7 220.5,108.6 218.5,108.5 216.5,108.4 214.5,108.3 212.5,108.2 210.5,108.0 208.5,107.9 206.5,107.8 206.0,107.8 205.5,107.8 205.0,107.7 204.5,107.7 204.0,107.7 203.5,107.7 203.0,107.6 202.5,107.6 202.0,107.6 201.5,107.5 201.0,107.5 200.5,107.5 200.0,107.4 199.5,107.4 199.0,107.4 198.5,107.3 198.0,107.3 197.5,107.2 197.0,107.1 196.5,107.1 196.0,106.9Z" fill="#00ffeb"/>
<path d="M196.8,106.7 197.0,106.6 197.5,106.5 198.0,106.4 198.5,106.4 199.0,106.3 199.5,106.2 200.0,106.2 200.5,106.1 201.0,106.1 201.5,106.0 202.0,106.0 202.5,105.9 203.0,105.9 203.5,105.8 204.0,105.8 204.5,105.7 205.0,105.7 205.5,105.6 206.0,105.6 206.5,105.5 208.5,105.4 210.5,105.1 212.5,104.9 214.5,104.7 216.5,104.5 218.5,104.2 220.5,104.0 222.5,103.8 224.5,103.6 226.5,103.4 228.5,103.2 230.5,102.9 232.5,102.7 234.5,102.5 236.5,102.3 238.5,102.1 240.5,101.9 242.5,101.6 244.5,101.4 246.5,101.2 248.5,101.0 250.5,100.8 252.5,100.6 254.5,100.4 256.5,100.2 258.5,100.0 260.5,99.8 262.5,99.6 264.5,99.4 266.5,99.2 268.5,99.1 270.5,99.0 272.5,98.9 274.5,98.7 276.5,98.6 278.5,98.5 280.5,98.3 282.5,98.2 284.5,98.0 286.5,97.9 288.5,97.8 290.5,97.7 292.5,97.6 294.5,97.5 296.5,97.4 298.5,97.2 300.5,97.1 302.5,97.0 304.5,96.9 306.5,96.8 308.5,96.6 310.5,96.5 312.5,96.4 314.5,96.3 316.5,96.2 318.5,96.1 320.5,96.0 322.5,95.9 324.5,95.8 325.5,95.7 325.5,113.7 324.5,113.7 322.5,113.6 320.5,113.6 318.5,113.5 316.5,113.5 314.5,113.4 312.5,113.4 310.5,113.3 308.5,113.2 306.5,113.1 304.5,113.0 302.5,113.0 300.5,112.9 298.5,112.8 296.5,112.8 294.5,112.7 292.5,112.6 290.5,112.6 288.5,112.5 286.5,112.4 284.5,112.3 282.5,112.3 280.5,112.2 278.5,112.1 276.5,112.0 274.5,112.0 272.5,111.9 270.5,111.8 268.5,111.7 266.5,111.7 264.5,111.6 262.5,111.4 260.5,111.3 258.5,111.2 256.5,111.0 254.5,110.9 252.5,110.7 250.5,110.6 248.5,110.4 246.5,110.3 244.5,110.1 242.5,110.0 240.5,109.8 238.5,109.6 236.5,109.5 234.5,109.3 232.5,109.2 230.5,109.1 228.5,108.9 226.5,108.8 224.5,108.7 222.5,108.6 220.5,108.5 218.5,108.4 216.5,108.3 214.5,108.2 212.5,108.1 210.5,108.0 208.5,107.9 206.5,107.8 206.0,107.7 205.5,107.7 205.0,107.7 204.5,107.6 204.0,107.6 203.5,107.6 203.0,107.6 202.5,107.5 202.0,107.5 201.5,107.5 201.0,107.4 200.5,107.4 200.0,107.4 199.5,107.3 199.0,107.3 198.5,107.2 198.0,107.2 197.5,107.1 197.0,107.0 196.8,107.0Z" fill="#00ffc4"/>
<path d="M197.2,106.7 197.5,106.6 198.0,106.5 198.5,106.5 199.0,106.4 199.5,106.3 200.0,106.3 200.5,106.2 201.0,106.1 201.5,106.1 202.0,106.0 202.5,106.0 203.0,105.9 203.5,105.9 204.0,105.8 204.5,105.8 205.0,105.8 205.5,105.7 206.0,105.7 206.5,105.6 208.5,105.4 210.5,105.2 212.5,105.0 214.5,104.8 216.5,104.6 218.5,104.4 220.5,104.2 222.5,104.0 224.5,103.7 226.5,103.5 228.5,103.3 230.5,103.1 232.5,102.9 234.5,102.7 236.5,102.5 238.5,102.3 240.5,102.1 242.5,101.9 244.5,101.6 246.5,101.4 248.5,101.2 250.5,101.0 252.5,100.8 254.5,100.6 256.5,100.4 258.5,100.2 260.5,100.0 262.5,99.9 264.5,99.7 266.5,99.5 268.5,99.4 270.5,99.3 272.5,99.2 274.5,99.0 276.5,98.9 278.5,98.8 280.5,98.7 282.5,98.5 284.5,98.4 286.5,98.3 288.5,98.1 290.5,98.0 292.5,97.9 294.5,97.8 296.5,97.7 298.5,97.6 300.5,97.5 302.5,97.4 304.5,97.3 306.5,97.1 308.5,97.0 310.5,96.9 312.5,96.8 314.5,96.7 316.5,96.6 318.5,96.5 320.5,96.4 322.5,96.3 324.5,96.2 325.5,96.2 325.5,113.4 324.5,113.4 322.5,113.3 320.5,113.3 318.5,113.2 316.5,113.2 314.5,113.1 312.5,113.0 310.5,113.0 308.5,112.9 306.5,112.8 304.5,112.7 302.5,112.7 300.5,112.6 298.5,112.5 296.5,112.5 294.5,112.4 292.5,112.3 290.5,112.3 288.5,112.2 286.5,112.1 284.5,112.1 282.5,112.0 280.5,111.9 278.5,111.8 276.5,111.8 274.5,111.7 272.5,111.6 270.5,111.6 268.5,111.5 266.5,111.4 264.5,111.3 262.5,111.2 260.5,111.1 258.5,110.9 256.5,110.8 254.5,110.7 252.5,110.5 250.5,110.4 248.5,110.2 246.5,110.1 244.5,109.9 242.5,109.8 240.5,109.6 238.5,109.5 236.5,109.3 234.5,109.2 232.5,109.1 230.5,108.9 228.5,108.8 226.5,108.7 224.5,108.6 222.5,108.5 220.5,108.4 218.5,108.3 216.5,108.2 214.5,108.1 212.5,108.0 210.5,107.9 208.5,107.8 206.5,107.7 206.0,107.7 205.5,107.6 205.0,107.6 204.5,107.6 204.0,107.5 203.5,107.5 203.0,107.5 202.5,107.5 202.0,107.4 201.5,107.4 201.0,107.4 200.5,107.3 200.0,107.3 199.5,107.3 199.0,107.2 198.5,107.1 198.0,107.1 197.5,107.0 197.2,106.9Z" fill="#00ff9d"/>
<path d="M197.8,106.8 198.0,106.7 198.5,106.6 199.0,106.5 199.5,106.4 200.0,106.3 200.5,106.3 201.0,106.2 201.5,106.2 202.0,106.1 202.5,106.1 203.0,106.0 203.5,106.0 204.0,105.9 204.5,105.9 205.0,105.8 205.5,105.8 206.0,105.7 206.5,105.7 208.5,105.5 210.5,105.3 212.5,105.1 214.5,104.9 216.5,104.7 218.5,104.5 220.5,104.3 222.5,104.1 224.5,103.9 226.5,103.7 228.5,103.5 230.5,103.3 232.5,103.1 234.5,102.9 236.5,102.7 238.5,102.5 240.5,102.3 242.5,102.1 244.5,101.9 246.5,101.7 248.5,101.5 250.5,101.3 252.5,101.1 254.5,100.9 256.5,100.7 258.5,100.5 260.5,100.3 262.5,100.1 264.5,99.9 266.5,99.8 268.5,99.7 270.5,99.6 272.5,99.5 274.5,99.4 276.5,99.2 278.5,99.1 280.5,99.0 282.5,98.9 284.5,98.7 286.5,98.6 288.5,98.5 290.5,98.4 292.5,98.3 294.5,98.2 296.5,98.1 298.5,98.0 300.5,97.9 302.5,97.8 304.5,97.6 306.5,97.5 308.5,97.4 310.5,97.3 312.5,97.2 314.5,97.1 316.5,97.0 318.5,96.9 320.5,96.8 322.5,96.7 324.5,96.6 325.5,96.6 325.5,113.1 324.5,113.1 322.5,113.0 320.5,112.9 318.5,112.9 316.5,112.9 314.5,112.8 312.5,112.7 310.5,112.7 308.5,112.6 306.5,112.5 304.5,112.4 302.5,112.4 300.5,112.3 298.5,112.2 296.5,112.2 294.5,112.1 292.5,112.0 290.5,112.0 288.5,111.9 286.5,111.9 284.5,111.8 282.5,111.7 280.5,111.6 278.5,111.6 276.5,111.5 274.5,111.4 272.5,111.4 270.5,111.3 268.5,111.2 266.5,111.2 264.5,111.1 262.5,111.0 260.5,110.9 258.5,110.7 256.5,110.6 254.5,110.5 252.5,110.3 250.5,110.2 248.5,110.0 246.5,109.9 244.5,109.8 242.5,109.6 240.5,109.5 238.5,109.3 236.5,109.2 234.5,109.0 232.5,108.9 230.5,108.8 228.5,108.7 226.5,108.6 224.5,108.5 222.5,108.4 220.5,108.3 218.5,108.2 216.5,108.1 214.5,108.0 212.5,107.9 210.5,107.8 208.5,107.7 206.5,107.6 206.0,107.6 205.5,107.6 205.0,107.5 204.5,107.5 204.0,107.5 203.5,107.5 203.0,107.4 202.5,107.4 202.0,107.4 201.5,107.3 201.0,107.3 200.5,107.3 200.0,107.2 199.5,107.2 199.0,107.1 198.5,107.1 198.0,107.0 197.8,106.9Z" fill="#00ff76"/>
<path d="M198.5,106.7 199.0,106.6 199.5,106.5 200.0,106.4 200.5,106.4 201.0,106.3 201.5,106.3 202.0,106.2 202.5,106.2 203.0,106.1 203.5,106.0 204.0,106.0 204.5,106.0 205.0,105.9 205.5,105.9 206.0,105.8 206.5,105.8 208.5,105.6 210.5,105.4 212.5,105.2 214.5,105.0 216.5,104.8 218.5,104.6 220.5,104.4 222.5,104.2 224.5,104.0 226.5,103.9 228.5,103.7 230.5,103.5 232.5,103.3 234.5,103.1 236.5,102.9 238.5,102.7 240.5,102.5 242.5,102.3 244.5,102.1 246.5,101.9 248.5,101.7 250.5,101.5 252.5,101.3 254.5,101.1 256.5,100.9 258.5,100.8 260.5,100.6 262.5,100.4 264.5,100.2 266.5,100.1 268.5,100.0 270.5,99.9 272.5,99.8 274.5,99.7 276.5,99.6 278.5,99.4 280.5,99.3 282.5,99.2 284.5,99.1 286.5,99.0 288.5,98.8 290.5,98.7 292.5,98.6 294.5,98.5 296.5,98.5 298.5,98.4 300.5,98.3 302.5,98.1 304.5,98.0 306.5,97.9 308.5,97.8 310.5,97.6 312.5,97.5 314.5,97.4 316.5,97.3 318.5,97.3 320.5,97.2 322.5,97.1 324.5,97.0 325.5,97.0 325.5,112.8 324.5,112.7 322.5,112.7 320.5,112.6 318.5,112.6 316.5,112.6 314.5,112.5 312.5,112.4 310.5,112.4 308.5,112.3 306.5,112.2 304.5,112.1 302.5,112.1 300.5,112.0 298.5,111.9 296.5,111.9 294.5,111.8 292.5,111.7 290.5,111.7 288.5,111.6 286.5,111.6 284.5,111.5 282.5,111.4 280.5,111.4 278.5,111.3 276.5,111.2 274.5,111.2 272.5,111.1 270.5,111.1 268.5,111.0 266.5,110.9 264.5,110.9 262.5,110.8 260.5,110.6 258.5,110.5 256.5,110.4 254.5,110.3 252.5,110.1 250.5,110.0 248.5,109.9 246.5,109.7 244.5,109.6 242.5,109.4 240.5,109.3 238.5,109.2 236.5,109.0 234.5,108.9 232.5,108.8 230.5,108.7 228.5,108.5 226.5,108.5 224.5,108.4 222.5,108.3 220.5,108.2 218.5,108.1 216.5,108.0 214.5,107.9 212.5,107.8 210.5,107.7 208.5,107.6 206.5,107.5 206.0,107.5 205.5,107.5 205.0,107.5 204.5,107.4 204.0,107.4 203.5,107.4 203.0,107.4 202.5,107.3 202.0,107.3 201.5,107.3 201.0,107.2 200.5,107.2 200.0,107.1 199.5,107.1 199.0,107.0 198.5,106.9Z" fill="#00ff4e"/>
<path d="M199.0,106.7 199.5,106.6 200.0,106.5 200.5,106.5 201.0,106.4 201.5,106.3 202.0,106.3 202.5,106.2 203.0,106.2 203.5,106.1 204.0,106.1 204.5,106.0 205.0,106.0 205.5,106.0 206.0,105.9 206.5,105.9 208.5,105.7 210.5,105.5 212.5,105.3 214.5,105.1 216.5,104.9 218.5,104.7 220.5,104.6 222.5,104.4 224.5,104.2 226.5,104.0 228.5,103.8 230.5,103.7 232.5,103.5 234.5,103.3 236.5,103.1 238.5,102.9 240.5,102.7 242.5,102.5 244.5,102.3 246.5,102.1 248.5,101.9 250.5,101.7 252.5,101.6 254.5,101.4 256.5,101.2 258.5,101.0 260.5,100.8 262.5,100.7 264.5,100.5 266.5,100.4 268.5,100.3 270.5,100.2 272.5,100.1 274.5,100.0 276.5,99.9 278.5,99.8 280.5,99.7 282.5,99.5 284.5,99.4 286.5,99.3 288.5,99.2 290.5,99.1 292.5,99.0 294.5,98.9 296.5,98.8 298.5,98.7 300.5,98.6 302.5,98.5 304.5,98.4 306.5,98.3 308.5,98.1 310.5,98.0 312.5,97.9 314.5,97.8 316.5,97.7 318.5,97.7 320.5,97.6 322.5,97.5 324.5,97.4 325.5,97.4 325.5,112.4 324.5,112.4 322.5,112.3 320.5,112.3 318.5,112.3 316.5,112.2 314.5,112.2 312.5,112.1 310.5,112.1 308.5,112.0 306.5,111.9 304.5,111.8 302.5,111.7 300.5,111.7 298.5,111.6 296.5,111.6 294.5,111.5 292.5,111.5 290.5,111.4 288.5,111.3 286.5,111.3 284.5,111.2 282.5,111.2 280.5,111.1 278.5,111.0 276.5,111.0 274.5,110.9 272.5,110.8 270.5,110.8 268.5,110.7 266.5,110.7 264.5,110.6 262.5,110.5 260.5,110.4 258.5,110.3 256.5,110.2 254.5,110.1 252.5,109.9 250.5,109.8 248.5,109.7 246.5,109.5 244.5,109.4 242.5,109.3 240.5,109.1 238.5,109.0 236.5,108.9 234.5,108.8 232.5,108.6 230.5,108.5 228.5,108.4 226.5,108.3 224.5,108.3 222.5,108.2 220.5,108.1 218.5,108.0 216.5,107.9 214.5,107.9 212.5,107.8 210.5,107.7 208.5,107.6 206.5,107.5 206.0,107.4 205.5,107.4 205.0,107.4 204.5,107.4 204.0,107.3 203.5,107.3 203.0,107.3 202.5,107.3 202.0,107.2 201.5,107.2 201.0,107.1 200.5,107.1 200.0,107.1 199.5,107.0 199.0,106.9Z" fill="#00ff27"/>
<path d="M199.8,106.7 200.0,106.7 200.5,106.6 201.0,106.5 201.5,106.4 202.0,106.4 202.5,106.3 203.0,106.3 203.5,106.2 204.0,106.2 204.5,106.1 205.0,106.1 205.5,106.0 206.0,106.0 206.5,106.0 208.5,105.8 210.5,105.6 212.5,105.4 214.5,105.2 216.5,105.0 218.5,104.9 220.5,104.7 222.5,104.5 224.5,104.4 226.5,104.2 228.5,104.0 230.5,103.8 232.5,103.7 234.5,103.5 236.5,103.3 238.5,103.1 240.5,102.9 242.5,102.7 244.5,102.5 246.5,102.3 248.5,102.2 250.5,102.0 252.5,101.8 254.5,101.6 256.5,101.4 258.5,101.3 260.5,101.1 262.5,100.9 264.5,100.8 266.5,100.7 268.5,100.6 270.5,100.5 272.5,100.4 274.5,100.3 276.5,100.2 278.5,100.1 280.5,100.0 282.5,99.9 284.5,99.8 286.5,99.7 288.5,99.5 290.5,99.5 292.5,99.4 294.5,99.3 296.5,99.2 298.5,99.1 300.5,99.0 302.5,98.9 304.5,98.8 306.5,98.6 308.5,98.5 310.5,98.4 312.5,98.3 314.5,98.2 316.5,98.1 318.5,98.1 320.5,98.0 322.5,97.9 324.5,97.8 325.5,97.8 325.5,112.1 324.5,112.1 322.5,112.0 320.5,112.0 318.5,111.9 316.5,111.9 314.5,111.9 312.5,111.8 310.5,111.8 308.5,111.7 306.5,111.6 304.5,111.5 302.5,111.4 300.5,111.4 298.5,111.3 296.5,111.3 294.5,111.2 292.5,111.2 290.5,111.1 288.5,111.0 286.5,111.0 284.5,110.9 282.5,110.9 280.5,110.8 278.5,110.8 276.5,110.7 274.5,110.6 272.5,110.6 270.5,110.5 268.5,110.5 266.5,110.5 264.5,110.4 262.5,110.3 260.5,110.2 258.5,110.1 256.5,110.0 254.5,109.9 252.5,109.7 250.5,109.6 248.5,109.5 246.5,109.4 244.5,109.2 242.5,109.1 240.5,109.0 238.5,108.8 236.5,108.7 234.5,108.6 232.5,108.5 230.5,108.4 228.5,108.3 226.5,108.2 224.5,108.2 222.5,108.1 220.5,108.0 218.5,107.9 216.5,107.8 214.5,107.8 212.5,107.7 210.5,107.6 208.5,107.5 206.5,107.4 206.0,107.4 205.5,107.3 205.0,107.3 204.5,107.3 204.0,107.3 203.5,107.2 203.0,107.2 202.5,107.2 202.0,107.1 201.5,107.1 201.0,107.0 200.5,107.0 200.0,106.9 199.8,106.9Z" fill="#00ff00"/>
<path d="M200.8,106.7 201.0,106.6 201.5,106.6 202.0,106.5 202.5,106.4 203.0,106.4 203.5,106.3 204.0,106.3 204.5,106.2 205.0,106.2 205.5,106.1 206.0,106.1 206.5,106.0 208.5,105.9 210.5,105.7 212.5,105.5 214.5,105.3 216.5,105.2 218.5,105.0 220.5,104.8 222.5,104.7 224.5,104.5 226.5,104.3 228.5,104.2 230.5,104.0 232.5,103.9 234.5,103.7 236.5,103.5 238.5,103.4 240.5,103.2 242.5,102.9 244.5,102.7 246.5,102.6 248.5,102.4 250.5,102.2 252.5,102.0 254.5,101.9 256.5,101.7 258.5,101.5 260.5,101.4 262.5,101.2 264.5,101.1 266.5,101.0 268.5,100.9 270.5,100.8 272.5,100.7 274.5,100.7 276.5,100.5 278.5,100.4 280.5,100.3 282.5,100.2 284.5,100.1 286.5,100.0 288.5,99.9 290.5,99.8 292.5,99.8 294.5,99.7 296.5,99.6 298.5,99.5 300.5,99.4 302.5,99.3 304.5,99.2 306.5,99.0 308.5,98.9 310.5,98.8 312.5,98.7 314.5,98.6 316.5,98.5 318.5,98.5 320.5,98.4 322.5,98.3 324.5,98.3 325.5,98.2 325.5,111.7 324.5,111.7 322.5,111.7 320.5,111.6 318.5,111.6 316.5,111.6 314.5,111.6 312.5,111.5 310.5,111.4 308.5,111.4 306.5,111.3 304.5,111.2 302.5,111.1 300.5,111.1 298.5,111.0 296.5,110.9 294.5,110.9 292.5,110.8 290.5,110.8 288.5,110.7 286.5,110.7 284.5,110.6 282.5,110.6 280.5,110.5 278.5,110.5 276.5,110.4 274.5,110.4 272.5,110.3 270.5,110.3 268.5,110.2 266.5,110.2 264.5,110.2 262.5,110.1 260.5,110.0 258.5,109.9 256.5,109.8 254.5,109.7 252.5,109.5 250.5,109.4 248.5,109.3 246.5,109.2 244.5,109.1 242.5,108.9 240.5,108.8 238.5,108.7 236.5,108.6 234.5,108.5 232.5,108.4 230.5,108.3 228.5,108.2 226.5,108.1 224.5,108.0 222.5,108.0 220.5,107.9 218.5,107.8 216.5,107.8 214.5,107.7 212.5,107.6 210.5,107.5 208.5,107.4 206.5,107.3 206.0,107.3 205.5,107.3 205.0,107.2 204.5,107.2 204.0,107.2 203.5,107.2 203.0,107.1 202.5,107.1 202.0,107.0 201.5,107.0 201.0,106.9 200.8,106.9Z" fill="#27ff00"/>
<path d="M201.8,106.7 202.0,106.6 202.5,106.5 203.0,106.5 203.5,106.4 204.0,106.4 204.5,106.3 205.0,106.3 205.5,106.2 206.0,106.2 206.5,106.1 208.5,106.0 210.5,105.8 212.5,105.6 214.5,105.4 216.5,105.3 218.5,105.1 220.5,105.0 222.5,104.8 224.5,104.7 226.5,104.5 228.5,104.4 230.5,104.2 232.5,104.1 234.5,103.9 236.5,103.7 238.5,103.6 240.5,103.4 242.5,103.2 244.5,103.0 246.5,102.8 248.5,102.6 250.5,102.4 252.5,102.3 254.5,102.1 256.5,102.0 258.5,101.8 260.5,101.6 262.5,101.5 264.5,101.4 266.5,101.3 268.5,101.2 270.5,101.2 272.5,101.1 274.5,101.0 276.5,100.9 278.5,100.8 280.5,100.7 282.5,100.6 284.5,100.5 286.5,100.4 288.5,100.3 290.5,100.2 292.5,100.1 294.5,100.1 296.5,100.0 298.5,99.9 300.5,99.8 302.5,99.7 304.5,99.6 306.5,99.4 308.5,99.3 310.5,99.2 312.5,99.1 314.5,99.0 316.5,98.9 318.5,98.9 320.5,98.9 322.5,98.8 324.5,98.7 325.5,98.7 325.5,111.4 324.5,111.4 322.5,111.3 320.5,111.3 318.5,111.3 316.5,111.3 314.5,111.2 312.5,111.2 310.5,111.1 308.5,111.1 306.5,111.0 304.5,110.9 302.5,110.8 300.5,110.7 298.5,110.7 296.5,110.6 294.5,110.6 292.5,110.5 290.5,110.5 288.5,110.4 286.5,110.4 284.5,110.3 282.5,110.3 280.5,110.2 278.5,110.2 276.5,110.1 274.5,110.1 272.5,110.0 270.5,110.0 268.5,110.0 266.5,110.0 264.5,109.9 262.5,109.8 260.5,109.7 258.5,109.7 256.5,109.6 254.5,109.4 252.5,109.3 250.5,109.2 248.5,109.1 246.5,109.0 244.5,108.9 242.5,108.8 240.5,108.6 238.5,108.5 236.5,108.4 234.5,108.3 232.5,108.2 230.5,108.1 228.5,108.0 226.5,108.0 224.5,107.9 222.5,107.9 220.5,107.8 218.5,107.7 216.5,107.7 214.5,107.6 212.5,107.5 210.5,107.4 208.5,107.4 206.5,107.2 206.0,107.2 205.5,107.2 205.0,107.2 204.5,107.1 204.0,107.1 203.5,107.1 203.0,107.0 202.5,107.0 202.0,106.9 201.8,106.9Z" fill="#4eff00"/>
<path d="M202.8,106.7 203.0,106.6 203.5,106.5 204.0,106.5 204.5,106.4 205.0,106.4 205.5,106.3 206.0,106.3 206.5,106.2 208.5,106.1 210.5,105.9 212.5,105.7 214.5,105.6 216.5,105.4 218.5,105.3 220.5,105.1 222.5,105.0 224.5,104.8 226.5,104.7 228.5,104.5 230.5,104.4 232.5,104.3 234.5,104.1 236.5,104.0 238.5,103.8 240.5,103.6 242.5,103.4 244.5,103.2 246.5,103.0 248.5,102.9 250.5,102.7 252.5,102.5 254.5,102.4 256.5,102.2 258.5,102.1 260.5,101.9 262.5,101.8 264.5,101.7 266.5,101.6 268.5,101.6 270.5,101.5 272.5,101.4 274.5,101.3 276.5,101.3 278.5,101.2 280.5,101.1 282.5,101.0 284.5,100.9 286.5,100.8 288.5,100.7 290.5,100.6 292.5,100.5 294.5,100.5 296.5,100.4 298.5,100.3 300.5,100.2 302.5,100.1 304.5,100.0 306.5,99.8 308.5,99.7 310.5,99.6 312.5,99.5 314.5,99.4 316.5,99.4 318.5,99.3 320.5,99.3 322.5,99.2 324.5,99.2 325.5,99.1 325.5,111.0 324.5,111.0 322.5,111.0 320.5,110.9 318.5,110.9 316.5,110.9 314.5,110.9 312.5,110.8 310.5,110.8 308.5,110.7 306.5,110.6 304.5,110.5 302.5,110.4 300.5,110.4 298.5,110.3 296.5,110.3 294.5,110.2 292.5,110.2 290.5,110.2 288.5,110.1 286.5,110.1 284.5,110.0 282.5,110.0 280.5,109.9 278.5,109.9 276.5,109.8 274.5,109.8 272.5,109.7 270.5,109.7 268.5,109.7 266.5,109.7 264.5,109.7 262.5,109.6 260.5,109.5 258.5,109.4 256.5,109.3 254.5,109.2 252.5,109.1 250.5,109.0 248.5,108.9 246.5,108.8 244.5,108.7 242.5,108.6 240.5,108.5 238.5,108.3 236.5,108.2 234.5,108.1 232.5,108.1 230.5,108.0 228.5,107.9 226.5,107.9 224.5,107.8 222.5,107.7 220.5,107.7 218.5,107.6 216.5,107.6 214.5,107.5 212.5,107.4 210.5,107.3 208.5,107.3 206.5,107.2 206.0,107.1 205.5,107.1 205.0,107.1 204.5,107.0 204.0,107.0 203.5,107.0 203.0,106.9 202.8,106.9Z" fill="#76ff00"/>
<path d="M203.8,106.7 204.0,106.6 204.5,106.6 205.0,106.5 205.5,106.5 206.0,106.4 206.5,106.3 208.5,106.2 210.5,106.0 212.5,105.8 214.5,105.7 216.5,105.5 218.5,105.4 220.5,105.3 222.5,105.1 224.5,105.0 226.5,104.9 228.5,104.7 230.5,104.6 232.5,104.5 234.5,104.3 236.5,104.2 238.5,104.0 240.5,103.8 242.5,103.6 244.5,103.4 246.5,103.3 248.5,103.1 250.5,102.9 252.5,102.8 254.5,102.6 256.5,102.5 258.5,102.3 260.5,102.2 262.5,102.1 264.5,102.0 266.5,101.9 268.5,101.9 270.5,101.8 272.5,101.8 274.5,101.7 276.5,101.6 278.5,101.5 280.5,101.5 282.5,101.4 284.5,101.3 286.5,101.2 288.5,101.1 290.5,101.0 292.5,101.0 294.5,100.9 296.5,100.8 298.5,100.8 300.5,100.7 302.5,100.6 304.5,100.4 306.5,100.3 308.5,100.1 310.5,100.0 312.5,99.9 314.5,99.8 316.5,99.8 318.5,99.8 320.5,99.8 322.5,99.7 324.5,99.7 325.5,99.6 325.5,110.6 324.5,110.6 322.5,110.6 320.5,110.5 318.5,110.5 316.5,110.6 314.5,110.5 312.5,110.5 310.5,110.4 308.5,110.4 306.5,110.3 304.5,110.2 302.5,110.1 300.5,110.0 298.5,110.0 296.5,109.9 294.5,109.9 292.5,109.9 290.5,109.8 288.5,109.8 286.5,109.7 284.5,109.7 282.5,109.6 280.5,109.6 278.5,109.6 276.5,109.5 274.5,109.5 272.5,109.4 270.5,109.4 268.5,109.4 266.5,109.4 264.5,109.4 262.5,109.3 260.5,109.3 258.5,109.2 256.5,109.1 254.5,109.0 252.5,108.9 250.5,108.8 248.5,108.7 246.5,108.6 244.5,108.5 242.5,108.4 240.5,108.3 238.5,108.2 236.5,108.1 234.5,108.0 232.5,107.9 230.5,107.8 228.5,107.8 226.5,107.7 224.5,107.7 222.5,107.6 220.5,107.6 218.5,107.5 216.5,107.5 214.5,107.4 212.5,107.3 210.5,107.3 208.5,107.2 206.5,107.1 206.0,107.0 205.5,107.0 205.0,107.0 204.5,106.9 204.0,106.9 203.8,106.8Z" fill="#9dff00"/>
<path d="M205.2,106.7 205.5,106.6 206.0,106.6 206.5,106.5 208.5,106.3 210.5,106.1 212.5,106.0 214.5,105.8 216.5,105.7 218.5,105.5 220.5,105.4 222.5,105.3 224.5,105.2 226.5,105.1 228.5,104.9 230.5,104.8 232.5,104.7 234.5,104.6 236.5,104.4 238.5,104.3 240.5,104.1 242.5,103.9 244.5,103.7 246.5,103.5 248.5,103.4 250.5,103.2 252.5,103.1 254.5,102.9 256.5,102.8 258.5,102.6 260.5,102.5 262.5,102.4 264.5,102.3 266.5,102.3 268.5,102.3 270.5,102.2 272.5,102.2 274.5,102.1 276.5,102.0 278.5,101.9 280.5,101.9 282.5,101.8 284.5,101.7 286.5,101.6 288.5,101.6 290.5,101.5 292.5,101.4 294.5,101.4 296.5,101.3 298.5,101.2 300.5,101.1 302.5,101.0 304.5,100.9 306.5,100.7 308.5,100.6 310.5,100.5 312.5,100.4 314.5,100.3 316.5,100.3 318.5,100.3 320.5,100.3 322.5,100.2 324.5,100.2 325.5,100.1 325.5,110.2 324.5,110.2 322.5,110.2 320.5,110.1 318.5,110.1 316.5,110.2 314.5,110.2 312.5,110.1 310.5,110.1 308.5,110.0 306.5,109.9 304.5,109.8 302.5,109.7 300.5,109.6 298.5,109.6 296.5,109.6 294.5,109.5 292.5,109.5 290.5,109.4 288.5,109.4 286.5,109.4 284.5,109.3 282.5,109.3 280.5,109.3 278.5,109.2 276.5,109.2 274.5,109.2 272.5,109.1 270.5,109.1 268.5,109.1 266.5,109.1 264.5,109.1 262.5,109.1 260.5,109.0 258.5,109.0 256.5,108.9 254.5,108.8 252.5,108.7 250.5,108.6 248.5,108.5 246.5,108.4 244.5,108.3 242.5,108.2 240.5,108.1 238.5,108.0 236.5,107.9 234.5,107.8 232.5,107.7 230.5,107.7 228.5,107.6 226.5,107.6 224.5,107.5 222.5,107.5 220.5,107.5 218.5,107.4 216.5,107.4 214.5,107.3 212.5,107.2 210.5,107.2 208.5,107.1 206.5,106.9 206.0,106.9 205.5,106.8 205.2,106.8Z" fill="#c4ff00"/>
<path d="M207.0,106.7 208.5,106.4 210.5,106.3 212.5,106.1 214.5,106.0 216.5,105.8 218.5,105.7 220.5,105.6 222.5,105.5 224.5,105.4 226.5,105.3 228.5,105.2 230.5,105.1 232.5,104.9 234.5,104.8 236.5,104.7 238.5,104.5 240.5,104.3 242.5,104.1 244.5,103.9 246.5,103.8 248.5,103.6 250.5,103.5 252.5,103.3 254.5,103.2 256.5,103.1 258.5,102.9 260.5,102.8 262.5,102.7 264.5,102.7 266.5,102.6 268.5,102.6 270.5,102.6 272.5,102.6 274.5,102.5 276.5,102.5 278.5,102.4 280.5,102.3 282.5,102.3 284.5,102.2 286.5,102.1 288.5,102.0 290.5,102.0 292.5,101.9 294.5,101.9 296.5,101.8 298.5,101.7 300.5,101.6 302.5,101.5 304.5,101.4 306.5,101.2 308.5,101.1 310.5,101.0 312.5,100.9 314.5,100.8 316.5,100.8 318.5,100.8 320.5,100.8 322.5,100.8 324.5,100.7 325.5,100.7 325.5,109.7 324.5,109.7 322.5,109.7 320.5,109.7 318.5,109.7 316.5,109.8 314.5,109.8 312.5,109.7 310.5,109.7 308.5,109.6 306.5,109.5 304.5,109.4 302.5,109.3 300.5,109.2 298.5,109.2 296.5,109.1 294.5,109.1 292.5,109.1 290.5,109.0 288.5,109.0 286.5,109.0 284.5,109.0 282.5,108.9 280.5,108.9 278.5,108.9 276.5,108.8 274.5,108.8 272.5,108.8 270.5,108.8 268.5,108.8 266.5,108.8 264.5,108.8 262.5,108.8 260.5,108.8 258.5,108.7 256.5,108.6 254.5,108.6 252.5,108.5 250.5,108.4 248.5,108.3 246.5,108.2 244.5,108.1 242.5,108.0 240.5,107.9 238.5,107.8 236.5,107.7 234.5,107.6 232.5,107.6 230.5,107.5 228.5,107.5 226.5,107.4 224.5,107.4 222.5,107.4 220.5,107.3 218.5,107.3 216.5,107.2 214.5,107.2 212.5,107.1 210.5,107.0 208.5,107.0 207.0,106.8Z" fill="#ebff00"/>
<path d="M208.8,106.6 210.5,106.4 212.5,106.3 214.5,106.1 216.5,106.0 218.5,105.9 220.5,105.8 222.5,105.7 224.5,105.6 226.5,105.5 228.5,105.4 230.5,105.3 232.5,105.2 234.5,105.1 236.5,104.9 238.5,104.8 240.5,104.6 242.5,104.4 244.5,104.2 246.5,104.1 248.5,103.9 250.5,103.8 252.5,103.6 254.5,103.5 256.5,103.4 258.5,103.3 260.5,103.2 262.5,103.1 264.5,103.0 266.5,103.0 268.5,103.1 270.5,103.1 272.5,103.0 274.5,103.0 276.5,102.9 278.5,102.9 280.5,102.8 282.5,102.8 284.5,102.7 286.5,102.7 288.5,102.6 290.5,102.5 292.5,102.5 294.5,102.4 296.5,102.4 298.5,102.3 300.5,102.2 302.5,102.1 304.5,102.0 306.5,101.8 308.5,101.6 310.5,101.5 312.5,101.4 314.5,101.4 316.5,101.3 318.5,101.4 320.5,101.5 322.5,101.4 324.5,101.4 325.5,101.4 325.5,109.2 324.5,109.2 322.5,109.2 320.5,109.2 318.5,109.2 316.5,109.3 314.5,109.3 312.5,109.3 310.5,109.2 308.5,109.2 306.5,109.1 304.5,108.9 302.5,108.8 300.5,108.8 298.5,108.7 296.5,108.7 294.5,108.6 292.5,108.6 290.5,108.6 288.5,108.6 286.5,108.5 284.5,108.5 282.5,108.5 280.5,108.5 278.5,108.4 276.5,108.4 274.5,108.4 272.5,108.4 270.5,108.4 268.5,108.4 266.5,108.5 264.5,108.5 262.5,108.5 260.5,108.5 258.5,108.4 256.5,108.4 254.5,108.3 252.5,108.2 250.5,108.2 248.5,108.1 246.5,108.0 244.5,107.9 242.5,107.8 240.5,107.7 238.5,107.6 236.5,107.5 234.5,107.4 232.5,107.4 230.5,107.3 228.5,107.3 226.5,107.3 224.5,107.2 222.5,107.2 220.5,107.2 218.5,107.2 216.5,107.1 214.5,107.1 212.5,107.0 210.5,106.9 208.8,106.8Z" fill="#ffeb00"/>
<path d="M212.0,106.6 212.5,106.5 214.5,106.3 216.5,106.2 218.5,106.1 220.5,106.0 222.5,105.9 224.5,105.9 226.5,105.8 228.5,105.7 230.5,105.6 232.5,105.5 234.5,105.4 236.5,105.3 238.5,105.1 240.5,104.9 242.5,104.7 244.5,104.5 246.5,104.4 248.5,104.2 250.5,104.1 252.5,104.0 254.5,103.9 256.5,103.7 258.5,103.6 260.5,103.6 262.5,103.5 264.5,103.5 266.5,103.5 268.5,103.6 270.5,103.6 272.5,103.6 274.5,103.6 276.5,103.5 278.5,103.5 280.5,103.4 282.5,103.4 284.5,103.3 286.5,103.3 288.5,103.2 290.5,103.2 292.5,103.2 294.5,103.1 296.5,103.1 298.5,103.0 300.5,102.9 302.5,102.8 304.5,102.6 306.5,102.4 308.5,102.2 310.5,102.1 312.5,102.1 314.5,102.0 316.5,102.0 318.5,102.1 320.5,102.2 322.5,102.2 324.5,102.2 325.5,102.2 325.5,108.6 324.5,108.6 322.5,108.6 320.5,108.6 318.5,108.7 316.5,108.8 314.5,108.8 312.5,108.8 310.5,108.7 308.5,108.7 306.5,108.6 304.5,108.4 302.5,108.3 300.5,108.2 298.5,108.1 296.5,108.1 294.5,108.1 292.5,108.1 290.5,108.1 288.5,108.0 286.5,108.0 284.5,108.0 282.5,108.0 280.5,108.0 278.5,108.0 276.5,107.9 274.5,107.9 272.5,107.9 270.5,108.0 268.5,108.0 266.5,108.1 264.5,108.2 262.5,108.2 260.5,108.2 258.5,108.1 256.5,108.1 254.5,108.0 252.5,108.0 250.5,107.9 248.5,107.8 246.5,107.8 244.5,107.7 242.5,107.6 240.5,107.4 238.5,107.3 236.5,107.2 234.5,107.2 232.5,107.1 230.5,107.1 228.5,107.1 226.5,107.1 224.5,107.0 222.5,107.0 220.5,107.0 218.5,107.0 216.5,106.9 214.5,106.9 212.5,106.8 212.0,106.7Z" fill="#ffc400"/>
<path d="M217.8,106.6 218.5,106.5 220.5,106.4 222.5,106.3 224.5,106.2 226.5,106.2 228.5,106.1 230.5,106.1 232.5,106.0 234.5,105.9 236.5,105.7 238.5,105.5 240.5,105.3 242.5,105.0 244.5,104.9 246.5,104.7 248.5,104.6 250.5,104.4 252.5,104.3 254.5,104.2 256.5,104.1 258.5,104.0 260.5,104.0 262.5,103.9 264.5,104.0 266.5,104.1 268.5,104.2 270.5,104.2 272.5,104.3 274.5,104.3 276.5,104.3 278.5,104.3 280.5,104.2 282.5,104.2 284.5,104.2 286.5,104.2 288.5,104.1 290.5,104.1 292.5,104.1 294.5,104.0 296.5,104.0 298.5,104.0 300.5,103.8 302.5,103.7 304.5,103.5 306.5,103.2 308.5,103.0 310.5,102.9 312.5,102.8 314.5,102.7 316.5,102.8 318.5,103.0 320.5,103.2 322.5,103.2 324.5,103.2 325.5,103.2 325.5,107.7 324.5,107.7 322.5,107.8 320.5,107.8 318.5,107.9 316.5,108.1 314.5,108.2 312.5,108.2 310.5,108.1 308.5,108.1 306.5,107.9 304.5,107.7 302.5,107.5 300.5,107.4 298.5,107.4 296.5,107.3 294.5,107.3 292.5,107.3 290.5,107.3 288.5,107.3 286.5,107.3 284.5,107.3 282.5,107.3 280.5,107.3 278.5,107.3 276.5,107.3 274.5,107.3 272.5,107.4 270.5,107.4 268.5,107.5 266.5,107.6 264.5,107.7 262.5,107.8 260.5,107.8 258.5,107.8 256.5,107.8 254.5,107.7 252.5,107.7 250.5,107.6 248.5,107.6 246.5,107.5 244.5,107.4 242.5,107.3 240.5,107.1 238.5,107.0 236.5,106.9 234.5,106.8 232.5,106.8 230.5,106.8 228.5,106.8 226.5,106.8 224.5,106.8 222.5,106.8 220.5,106.7 218.5,106.7 217.8,106.6Z" fill="#ff9d00"/>
<path d="M239.8,106.1 240.5,105.9 242.5,105.5 244.5,105.3 246.5,105.1 248.5,105.0 250.5,104.9 252.5,104.8 254.5,104.7 256.5,104.6 258.5,104.6 260.5,104.5 262.5,104.5 264.5,104.6 266.5,104.9 268.5,105.2 270.5,105.5 271.2,105.7 271.2,106.2 270.5,106.4 268.5,106.7 266.5,106.9 264.5,107.2 262.5,107.3 260.5,107.3 258.5,107.4 256.5,107.4 254.5,107.3 252.5,107.3 250.5,107.3 248.5,107.2 246.5,107.1 244.5,107.1 242.5,106.9 240.5,106.7 239.8,106.5ZM304.2,105.5 304.5,105.2 306.5,104.4 308.5,104.1 310.5,104.0 312.5,103.9 314.5,103.8 316.5,104.0 318.5,104.6 319.2,105.1 319.2,106.2 318.5,106.6 316.5,107.2 314.5,107.3 312.5,107.3 310.5,107.2 308.5,107.2 306.5,106.9 304.5,106.3 304.2,106.1Z" fill="#ff7600"/>
<path d="M243.8,106.2 244.5,106.1 246.5,105.8 248.5,105.6 250.5,105.5 252.5,105.4 254.5,105.4 256.5,105.3 258.5,105.3 260.5,105.4 262.5,105.6 263.2,105.8 263.2,106.2 262.5,106.4 260.5,106.6 258.5,106.7 256.5,106.8 254.5,106.8 252.5,106.8 250.5,106.8 248.5,106.7 246.5,106.6 244.5,106.5 243.8,106.4Z" fill="#ff4e00"/>
<path d="M190.2,136.2 190.5,136.2 191.0,136.1 191.5,136.1 192.0,136.1 192.5,136.0 193.0,136.0 193.5,136.0 194.0,135.9 194.5,135.9 195.0,135.8 195.5,135.8 196.0,135.8 196.5,135.7 197.0,135.7 197.5,135.7 198.0,135.6 198.5,135.6 199.0,135.6 199.5,135.5 200.0,135.5 200.5,135.4 201.0,135.4 201.5,135.3 202.0,135.3 202.5,135.2 203.0,135.2 203.5,135.1 204.0,135.1 204.5,135.0 205.0,135.0 205.5,134.9 206.0,134.9 208.0,134.7 210.0,134.5 212.0,134.3 214.0,134.1 216.0,133.9 218.0,133.7 220.0,133.5 222.0,133.3 224.0,133.1 226.0,132.9 228.0,132.7 230.0,132.6 232.0,132.4 234.0,132.3 236.0,132.1 238.0,131.9 240.0,131.8 242.0,131.6 244.0,131.5 246.0,131.3 248.0,131.2 250.0,131.1 252.0,131.0 254.0,130.9 256.0,130.8 258.0,130.6 260.0,130.5 262.0,130.4 264.0,130.3 266.0,130.2 268.0,130.0 270.0,129.9 272.0,129.9 274.0,129.8 276.0,129.7 278.0,129.7 280.0,129.6 282.0,129.5 284.0,129.5 286.0,129.4 288.0,129.3 290.0,129.2 292.0,129.1 294.0,128.9 296.0,128.8 298.0,128.7 300.0,128.6 302.0,128.4 304.0,128.3 306.0,128.2 308.0,128.1 310.0,128.1 312.0,128.0 314.0,128.0 316.0,127.9 318.0,127.9 320.0,127.8 322.0,127.8 324.0,127.7 325.5,127.7 325.5,150.3 324.0,150.2 322.0,150.2 320.0,150.1 318.0,150.0 316.0,150.0 314.0,149.9 312.0,149.8 310.0,149.8 308.0,149.7 306.0,149.6 304.0,149.5 302.0,149.3 300.0,149.1 298.0,149.0 296.0,148.8 294.0,148.7 292.0,148.5 290.0,148.3 288.0,148.1 286.0,147.8 284.0,147.5 282.0,147.3 280.0,147.0 278.0,146.7 276.0,146.4 274.0,146.1 272.0,145.8 270.0,145.5 268.0,145.3 266.0,145.1 264.0,144.9 262.0,144.8 260.0,144.6 258.0,144.5 256.0,144.3 254.0,144.1 252.0,144.0 250.0,143.8 248.0,143.7 246.0,143.5 244.0,143.3 242.0,143.1 240.0,142.9 238.0,142.7 236.0,142.5 234.0,142.3 232.0,142.1 230.0,141.9 228.0,141.6 226.0,141.4 224.0,141.1 222.0,140.8 220.0,140.5 218.0,140.3 216.0,140.0 214.0,139.7 212.0,139.4 210.0,139.2 208.0,138.9 206.0,138.6 205.5,138.6 205.0,138.5 204.5,138.4 204.0,138.4 203.5,138.3 203.0,138.3 202.5,138.2 202.0,138.1 201.5,138.1 201.0,138.0 200.5,138.0 200.0,137.9 199.5,137.8 199.0,137.8 198.5,137.7 198.0,137.7 197.5,137.6 197.0,137.6 196.5,137.5 196.0,137.5 195.5,137.4 195.0,137.3 194.5,137.3 194.0,137.2 193.5,137.2 193.0,137.1 192.5,137.1 192.0,137.0 191.5,137.0 191.0,136.9 190.5,136.9 190.2,136.8Z" fill="#0027ff"/>
<path d="M190.8,136.4 191.0,136.3 191.5,136.2 192.0,136.2 192.5,136.1 193.0,136.1 193.5,136.0 194.0,136.0 194.5,136.0 195.0,135.9 195.5,135.9 196.0,135.8 196.5,135.8 197.0,135.8 197.5,135.7 198.0,135.7 198.5,135.7 199.0,135.6 199.5,135.6 200.0,135.6 200.5,135.5 201.0,135.5 201.5,135.4 202.0,135.4 202.5,135.3 203.0,135.3 203.5,135.2 204.0,135.2 204.5,135.1 205.0,135.1 205.5,135.0 206.0,135.0 208.0,134.8 210.0,134.6 212.0,134.4 214.0,134.2 216.0,134.1 218.0,133.9 220.0,133.7 222.0,133.5 224.0,133.3 226.0,133.1 228.0,132.9 230.0,132.8 232.0,132.6 234.0,132.5 236.0,132.3 238.0,132.2 240.0,132.0 242.0,131.9 244.0,131.7 246.0,131.6 248.0,131.5 250.0,131.4 252.0,131.2 254.0,131.1 256.0,131.0 258.0,130.9 260.0,130.8 262.0,130.6 264.0,130.5 266.0,130.4 268.0,130.3 270.0,130.2 272.0,130.2 274.0,130.1 276.0,130.0 278.0,130.0 280.0,129.9 282.0,129.8 284.0,129.7 286.0,129.7 288.0,129.6 290.0,129.5 292.0,129.4 294.0,129.3 296.0,129.1 298.0,129.0 300.0,128.9 302.0,128.8 304.0,128.6 306.0,128.5 308.0,128.5 310.0,128.4 312.0,128.4 314.0,128.3 316.0,128.3 318.0,128.2 320.0,128.2 322.0,128.1 324.0,128.1 325.5,128.1 325.5,149.8 324.0,149.7 322.0,149.7 320.0,149.6 318.0,149.5 316.0,149.5 314.0,149.4 312.0,149.3 310.0,149.3 308.0,149.2 306.0,149.1 304.0,149.0 302.0,148.8 300.0,148.7 298.0,148.5 296.0,148.4 294.0,148.2 292.0,148.1 290.0,147.9 288.0,147.7 286.0,147.4 284.0,147.1 282.0,146.9 280.0,146.6 278.0,146.3 276.0,146.0 274.0,145.7 272.0,145.5 270.0,145.2 268.0,144.9 266.0,144.8 264.0,144.6 262.0,144.5 260.0,144.3 258.0,144.2 256.0,144.0 254.0,143.9 252.0,143.7 250.0,143.5 248.0,143.4 246.0,143.2 244.0,143.1 242.0,142.9 240.0,142.7 238.0,142.5 236.0,142.3 234.0,142.0 232.0,141.8 230.0,141.6 228.0,141.4 226.0,141.2 224.0,140.9 222.0,140.6 220.0,140.4 218.0,140.1 216.0,139.8 214.0,139.6 212.0,139.3 210.0,139.0 208.0,138.8 206.0,138.5 205.5,138.5 205.0,138.4 204.5,138.3 204.0,138.3 203.5,138.2 203.0,138.2 202.5,138.1 202.0,138.0 201.5,138.0 201.0,137.9 200.5,137.9 200.0,137.8 199.5,137.7 199.0,137.7 198.5,137.6 198.0,137.6 197.5,137.5 197.0,137.5 196.5,137.4 196.0,137.4 195.5,137.3 195.0,137.3 194.5,137.2 194.0,137.2 193.5,137.1 193.0,137.0 192.5,137.0 192.0,136.9 191.5,136.8 191.0,136.7 190.8,136.6Z" fill="#004eff"/>
<path d="M191.5,136.4 192.0,136.3 192.5,136.2 193.0,136.2 193.5,136.1 194.0,136.1 194.5,136.0 195.0,136.0 195.5,136.0 196.0,135.9 196.5,135.9 197.0,135.8 197.5,135.8 198.0,135.8 198.5,135.7 199.0,135.7 199.5,135.7 200.0,135.6 200.5,135.6 201.0,135.5 201.5,135.5 202.0,135.4 202.5,135.4 203.0,135.4 203.5,135.3 204.0,135.3 204.5,135.2 205.0,135.2 205.5,135.1 206.0,135.1 208.0,134.9 210.0,134.7 212.0,134.6 214.0,134.4 216.0,134.2 218.0,134.0 220.0,133.8 222.0,133.7 224.0,133.5 226.0,133.3 228.0,133.1 230.0,133.0 232.0,132.8 234.0,132.7 236.0,132.5 238.0,132.4 240.0,132.2 242.0,132.1 244.0,131.9 246.0,131.8 248.0,131.7 250.0,131.6 252.0,131.5 254.0,131.4 256.0,131.2 258.0,131.1 260.0,131.0 262.0,130.9 264.0,130.8 266.0,130.7 268.0,130.6 270.0,130.5 272.0,130.4 274.0,130.4 276.0,130.3 278.0,130.2 280.0,130.2 282.0,130.1 284.0,130.0 286.0,130.0 288.0,129.9 290.0,129.8 292.0,129.7 294.0,129.5 296.0,129.4 298.0,129.3 300.0,129.2 302.0,129.1 304.0,129.0 306.0,128.9 308.0,128.8 310.0,128.8 312.0,128.7 314.0,128.7 316.0,128.6 318.0,128.6 320.0,128.5 322.0,128.5 324.0,128.4 325.5,128.4 325.5,149.3 324.0,149.2 322.0,149.1 320.0,149.1 318.0,149.0 316.0,149.0 314.0,148.9 312.0,148.8 310.0,148.8 308.0,148.7 306.0,148.7 304.0,148.5 302.0,148.4 300.0,148.2 298.0,148.1 296.0,147.9 294.0,147.8 292.0,147.6 290.0,147.5 288.0,147.3 286.0,147.0 284.0,146.8 282.0,146.5 280.0,146.2 278.0,145.9 276.0,145.7 274.0,145.4 272.0,145.1 270.0,144.9 268.0,144.6 266.0,144.5 264.0,144.3 262.0,144.2 260.0,144.0 258.0,143.9 256.0,143.7 254.0,143.6 252.0,143.4 250.0,143.3 248.0,143.1 246.0,143.0 244.0,142.8 242.0,142.6 240.0,142.4 238.0,142.2 236.0,142.0 234.0,141.8 232.0,141.6 230.0,141.4 228.0,141.2 226.0,141.0 224.0,140.7 222.0,140.5 220.0,140.2 218.0,139.9 216.0,139.7 214.0,139.4 212.0,139.2 210.0,138.9 208.0,138.7 206.0,138.4 205.5,138.4 205.0,138.3 204.5,138.3 204.0,138.2 203.5,138.1 203.0,138.1 202.5,138.0 202.0,138.0 201.5,137.9 201.0,137.8 200.5,137.8 200.0,137.7 199.5,137.7 199.0,137.6 198.5,137.6 198.0,137.5 197.5,137.5 197.0,137.4 196.5,137.4 196.0,137.3 195.5,137.2 195.0,137.2 194.5,137.1 194.0,137.1 193.5,137.0 193.0,136.9 192.5,136.9 192.0,136.8 191.5,136.6Z" fill="#0076ff"/>
<path d="M192.2,136.4 192.5,136.4 193.0,136.3 193.5,136.2 194.0,136.2 194.5,136.1 195.0,136.1 195.5,136.0 196.0,136.0 196.5,135.9 197.0,135.9 197.5,135.9 198.0,135.8 198.5,135.8 199.0,135.8 199.5,135.7 200.0,135.7 200.5,135.7 201.0,135.6 201.5,135.6 202.0,135.5 202.5,135.5 203.0,135.4 203.5,135.4 204.0,135.4 204.5,135.3 205.0,135.3 205.5,135.2 206.0,135.2 208.0,135.0 210.0,134.8 212.0,134.7 214.0,134.5 216.0,134.3 218.0,134.2 220.0,134.0 222.0,133.8 224.0,133.6 226.0,133.5 228.0,133.3 230.0,133.2 232.0,133.0 234.0,132.9 236.0,132.7 238.0,132.6 240.0,132.4 242.0,132.3 244.0,132.2 246.0,132.0 248.0,131.9 250.0,131.8 252.0,131.7 254.0,131.6 256.0,131.5 258.0,131.3 260.0,131.2 262.0,131.1 264.0,131.0 266.0,130.9 268.0,130.8 270.0,130.8 272.0,130.7 274.0,130.6 276.0,130.6 278.0,130.5 280.0,130.4 282.0,130.4 284.0,130.3 286.0,130.2 288.0,130.2 290.0,130.1 292.0,129.9 294.0,129.8 296.0,129.7 298.0,129.6 300.0,129.5 302.0,129.4 304.0,129.3 306.0,129.2 308.0,129.1 310.0,129.1 312.0,129.0 314.0,129.0 316.0,129.0 318.0,128.9 320.0,128.9 322.0,128.8 324.0,128.8 325.5,128.7 325.5,148.8 324.0,148.7 322.0,148.7 320.0,148.6 318.0,148.5 316.0,148.5 314.0,148.4 312.0,148.4 310.0,148.3 308.0,148.3 306.0,148.2 304.0,148.1 302.0,147.9 300.0,147.8 298.0,147.6 296.0,147.5 294.0,147.4 292.0,147.2 290.0,147.1 288.0,146.9 286.0,146.6 284.0,146.4 282.0,146.1 280.0,145.9 278.0,145.6 276.0,145.3 274.0,145.1 272.0,144.8 270.0,144.5 268.0,144.3 266.0,144.2 264.0,144.0 262.0,143.9 260.0,143.8 258.0,143.6 256.0,143.5 254.0,143.3 252.0,143.2 250.0,143.0 248.0,142.9 246.0,142.7 244.0,142.6 242.0,142.4 240.0,142.2 238.0,142.0 236.0,141.8 234.0,141.6 232.0,141.4 230.0,141.2 228.0,141.0 226.0,140.8 224.0,140.5 222.0,140.3 220.0,140.0 218.0,139.8 216.0,139.5 214.0,139.3 212.0,139.0 210.0,138.8 208.0,138.5 206.0,138.3 205.5,138.3 205.0,138.2 204.5,138.2 204.0,138.1 203.5,138.0 203.0,138.0 202.5,137.9 202.0,137.9 201.5,137.8 201.0,137.8 200.5,137.7 200.0,137.7 199.5,137.6 199.0,137.5 198.5,137.5 198.0,137.4 197.5,137.4 197.0,137.3 196.5,137.3 196.0,137.2 195.5,137.2 195.0,137.1 194.5,137.0 194.0,137.0 193.5,136.9 193.0,136.8 192.5,136.7 192.2,136.6Z" fill="#009dff"/>
<path d="M193.0,136.4 193.5,136.3 194.0,136.3 194.5,136.2 195.0,136.1 195.5,136.1 196.0,136.1 196.5,136.0 197.0,136.0 197.5,135.9 198.0,135.9 198.5,135.9 199.0,135.8 199.5,135.8 200.0,135.8 200.5,135.7 201.0,135.7 201.5,135.6 202.0,135.6 202.5,135.6 203.0,135.5 203.5,135.5 204.0,135.4 204.5,135.4 205.0,135.4 205.5,135.3 206.0,135.3 208.0,135.1 210.0,134.9 212.0,134.8 214.0,134.6 216.0,134.5 218.0,134.3 220.0,134.1 222.0,134.0 224.0,133.8 226.0,133.6 228.0,133.5 230.0,133.3 232.0,133.2 234.0,133.1 236.0,132.9 238.0,132.8 240.0,132.6 242.0,132.5 244.0,132.4 246.0,132.2 248.0,132.1 250.0,132.0 252.0,131.9 254.0,131.8 256.0,131.7 258.0,131.6 260.0,131.5 262.0,131.4 264.0,131.3 266.0,131.2 268.0,131.1 270.0,131.0 272.0,130.9 274.0,130.9 276.0,130.8 278.0,130.7 280.0,130.7 282.0,130.6 284.0,130.6 286.0,130.5 288.0,130.4 290.0,130.3 292.0,130.2 294.0,130.1 296.0,130.0 298.0,129.9 300.0,129.8 302.0,129.7 304.0,129.6 306.0,129.5 308.0,129.4 310.0,129.4 312.0,129.4 314.0,129.3 316.0,129.3 318.0,129.2 320.0,129.2 322.0,129.1 324.0,129.1 325.5,129.1 325.5,148.3 324.0,148.2 322.0,148.2 320.0,148.1 318.0,148.1 316.0,148.0 314.0,148.0 312.0,147.9 310.0,147.9 308.0,147.8 306.0,147.7 304.0,147.6 302.0,147.5 300.0,147.4 298.0,147.2 296.0,147.1 294.0,147.0 292.0,146.8 290.0,146.7 288.0,146.5 286.0,146.3 284.0,146.0 282.0,145.8 280.0,145.5 278.0,145.2 276.0,145.0 274.0,144.7 272.0,144.5 270.0,144.2 268.0,144.0 266.0,143.9 264.0,143.8 262.0,143.6 260.0,143.5 258.0,143.4 256.0,143.2 254.0,143.1 252.0,142.9 250.0,142.8 248.0,142.6 246.0,142.5 244.0,142.3 242.0,142.1 240.0,142.0 238.0,141.8 236.0,141.6 234.0,141.4 232.0,141.2 230.0,141.0 228.0,140.8 226.0,140.6 224.0,140.4 222.0,140.1 220.0,139.9 218.0,139.6 216.0,139.4 214.0,139.2 212.0,138.9 210.0,138.7 208.0,138.4 206.0,138.2 205.5,138.2 205.0,138.1 204.5,138.1 204.0,138.0 203.5,138.0 203.0,137.9 202.5,137.8 202.0,137.8 201.5,137.7 201.0,137.7 200.5,137.6 200.0,137.6 199.5,137.5 199.0,137.5 198.5,137.4 198.0,137.4 197.5,137.3 197.0,137.3 196.5,137.2 196.0,137.2 195.5,137.1 195.0,137.0 194.5,137.0 194.0,136.9 193.5,136.8 193.0,136.7Z" fill="#00c4ff"/>
<path d="M193.8,136.4 194.0,136.4 194.5,136.3 195.0,136.2 195.5,136.2 196.0,136.1 196.5,136.1 197.0,136.0 197.5,136.0 198.0,136.0 198.5,135.9 199.0,135.9 199.5,135.9 200.0,135.8 200.5,135.8 201.0,135.8 201.5,135.7 202.0,135.7 202.5,135.6 203.0,135.6 203.5,135.6 204.0,135.5 204.5,135.5 205.0,135.4 205.5,135.4 206.0,135.4 208.0,135.2 210.0,135.1 212.0,134.9 214.0,134.7 216.0,134.6 218.0,134.4 220.0,134.3 222.0,134.1 224.0,133.9 226.0,133.8 228.0,133.6 230.0,133.5 232.0,133.4 234.0,133.2 236.0,133.1 238.0,133.0 240.0,132.8 242.0,132.7 244.0,132.6 246.0,132.5 248.0,132.3 250.0,132.2 252.0,132.1 254.0,132.0 256.0,131.9 258.0,131.8 260.0,131.7 262.0,131.6 264.0,131.5 266.0,131.4 268.0,131.3 270.0,131.2 272.0,131.2 274.0,131.1 276.0,131.1 278.0,131.0 280.0,130.9 282.0,130.9 284.0,130.8 286.0,130.7 288.0,130.7 290.0,130.6 292.0,130.5 294.0,130.4 296.0,130.3 298.0,130.2 300.0,130.1 302.0,130.0 304.0,129.9 306.0,129.8 308.0,129.8 310.0,129.7 312.0,129.7 314.0,129.6 316.0,129.6 318.0,129.5 320.0,129.5 322.0,129.5 324.0,129.4 325.5,129.4 325.5,147.8 324.0,147.8 322.0,147.7 320.0,147.7 318.0,147.6 316.0,147.6 314.0,147.5 312.0,147.5 310.0,147.4 308.0,147.4 306.0,147.3 304.0,147.2 302.0,147.1 300.0,146.9 298.0,146.8 296.0,146.7 294.0,146.6 292.0,146.4 290.0,146.3 288.0,146.2 286.0,145.9 284.0,145.7 282.0,145.4 280.0,145.2 278.0,144.9 276.0,144.7 274.0,144.4 272.0,144.2 270.0,143.9 268.0,143.7 266.0,143.6 264.0,143.5 262.0,143.4 260.0,143.2 258.0,143.1 256.0,143.0 254.0,142.8 252.0,142.7 250.0,142.5 248.0,142.4 246.0,142.2 244.0,142.1 242.0,141.9 240.0,141.7 238.0,141.6 236.0,141.4 234.0,141.2 232.0,141.0 230.0,140.9 228.0,140.7 226.0,140.4 224.0,140.2 222.0,140.0 220.0,139.7 218.0,139.5 216.0,139.3 214.0,139.0 212.0,138.8 210.0,138.6 208.0,138.3 206.0,138.1 205.5,138.1 205.0,138.0 204.5,138.0 204.0,137.9 203.5,137.9 203.0,137.8 202.5,137.8 202.0,137.7 201.5,137.7 201.0,137.6 200.5,137.6 200.0,137.5 199.5,137.4 199.0,137.4 198.5,137.3 198.0,137.3 197.5,137.2 197.0,137.2 196.5,137.1 196.0,137.1 195.5,137.0 195.0,136.9 194.5,136.9 194.0,136.8 193.8,136.7Z" fill="#00ebff"/>
<path d="M194.2,136.5 194.5,136.4 195.0,136.3 195.5,136.3 196.0,136.2 196.5,136.2 197.0,136.1 197.5,136.1 198.0,136.0 198.5,136.0 199.0,136.0 199.5,135.9 200.0,135.9 200.5,135.9 201.0,135.8 201.5,135.8 202.0,135.8 202.5,135.7 203.0,135.7 203.5,135.6 204.0,135.6 204.5,135.6 205.0,135.5 205.5,135.5 206.0,135.4 208.0,135.3 210.0,135.2 212.0,135.0 214.0,134.9 216.0,134.7 218.0,134.5 220.0,134.4 222.0,134.2 224.0,134.1 226.0,133.9 228.0,133.8 230.0,133.7 232.0,133.5 234.0,133.4 236.0,133.3 238.0,133.1 240.0,133.0 242.0,132.9 244.0,132.8 246.0,132.7 248.0,132.5 250.0,132.4 252.0,132.3 254.0,132.2 256.0,132.1 258.0,132.0 260.0,131.9 262.0,131.8 264.0,131.7 266.0,131.6 268.0,131.6 270.0,131.5 272.0,131.4 274.0,131.4 276.0,131.3 278.0,131.3 280.0,131.2 282.0,131.1 284.0,131.1 286.0,131.0 288.0,130.9 290.0,130.8 292.0,130.7 294.0,130.6 296.0,130.6 298.0,130.5 300.0,130.4 302.0,130.3 304.0,130.2 306.0,130.1 308.0,130.1 310.0,130.0 312.0,130.0 314.0,129.9 316.0,129.9 318.0,129.9 320.0,129.8 322.0,129.8 324.0,129.7 325.5,129.7 325.5,147.3 324.0,147.3 322.0,147.3 320.0,147.2 318.0,147.2 316.0,147.1 314.0,147.1 312.0,147.0 310.0,147.0 308.0,146.9 306.0,146.9 304.0,146.8 302.0,146.6 300.0,146.5 298.0,146.4 296.0,146.3 294.0,146.2 292.0,146.1 290.0,145.9 288.0,145.8 286.0,145.5 284.0,145.3 282.0,145.1 280.0,144.8 278.0,144.6 276.0,144.4 274.0,144.1 272.0,143.9 270.0,143.7 268.0,143.5 266.0,143.3 264.0,143.2 262.0,143.1 260.0,143.0 258.0,142.9 256.0,142.7 254.0,142.6 252.0,142.4 250.0,142.3 248.0,142.1 246.0,142.0 244.0,141.9 242.0,141.7 240.0,141.5 238.0,141.3 236.0,141.2 234.0,141.0 232.0,140.8 230.0,140.7 228.0,140.5 226.0,140.3 224.0,140.1 222.0,139.8 220.0,139.6 218.0,139.4 216.0,139.1 214.0,138.9 212.0,138.7 210.0,138.5 208.0,138.2 206.0,138.0 205.5,138.0 205.0,137.9 204.5,137.9 204.0,137.8 203.5,137.8 203.0,137.7 202.5,137.7 202.0,137.6 201.5,137.6 201.0,137.5 200.5,137.5 200.0,137.4 199.5,137.4 199.0,137.3 198.5,137.3 198.0,137.2 197.5,137.2 197.0,137.1 196.5,137.1 196.0,137.0 195.5,136.9 195.0,136.8 194.5,136.7 194.2,136.7Z" fill="#00ffeb"/>
<path d="M194.8,136.5 195.0,136.4 195.5,136.3 196.0,136.3 196.5,136.2 197.0,136.2 197.5,136.2 198.0,136.1 198.5,136.1 199.0,136.0 199.5,136.0 200.0,136.0 200.5,135.9 201.0,135.9 201.5,135.9 202.0,135.8 202.5,135.8 203.0,135.8 203.5,135.7 204.0,135.7 204.5,135.6 205.0,135.6 205.5,135.6 206.0,135.5 208.0,135.4 210.0,135.3 212.0,135.1 214.0,135.0 216.0,134.8 218.0,134.7 220.0,134.5 222.0,134.4 224.0,134.2 226.0,134.1 228.0,133.9 230.0,133.8 232.0,133.7 234.0,133.6 236.0,133.5 238.0,133.3 240.0,133.2 242.0,133.1 244.0,133.0 246.0,132.8 248.0,132.7 250.0,132.6 252.0,132.5 254.0,132.4 256.0,132.3 258.0,132.2 260.0,132.1 262.0,132.0 264.0,131.9 266.0,131.9 268.0,131.8 270.0,131.7 272.0,131.7 274.0,131.6 276.0,131.6 278.0,131.5 280.0,131.4 282.0,131.4 284.0,131.3 286.0,131.2 288.0,131.2 290.0,131.1 292.0,131.0 294.0,130.9 296.0,130.8 298.0,130.7 300.0,130.7 302.0,130.6 304.0,130.5 306.0,130.4 308.0,130.4 310.0,130.3 312.0,130.3 314.0,130.2 316.0,130.2 318.0,130.2 320.0,130.1 322.0,130.1 324.0,130.0 325.5,130.0 325.5,146.9 324.0,146.8 322.0,146.8 320.0,146.7 318.0,146.7 316.0,146.7 314.0,146.6 312.0,146.6 310.0,146.5 308.0,146.5 306.0,146.4 304.0,146.3 302.0,146.2 300.0,146.1 298.0,146.0 296.0,145.9 294.0,145.8 292.0,145.7 290.0,145.6 288.0,145.4 286.0,145.2 284.0,145.0 282.0,144.7 280.0,144.5 278.0,144.3 276.0,144.0 274.0,143.8 272.0,143.6 270.0,143.4 268.0,143.2 266.0,143.1 264.0,143.0 262.0,142.9 260.0,142.7 258.0,142.6 256.0,142.5 254.0,142.3 252.0,142.2 250.0,142.1 248.0,141.9 246.0,141.8 244.0,141.6 242.0,141.5 240.0,141.3 238.0,141.1 236.0,141.0 234.0,140.8 232.0,140.6 230.0,140.5 228.0,140.3 226.0,140.1 224.0,139.9 222.0,139.7 220.0,139.5 218.0,139.2 216.0,139.0 214.0,138.8 212.0,138.6 210.0,138.4 208.0,138.1 206.0,138.0 205.5,137.9 205.0,137.9 204.5,137.8 204.0,137.8 203.5,137.7 203.0,137.7 202.5,137.6 202.0,137.6 201.5,137.5 201.0,137.5 200.5,137.4 200.0,137.4 199.5,137.3 199.0,137.2 198.5,137.2 198.0,137.1 197.5,137.1 197.0,137.0 196.5,137.0 196.0,136.9 195.5,136.8 195.0,136.7 194.8,136.6Z" fill="#00ffc4"/>
<path d="M195.5,136.5 196.0,136.4 196.5,136.3 197.0,136.3 197.5,136.2 198.0,136.2 198.5,136.2 199.0,136.1 199.5,136.1 200.0,136.0 200.5,136.0 201.0,136.0 201.5,135.9 202.0,135.9 202.5,135.9 203.0,135.8 203.5,135.8 204.0,135.8 204.5,135.7 205.0,135.7 205.5,135.6 206.0,135.6 208.0,135.5 210.0,135.4 212.0,135.2 214.0,135.1 216.0,134.9 218.0,134.8 220.0,134.7 222.0,134.5 224.0,134.4 226.0,134.2 228.0,134.1 230.0,134.0 232.0,133.9 234.0,133.8 236.0,133.6 238.0,133.5 240.0,133.4 242.0,133.3 244.0,133.1 246.0,133.0 248.0,132.9 250.0,132.8 252.0,132.7 254.0,132.6 256.0,132.5 258.0,132.4 260.0,132.3 262.0,132.2 264.0,132.2 266.0,132.1 268.0,132.0 270.0,132.0 272.0,131.9 274.0,131.9 276.0,131.8 278.0,131.7 280.0,131.7 282.0,131.6 284.0,131.6 286.0,131.5 288.0,131.4 290.0,131.4 292.0,131.3 294.0,131.2 296.0,131.1 298.0,131.0 300.0,130.9 302.0,130.9 304.0,130.8 306.0,130.7 308.0,130.7 310.0,130.6 312.0,130.6 314.0,130.6 316.0,130.5 318.0,130.5 320.0,130.4 322.0,130.4 324.0,130.4 325.5,130.3 325.5,146.4 324.0,146.4 322.0,146.3 320.0,146.3 318.0,146.2 316.0,146.2 314.0,146.2 312.0,146.1 310.0,146.1 308.0,146.0 306.0,146.0 304.0,145.9 302.0,145.8 300.0,145.7 298.0,145.6 296.0,145.5 294.0,145.4 292.0,145.3 290.0,145.2 288.0,145.1 286.0,144.8 284.0,144.6 282.0,144.4 280.0,144.2 278.0,143.9 276.0,143.7 274.0,143.5 272.0,143.3 270.0,143.1 268.0,142.9 266.0,142.8 264.0,142.7 262.0,142.6 260.0,142.5 258.0,142.4 256.0,142.2 254.0,142.1 252.0,142.0 250.0,141.8 248.0,141.7 246.0,141.6 244.0,141.4 242.0,141.3 240.0,141.1 238.0,140.9 236.0,140.8 234.0,140.6 232.0,140.5 230.0,140.3 228.0,140.2 226.0,140.0 224.0,139.8 222.0,139.5 220.0,139.3 218.0,139.1 216.0,138.9 214.0,138.7 212.0,138.5 210.0,138.2 208.0,138.1 206.0,137.9 205.5,137.8 205.0,137.8 204.5,137.7 204.0,137.7 203.5,137.6 203.0,137.6 202.5,137.5 202.0,137.5 201.5,137.4 201.0,137.4 200.5,137.3 200.0,137.3 199.5,137.2 199.0,137.2 198.5,137.1 198.0,137.1 197.5,137.0 197.0,137.0 196.5,136.9 196.0,136.8 195.5,136.7Z" fill="#00ff9d"/>
<path d="M196.0,136.5 196.5,136.4 197.0,136.4 197.5,136.3 198.0,136.3 198.5,136.2 199.0,136.2 199.5,136.2 200.0,136.1 200.5,136.1 201.0,136.0 201.5,136.0 202.0,136.0 202.5,135.9 203.0,135.9 203.5,135.9 204.0,135.8 204.5,135.8 205.0,135.8 205.5,135.7 206.0,135.7 208.0,135.6 210.0,135.5 212.0,135.3 214.0,135.2 216.0,135.1 218.0,134.9 220.0,134.8 222.0,134.6 224.0,134.5 226.0,134.4 228.0,134.2 230.0,134.1 232.0,134.0 234.0,133.9 236.0,133.8 238.0,133.7 240.0,133.6 242.0,133.5 244.0,133.3 246.0,133.2 248.0,133.1 250.0,133.0 252.0,132.9 254.0,132.8 256.0,132.7 258.0,132.6 260.0,132.5 262.0,132.4 264.0,132.4 266.0,132.3 268.0,132.3 270.0,132.2 272.0,132.2 274.0,132.1 276.0,132.0 278.0,132.0 280.0,131.9 282.0,131.9 284.0,131.8 286.0,131.7 288.0,131.7 290.0,131.6 292.0,131.5 294.0,131.4 296.0,131.4 298.0,131.3 300.0,131.2 302.0,131.2 304.0,131.1 306.0,131.0 308.0,131.0 310.0,130.9 312.0,130.9 314.0,130.9 316.0,130.8 318.0,130.8 320.0,130.8 322.0,130.7 324.0,130.7 325.5,130.6 325.5,145.9 324.0,145.9 322.0,145.9 320.0,145.8 318.0,145.8 316.0,145.7 314.0,145.7 312.0,145.7 310.0,145.6 308.0,145.6 306.0,145.6 304.0,145.5 302.0,145.4 300.0,145.3 298.0,145.2 296.0,145.1 294.0,145.0 292.0,144.9 290.0,144.8 288.0,144.7 286.0,144.5 284.0,144.3 282.0,144.0 280.0,143.8 278.0,143.6 276.0,143.4 274.0,143.2 272.0,143.0 270.0,142.8 268.0,142.6 266.0,142.5 264.0,142.4 262.0,142.4 260.0,142.3 258.0,142.1 256.0,142.0 254.0,141.9 252.0,141.7 250.0,141.6 248.0,141.5 246.0,141.3 244.0,141.2 242.0,141.0 240.0,140.9 238.0,140.7 236.0,140.6 234.0,140.4 232.0,140.3 230.0,140.1 228.0,140.0 226.0,139.8 224.0,139.6 222.0,139.4 220.0,139.2 218.0,139.0 216.0,138.8 214.0,138.5 212.0,138.3 210.0,138.1 208.0,138.0 206.0,137.8 205.5,137.7 205.0,137.7 204.5,137.6 204.0,137.6 203.5,137.5 203.0,137.5 202.5,137.4 202.0,137.4 201.5,137.3 201.0,137.3 200.5,137.3 200.0,137.2 199.5,137.1 199.0,137.1 198.5,137.0 198.0,137.0 197.5,136.9 197.0,136.9 196.5,136.8 196.0,136.7Z" fill="#00ff76"/>
<path d="M196.8,136.5 197.0,136.5 197.5,136.4 198.0,136.4 198.5,136.3 199.0,136.3 199.5,136.2 200.0,136.2 200.5,136.2 201.0,136.1 201.5,136.1 202.0,136.1 202.5,136.0 203.0,136.0 203.5,136.0 204.0,135.9 204.5,135.9 205.0,135.8 205.5,135.8 206.0,135.8 208.0,135.7 210.0,135.6 212.0,135.4 214.0,135.3 216.0,135.2 218.0,135.0 220.0,134.9 222.0,134.8 224.0,134.6 226.0,134.5 228.0,134.4 230.0,134.3 232.0,134.2 234.0,134.1 236.0,134.0 238.0,133.9 240.0,133.7 242.0,133.6 244.0,133.5 246.0,133.4 248.0,133.3 250.0,133.2 252.0,133.1 254.0,133.0 256.0,132.9 258.0,132.8 260.0,132.7 262.0,132.7 264.0,132.6 266.0,132.6 268.0,132.5 270.0,132.4 272.0,132.4 274.0,132.4 276.0,132.3 278.0,132.2 280.0,132.2 282.0,132.1 284.0,132.1 286.0,132.0 288.0,131.9 290.0,131.9 292.0,131.8 294.0,131.7 296.0,131.7 298.0,131.6 300.0,131.5 302.0,131.5 304.0,131.4 306.0,131.3 308.0,131.3 310.0,131.2 312.0,131.2 314.0,131.2 316.0,131.1 318.0,131.1 320.0,131.1 322.0,131.0 324.0,131.0 325.5,131.0 325.5,145.5 324.0,145.4 322.0,145.4 320.0,145.4 318.0,145.3 316.0,145.3 314.0,145.3 312.0,145.2 310.0,145.2 308.0,145.2 306.0,145.1 304.0,145.1 302.0,145.0 300.0,144.9 298.0,144.8 296.0,144.7 294.0,144.6 292.0,144.5 290.0,144.4 288.0,144.3 286.0,144.1 284.0,143.9 282.0,143.7 280.0,143.5 278.0,143.3 276.0,143.1 274.0,142.9 272.0,142.7 270.0,142.5 268.0,142.3 266.0,142.2 264.0,142.2 262.0,142.1 260.0,142.0 258.0,141.9 256.0,141.8 254.0,141.6 252.0,141.5 250.0,141.4 248.0,141.3 246.0,141.1 244.0,141.0 242.0,140.8 240.0,140.7 238.0,140.5 236.0,140.4 234.0,140.2 232.0,140.1 230.0,140.0 228.0,139.8 226.0,139.6 224.0,139.5 222.0,139.2 220.0,139.0 218.0,138.8 216.0,138.6 214.0,138.4 212.0,138.2 210.0,138.0 208.0,137.9 206.0,137.7 205.5,137.6 205.0,137.6 204.5,137.6 204.0,137.5 203.5,137.5 203.0,137.4 202.5,137.4 202.0,137.3 201.5,137.3 201.0,137.2 200.5,137.2 200.0,137.1 199.5,137.1 199.0,137.0 198.5,136.9 198.0,136.9 197.5,136.8 197.0,136.7 196.8,136.7Z" fill="#00ff4e"/>
<path d="M197.8,136.5 198.0,136.5 198.5,136.4 199.0,136.4 199.5,136.3 200.0,136.3 200.5,136.2 201.0,136.2 201.5,136.2 202.0,136.1 202.5,136.1 203.0,136.1 203.5,136.0 204.0,136.0 204.5,136.0 205.0,135.9 205.5,135.9 206.0,135.9 208.0,135.8 210.0,135.7 212.0,135.5 214.0,135.4 216.0,135.3 218.0,135.2 220.0,135.0 222.0,134.9 224.0,134.8 226.0,134.7 228.0,134.5 230.0,134.4 232.0,134.4 234.0,134.3 236.0,134.1 238.0,134.0 240.0,133.9 242.0,133.8 244.0,133.7 246.0,133.6 248.0,133.5 250.0,133.4 252.0,133.3 254.0,133.2 256.0,133.1 258.0,133.0 260.0,132.9 262.0,132.9 264.0,132.8 266.0,132.8 268.0,132.7 270.0,132.7 272.0,132.7 274.0,132.6 276.0,132.5 278.0,132.5 280.0,132.4 282.0,132.4 284.0,132.3 286.0,132.3 288.0,132.2 290.0,132.1 292.0,132.1 294.0,132.0 296.0,131.9 298.0,131.9 300.0,131.8 302.0,131.8 304.0,131.7 306.0,131.6 308.0,131.6 310.0,131.6 312.0,131.5 314.0,131.5 316.0,131.5 318.0,131.4 320.0,131.4 322.0,131.4 324.0,131.3 325.5,131.3 325.5,145.0 324.0,144.9 322.0,144.9 320.0,144.9 318.0,144.8 316.0,144.8 314.0,144.8 312.0,144.8 310.0,144.7 308.0,144.7 306.0,144.7 304.0,144.6 302.0,144.5 300.0,144.4 298.0,144.4 296.0,144.3 294.0,144.2 292.0,144.2 290.0,144.1 288.0,143.9 286.0,143.7 284.0,143.6 282.0,143.3 280.0,143.1 278.0,142.9 276.0,142.8 274.0,142.6 272.0,142.4 270.0,142.2 268.0,142.1 266.0,142.0 264.0,141.9 262.0,141.9 260.0,141.8 258.0,141.7 256.0,141.5 254.0,141.4 252.0,141.3 250.0,141.2 248.0,141.0 246.0,140.9 244.0,140.8 242.0,140.6 240.0,140.5 238.0,140.3 236.0,140.2 234.0,140.1 232.0,139.9 230.0,139.8 228.0,139.7 226.0,139.5 224.0,139.3 222.0,139.1 220.0,138.9 218.0,138.7 216.0,138.5 214.0,138.3 212.0,138.1 210.0,137.9 208.0,137.8 206.0,137.6 205.5,137.6 205.0,137.5 204.5,137.5 204.0,137.4 203.5,137.4 203.0,137.3 202.5,137.3 202.0,137.2 201.5,137.2 201.0,137.1 200.5,137.1 200.0,137.0 199.5,137.0 199.0,136.9 198.5,136.8 198.0,136.8 197.8,136.7Z" fill="#00ff27"/>
<path d="M198.8,136.5 199.0,136.5 199.5,136.4 200.0,136.4 200.5,136.3 201.0,136.3 201.5,136.3 202.0,136.2 202.5,136.2 203.0,136.2 203.5,136.1 204.0,136.1 204.5,136.1 205.0,136.0 205.5,136.0 206.0,136.0 208.0,135.9 210.0,135.8 212.0,135.6 214.0,135.5 216.0,135.4 218.0,135.3 220.0,135.2 222.0,135.0 224.0,134.9 226.0,134.8 228.0,134.7 230.0,134.6 232.0,134.5 234.0,134.4 236.0,134.3 238.0,134.2 240.0,134.1 242.0,134.0 244.0,133.9 246.0,133.8 248.0,133.7 250.0,133.6 252.0,133.5 254.0,133.4 256.0,133.3 258.0,133.2 260.0,133.1 262.0,133.1 264.0,133.1 266.0,133.0 268.0,133.0 270.0,132.9 272.0,132.9 274.0,132.9 276.0,132.8 278.0,132.8 280.0,132.7 282.0,132.6 284.0,132.6 286.0,132.5 288.0,132.5 290.0,132.4 292.0,132.3 294.0,132.3 296.0,132.2 298.0,132.2 300.0,132.1 302.0,132.1 304.0,132.0 306.0,132.0 308.0,131.9 310.0,131.9 312.0,131.9 314.0,131.8 316.0,131.8 318.0,131.8 320.0,131.7 322.0,131.7 324.0,131.7 325.5,131.6 325.5,144.5 324.0,144.4 322.0,144.4 320.0,144.4 318.0,144.4 316.0,144.3 314.0,144.3 312.0,144.3 310.0,144.3 308.0,144.2 306.0,144.2 304.0,144.1 302.0,144.1 300.0,144.0 298.0,143.9 296.0,143.9 294.0,143.8 292.0,143.8 290.0,143.7 288.0,143.6 286.0,143.4 284.0,143.2 282.0,143.0 280.0,142.8 278.0,142.6 276.0,142.4 274.0,142.2 272.0,142.1 270.0,141.9 268.0,141.8 266.0,141.7 264.0,141.6 262.0,141.6 260.0,141.5 258.0,141.4 256.0,141.3 254.0,141.2 252.0,141.1 250.0,140.9 248.0,140.8 246.0,140.7 244.0,140.6 242.0,140.4 240.0,140.3 238.0,140.2 236.0,140.0 234.0,139.9 232.0,139.7 230.0,139.6 228.0,139.5 226.0,139.3 224.0,139.2 222.0,139.0 220.0,138.8 218.0,138.6 216.0,138.4 214.0,138.2 212.0,138.0 210.0,137.8 208.0,137.7 206.0,137.5 205.5,137.5 205.0,137.4 204.5,137.4 204.0,137.3 203.5,137.3 203.0,137.2 202.5,137.2 202.0,137.1 201.5,137.1 201.0,137.0 200.5,137.0 200.0,136.9 199.5,136.8 199.0,136.8 198.8,136.7Z" fill="#00ff00"/>
<path d="M199.8,136.5 200.0,136.5 200.5,136.4 201.0,136.4 201.5,136.4 202.0,136.3 202.5,136.3 203.0,136.3 203.5,136.2 204.0,136.2 204.5,136.1 205.0,136.1 205.5,136.1 206.0,136.1 208.0,136.0 210.0,135.9 212.0,135.8 214.0,135.6 216.0,135.5 218.0,135.4 220.0,135.3 222.0,135.2 224.0,135.0 226.0,134.9 228.0,134.8 230.0,134.8 232.0,134.7 234.0,134.6 236.0,134.5 238.0,134.4 240.0,134.3 242.0,134.2 244.0,134.1 246.0,134.0 248.0,133.9 250.0,133.8 252.0,133.7 254.0,133.6 256.0,133.5 258.0,133.4 260.0,133.4 262.0,133.3 264.0,133.3 266.0,133.3 268.0,133.2 270.0,133.2 272.0,133.2 274.0,133.1 276.0,133.1 278.0,133.0 280.0,133.0 282.0,132.9 284.0,132.8 286.0,132.8 288.0,132.7 290.0,132.7 292.0,132.6 294.0,132.6 296.0,132.5 298.0,132.5 300.0,132.4 302.0,132.4 304.0,132.3 306.0,132.3 308.0,132.3 310.0,132.2 312.0,132.2 314.0,132.2 316.0,132.1 318.0,132.1 320.0,132.1 322.0,132.1 324.0,132.0 325.5,132.0 325.5,143.9 324.0,143.9 322.0,143.9 320.0,143.9 318.0,143.8 316.0,143.8 314.0,143.8 312.0,143.8 310.0,143.8 308.0,143.8 306.0,143.7 304.0,143.7 302.0,143.6 300.0,143.5 298.0,143.5 296.0,143.5 294.0,143.4 292.0,143.3 290.0,143.3 288.0,143.2 286.0,143.0 284.0,142.8 282.0,142.6 280.0,142.4 278.0,142.2 276.0,142.1 274.0,141.9 272.0,141.7 270.0,141.6 268.0,141.5 266.0,141.4 264.0,141.4 262.0,141.3 260.0,141.3 258.0,141.2 256.0,141.1 254.0,140.9 252.0,140.8 250.0,140.7 248.0,140.6 246.0,140.5 244.0,140.3 242.0,140.2 240.0,140.1 238.0,139.9 236.0,139.8 234.0,139.7 232.0,139.6 230.0,139.5 228.0,139.3 226.0,139.2 224.0,139.0 222.0,138.8 220.0,138.6 218.0,138.4 216.0,138.3 214.0,138.1 212.0,137.9 210.0,137.7 208.0,137.6 206.0,137.4 205.5,137.4 205.0,137.3 204.5,137.3 204.0,137.2 203.5,137.2 203.0,137.1 202.5,137.1 202.0,137.0 201.5,137.0 201.0,136.9 200.5,136.9 200.0,136.8 199.8,136.7Z" fill="#27ff00"/>
<path d="M200.8,136.6 201.0,136.5 201.5,136.5 202.0,136.4 202.5,136.4 203.0,136.4 203.5,136.3 204.0,136.3 204.5,136.3 205.0,136.2 205.5,136.2 206.0,136.2 208.0,136.1 210.0,136.0 212.0,135.9 214.0,135.8 216.0,135.6 218.0,135.5 220.0,135.4 222.0,135.3 224.0,135.2 226.0,135.1 228.0,135.0 230.0,134.9 232.0,134.9 234.0,134.8 236.0,134.7 238.0,134.6 240.0,134.5 242.0,134.4 244.0,134.3 246.0,134.2 248.0,134.1 250.0,134.0 252.0,133.9 254.0,133.8 256.0,133.7 258.0,133.6 260.0,133.6 262.0,133.5 264.0,133.5 266.0,133.5 268.0,133.5 270.0,133.5 272.0,133.4 274.0,133.4 276.0,133.4 278.0,133.3 280.0,133.3 282.0,133.2 284.0,133.1 286.0,133.1 288.0,133.0 290.0,133.0 292.0,132.9 294.0,132.9 296.0,132.8 298.0,132.8 300.0,132.8 302.0,132.7 304.0,132.7 306.0,132.6 308.0,132.6 310.0,132.6 312.0,132.6 314.0,132.5 316.0,132.5 318.0,132.5 320.0,132.5 322.0,132.4 324.0,132.4 325.5,132.4 325.5,143.4 324.0,143.4 322.0,143.3 320.0,143.3 318.0,143.3 316.0,143.3 314.0,143.3 312.0,143.3 310.0,143.2 308.0,143.2 306.0,143.2 304.0,143.2 302.0,143.1 300.0,143.1 298.0,143.0 296.0,143.0 294.0,143.0 292.0,142.9 290.0,142.8 288.0,142.7 286.0,142.6 284.0,142.4 282.0,142.2 280.0,142.0 278.0,141.9 276.0,141.7 274.0,141.6 272.0,141.4 270.0,141.3 268.0,141.1 266.0,141.1 264.0,141.1 262.0,141.1 260.0,141.0 258.0,140.9 256.0,140.8 254.0,140.7 252.0,140.6 250.0,140.5 248.0,140.4 246.0,140.2 244.0,140.1 242.0,140.0 240.0,139.9 238.0,139.7 236.0,139.6 234.0,139.5 232.0,139.4 230.0,139.3 228.0,139.2 226.0,139.0 224.0,138.9 222.0,138.7 220.0,138.5 218.0,138.3 216.0,138.1 214.0,137.9 212.0,137.8 210.0,137.6 208.0,137.4 206.0,137.3 205.5,137.3 205.0,137.2 204.5,137.2 204.0,137.1 203.5,137.1 203.0,137.0 202.5,137.0 202.0,136.9 201.5,136.8 201.0,136.8 200.8,136.7Z" fill="#4eff00"/>
<path d="M202.2,136.6 202.5,136.6 203.0,136.5 203.5,136.5 204.0,136.4 204.5,136.4 205.0,136.3 205.5,136.3 206.0,136.3 208.0,136.2 210.0,136.1 212.0,136.0 214.0,135.9 216.0,135.8 218.0,135.7 220.0,135.6 222.0,135.4 224.0,135.3 226.0,135.2 228.0,135.2 230.0,135.1 232.0,135.0 234.0,135.0 236.0,134.9 238.0,134.8 240.0,134.7 242.0,134.6 244.0,134.5 246.0,134.4 248.0,134.3 250.0,134.2 252.0,134.1 254.0,134.0 256.0,133.9 258.0,133.9 260.0,133.8 262.0,133.8 264.0,133.8 266.0,133.8 268.0,133.8 270.0,133.8 272.0,133.7 274.0,133.7 276.0,133.6 278.0,133.6 280.0,133.6 282.0,133.5 284.0,133.4 286.0,133.4 288.0,133.3 290.0,133.3 292.0,133.2 294.0,133.2 296.0,133.2 298.0,133.2 300.0,133.1 302.0,133.1 304.0,133.1 306.0,133.0 308.0,133.0 310.0,133.0 312.0,133.0 314.0,132.9 316.0,132.9 318.0,132.9 320.0,132.9 322.0,132.8 324.0,132.8 325.5,132.8 325.5,142.8 324.0,142.8 322.0,142.7 320.0,142.7 318.0,142.7 316.0,142.7 314.0,142.7 312.0,142.7 310.0,142.7 308.0,142.7 306.0,142.7 304.0,142.6 302.0,142.6 300.0,142.6 298.0,142.5 296.0,142.5 294.0,142.5 292.0,142.5 290.0,142.4 288.0,142.3 286.0,142.2 284.0,142.0 282.0,141.8 280.0,141.6 278.0,141.5 276.0,141.3 274.0,141.2 272.0,141.0 270.0,140.9 268.0,140.8 266.0,140.8 264.0,140.8 262.0,140.8 260.0,140.7 258.0,140.7 256.0,140.6 254.0,140.5 252.0,140.3 250.0,140.2 248.0,140.1 246.0,140.0 244.0,139.9 242.0,139.8 240.0,139.7 238.0,139.5 236.0,139.4 234.0,139.3 232.0,139.2 230.0,139.1 228.0,139.0 226.0,138.9 224.0,138.7 222.0,138.5 220.0,138.3 218.0,138.2 216.0,138.0 214.0,137.8 212.0,137.6 210.0,137.5 208.0,137.3 206.0,137.2 205.5,137.1 205.0,137.1 204.5,137.0 204.0,137.0 203.5,136.9 203.0,136.8 202.5,136.8 202.2,136.7Z" fill="#76ff00"/>
<path d="M204.0,136.6 204.5,136.5 205.0,136.5 205.5,136.4 206.0,136.4 208.0,136.3 210.0,136.2 212.0,136.1 214.0,136.0 216.0,135.9 218.0,135.8 220.0,135.7 222.0,135.6 224.0,135.5 226.0,135.4 228.0,135.3 230.0,135.3 232.0,135.2 234.0,135.1 236.0,135.0 238.0,134.9 240.0,134.9 242.0,134.8 244.0,134.7 246.0,134.6 248.0,134.5 250.0,134.4 252.0,134.3 254.0,134.3 256.0,134.2 258.0,134.1 260.0,134.0 262.0,134.0 264.0,134.1 266.0,134.1 268.0,134.1 270.0,134.1 272.0,134.0 274.0,134.0 276.0,134.0 278.0,133.9 280.0,133.9 282.0,133.8 284.0,133.7 286.0,133.7 288.0,133.7 290.0,133.6 292.0,133.6 294.0,133.5 296.0,133.5 298.0,133.5 300.0,133.5 302.0,133.5 304.0,133.5 306.0,133.4 308.0,133.4 310.0,133.4 312.0,133.4 314.0,133.4 316.0,133.3 318.0,133.3 320.0,133.3 322.0,133.3 324.0,133.2 325.5,133.2 325.5,142.1 324.0,142.1 322.0,142.1 320.0,142.1 318.0,142.1 316.0,142.1 314.0,142.1 312.0,142.1 310.0,142.1 308.0,142.1 306.0,142.1 304.0,142.0 302.0,142.0 300.0,142.0 298.0,142.0 296.0,142.0 294.0,142.0 292.0,142.0 290.0,141.9 288.0,141.8 286.0,141.7 284.0,141.6 282.0,141.4 280.0,141.2 278.0,141.1 276.0,140.9 274.0,140.8 272.0,140.7 270.0,140.5 268.0,140.5 266.0,140.4 264.0,140.5 262.0,140.5 260.0,140.5 258.0,140.4 256.0,140.3 254.0,140.2 252.0,140.1 250.0,140.0 248.0,139.9 246.0,139.8 244.0,139.7 242.0,139.5 240.0,139.4 238.0,139.3 236.0,139.2 234.0,139.1 232.0,139.0 230.0,138.9 228.0,138.8 226.0,138.7 224.0,138.5 222.0,138.4 220.0,138.2 218.0,138.0 216.0,137.8 214.0,137.7 212.0,137.5 210.0,137.3 208.0,137.2 206.0,137.0 205.5,137.0 205.0,136.9 204.5,136.9 204.0,136.8Z" fill="#9dff00"/>
<path d="M205.8,136.7 206.0,136.6 208.0,136.5 210.0,136.4 212.0,136.3 214.0,136.2 216.0,136.1 218.0,136.0 220.0,135.9 222.0,135.7 224.0,135.6 226.0,135.6 228.0,135.5 230.0,135.4 232.0,135.4 234.0,135.3 236.0,135.2 238.0,135.1 240.0,135.1 242.0,135.0 244.0,134.9 246.0,134.8 248.0,134.7 250.0,134.6 252.0,134.6 254.0,134.5 256.0,134.4 258.0,134.3 260.0,134.3 262.0,134.3 264.0,134.3 266.0,134.4 268.0,134.4 270.0,134.4 272.0,134.4 274.0,134.4 276.0,134.3 278.0,134.3 280.0,134.2 282.0,134.2 284.0,134.1 286.0,134.1 288.0,134.0 290.0,134.0 292.0,133.9 294.0,133.9 296.0,133.9 298.0,133.9 300.0,134.0 302.0,134.0 304.0,133.9 306.0,133.9 308.0,133.9 310.0,133.9 312.0,133.9 314.0,133.9 316.0,133.8 318.0,133.8 320.0,133.8 322.0,133.8 324.0,133.8 325.5,133.7 325.5,141.3 324.0,141.3 322.0,141.3 320.0,141.3 318.0,141.4 316.0,141.4 314.0,141.4 312.0,141.4 310.0,141.4 308.0,141.4 306.0,141.4 304.0,141.4 302.0,141.4 300.0,141.4 298.0,141.4 296.0,141.4 294.0,141.5 292.0,141.4 290.0,141.4 288.0,141.3 286.0,141.2 284.0,141.1 282.0,140.9 280.0,140.7 278.0,140.6 276.0,140.5 274.0,140.4 272.0,140.2 270.0,140.1 268.0,140.1 266.0,140.0 264.0,140.1 262.0,140.2 260.0,140.2 258.0,140.1 256.0,140.0 254.0,139.9 252.0,139.8 250.0,139.7 248.0,139.6 246.0,139.5 244.0,139.4 242.0,139.3 240.0,139.2 238.0,139.1 236.0,139.0 234.0,138.9 232.0,138.8 230.0,138.7 228.0,138.6 226.0,138.5 224.0,138.4 222.0,138.2 220.0,138.0 218.0,137.8 216.0,137.7 214.0,137.5 212.0,137.3 210.0,137.1 208.0,137.0 206.0,136.8 205.8,136.8Z" fill="#c4ff00"/>
<path d="M209.8,136.7 210.0,136.7 212.0,136.5 214.0,136.4 216.0,136.2 218.0,136.1 220.0,136.0 222.0,135.9 224.0,135.8 226.0,135.7 228.0,135.7 230.0,135.6 232.0,135.6 234.0,135.5 236.0,135.4 238.0,135.4 240.0,135.3 242.0,135.2 244.0,135.1 246.0,135.0 248.0,135.0 250.0,134.9 252.0,134.8 254.0,134.7 256.0,134.7 258.0,134.6 260.0,134.6 262.0,134.6 264.0,134.7 266.0,134.8 268.0,134.8 270.0,134.8 272.0,134.8 274.0,134.7 276.0,134.7 278.0,134.7 280.0,134.6 282.0,134.6 284.0,134.5 286.0,134.5 288.0,134.4 290.0,134.4 292.0,134.4 294.0,134.3 296.0,134.4 298.0,134.4 300.0,134.5 302.0,134.5 304.0,134.5 306.0,134.5 308.0,134.5 310.0,134.5 312.0,134.5 314.0,134.5 316.0,134.4 318.0,134.4 320.0,134.4 322.0,134.4 324.0,134.4 325.5,134.4 325.5,140.4 324.0,140.4 322.0,140.4 320.0,140.4 318.0,140.5 316.0,140.5 314.0,140.5 312.0,140.5 310.0,140.5 308.0,140.6 306.0,140.6 304.0,140.6 302.0,140.6 300.0,140.6 298.0,140.7 296.0,140.8 294.0,140.8 292.0,140.8 290.0,140.8 288.0,140.7 286.0,140.6 284.0,140.5 282.0,140.3 280.0,140.2 278.0,140.1 276.0,140.0 274.0,139.8 272.0,139.7 270.0,139.7 268.0,139.6 266.0,139.6 264.0,139.8 262.0,139.9 260.0,139.9 258.0,139.8 256.0,139.7 254.0,139.6 252.0,139.5 250.0,139.5 248.0,139.4 246.0,139.3 244.0,139.1 242.0,139.0 240.0,139.0 238.0,138.9 236.0,138.7 234.0,138.6 232.0,138.6 230.0,138.5 228.0,138.4 226.0,138.3 224.0,138.2 222.0,138.0 220.0,137.8 218.0,137.7 216.0,137.5 214.0,137.3 212.0,137.1 210.0,136.9 209.8,136.8Z" fill="#ebff00"/>
<path d="M213.2,136.8 214.0,136.6 216.0,136.5 218.0,136.3 220.0,136.2 222.0,136.1 224.0,136.0 226.0,135.9 228.0,135.9 230.0,135.8 232.0,135.8 234.0,135.8 236.0,135.7 238.0,135.6 240.0,135.5 242.0,135.4 244.0,135.4 246.0,135.3 248.0,135.2 250.0,135.1 252.0,135.1 254.0,135.0 256.0,134.9 258.0,134.9 260.0,134.9 262.0,134.9 264.0,135.0 266.0,135.2 268.0,135.2 270.0,135.3 272.0,135.3 274.0,135.2 276.0,135.2 278.0,135.2 280.0,135.1 282.0,135.1 284.0,135.0 286.0,134.9 288.0,134.9 290.0,134.9 292.0,134.9 294.0,134.9 296.0,135.0 298.0,135.1 300.0,135.2 302.0,135.2 304.0,135.3 306.0,135.3 308.0,135.3 310.0,135.3 312.0,135.3 314.0,135.3 316.0,135.3 318.0,135.3 320.0,135.3 322.0,135.3 324.0,135.3 325.5,135.3 325.5,139.0 324.0,139.1 322.0,139.1 320.0,139.1 318.0,139.2 316.0,139.2 314.0,139.2 312.0,139.3 310.0,139.3 308.0,139.4 306.0,139.5 304.0,139.5 302.0,139.5 300.0,139.7 298.0,139.8 296.0,139.9 294.0,140.1 292.0,140.1 290.0,140.1 288.0,140.0 286.0,139.9 284.0,139.8 282.0,139.7 280.0,139.5 278.0,139.4 276.0,139.3 274.0,139.2 272.0,139.1 270.0,139.1 268.0,139.1 266.0,139.1 264.0,139.3 262.0,139.5 260.0,139.5 258.0,139.5 256.0,139.4 254.0,139.3 252.0,139.2 250.0,139.2 248.0,139.1 246.0,139.0 244.0,138.9 242.0,138.8 240.0,138.7 238.0,138.6 236.0,138.5 234.0,138.4 232.0,138.3 230.0,138.3 228.0,138.2 226.0,138.1 224.0,138.0 222.0,137.8 220.0,137.6 218.0,137.4 216.0,137.3 214.0,137.0 213.2,136.9Z" fill="#ffeb00"/>
<path d="M216.8,136.8 218.0,136.6 220.0,136.4 222.0,136.3 224.0,136.2 226.0,136.1 228.0,136.1 230.0,136.1 232.0,136.1 234.0,136.0 236.0,135.9 238.0,135.9 240.0,135.8 242.0,135.7 244.0,135.6 246.0,135.6 248.0,135.5 250.0,135.4 252.0,135.4 254.0,135.3 256.0,135.2 258.0,135.2 260.0,135.2 262.0,135.2 264.0,135.5 266.0,135.8 268.0,135.8 270.0,135.9 272.0,136.0 274.0,136.0 276.0,136.0 278.0,135.9 280.0,135.9 282.0,135.8 284.0,135.7 286.0,135.6 288.0,135.6 290.0,135.6 292.0,135.6 294.0,135.7 296.0,135.9 298.0,136.2 299.8,136.8 299.8,137.2 298.0,138.2 296.0,138.6 294.0,138.9 292.0,139.0 290.0,139.0 288.0,139.0 286.0,139.0 284.0,138.9 282.0,138.7 280.0,138.5 278.0,138.4 276.0,138.3 274.0,138.3 272.0,138.2 270.0,138.3 268.0,138.4 266.0,138.4 264.0,138.8 262.0,139.1 260.0,139.1 258.0,139.1 256.0,139.1 254.0,139.0 252.0,138.9 250.0,138.8 248.0,138.7 246.0,138.6 244.0,138.6 242.0,138.5 240.0,138.4 238.0,138.3 236.0,138.2 234.0,138.1 232.0,138.0 230.0,138.0 228.0,138.0 226.0,137.9 224.0,137.8 222.0,137.6 220.0,137.4 218.0,137.1 216.8,136.9Z" fill="#ffc400"/>
<path d="M220.8,136.8 222.0,136.6 224.0,136.4 226.0,136.4 228.0,136.4 230.0,136.4 232.0,136.4 234.0,136.4 236.0,136.3 238.0,136.2 240.0,136.1 242.0,136.0 244.0,136.0 246.0,135.9 248.0,135.8 250.0,135.8 252.0,135.7 254.0,135.7 256.0,135.6 258.0,135.5 260.0,135.6 262.0,135.7 264.0,136.1 264.8,136.5 264.8,137.5 264.0,138.0 262.0,138.5 260.0,138.6 258.0,138.7 256.0,138.6 254.0,138.6 252.0,138.5 250.0,138.4 248.0,138.4 246.0,138.3 244.0,138.2 242.0,138.1 240.0,138.0 238.0,137.9 236.0,137.8 234.0,137.7 232.0,137.7 230.0,137.7 228.0,137.7 226.0,137.6 224.0,137.5 222.0,137.2 220.8,137.0Z" fill="#ff9d00"/>
<path d="M224.8,136.9 226.0,136.9 228.0,136.8 230.0,136.9 230.0,137.1 228.0,137.2 226.0,137.1 224.8,137.0ZM235.8,136.9 236.0,136.9 238.0,136.6 240.0,136.6 242.0,136.5 244.0,136.4 246.0,136.3 248.0,136.3 250.0,136.2 252.0,136.2 254.0,136.1 256.0,136.1 258.0,136.1 260.0,136.2 262.0,136.6 262.2,136.7 262.2,137.3 262.0,137.5 260.0,137.9 258.0,138.1 256.0,138.1 254.0,138.0 252.0,138.0 250.0,137.9 248.0,137.9 246.0,137.8 244.0,137.7 242.0,137.6 240.0,137.5 238.0,137.4 236.0,137.2 235.8,137.1Z" fill="#ff7600"/>
</g>
<polygon points="33.0,61.6 43.6,61.6 105.5,93.1 123.9,94.8 139.7,96.0 147.6,97.7 152.8,100.4 178.8,106.0 178.8,106.5 152.8,104.6 134.4,103.0 118.7,100.8 105.5,96.4 66.0,77.6 33.0,77.6" fill="#fff"/>
<polygon points="33.0,181.6 43.6,181.6 105.5,150.1 123.9,148.4 139.7,147.2 147.6,145.5 152.8,142.8 178.8,137.2 178.8,136.7 152.8,138.6 134.4,140.2 118.7,142.4 105.5,146.8 66.0,165.6 33.0,165.6" fill="#fff"/>
<g transform="translate(1.80,1.50)">
<rect x="101.80" y="10.50" width="3.70" height="20.40" fill="#0000ff"/>
<rect x="105.50" y="10.50" width="7.67" height="20.40" fill="#0027ff"/>
<rect x="112.87" y="10.50" width="7.67" height="20.40" fill="#004eff"/>
<rect x="120.24" y="10.50" width="7.67" height="20.40" fill="#0076ff"/>
<rect x="127.61" y="10.50" width="7.67" height="20.40" fill="#009dff"/>
<rect x="134.98" y="10.50" width="7.67" height="20.40" fill="#00c4ff"/>
<rect x="142.35" y="10.50" width="7.67" height="20.40" fill="#00ebff"/>
<rect x="149.72" y="10.50" width="7.67" height="20.40" fill="#00ffeb"/>
<rect x="157.09" y="10.50" width="7.67" height="20.40" fill="#00ffc4"/>
<rect x="164.46" y="10.50" width="7.67" height="20.40" fill="#00ff9d"/>
<rect x="171.83" y="10.50" width="7.67" height="20.40" fill="#00ff76"/>
<rect x="179.20" y="10.50" width="7.67" height="20.40" fill="#00ff4e"/>
<rect x="186.57" y="10.50" width="7.67" height="20.40" fill="#00ff27"/>
<rect x="193.94" y="10.50" width="7.67" height="20.40" fill="#00ff00"/>
<rect x="201.31" y="10.50" width="7.67" height="20.40" fill="#27ff00"/>
<rect x="208.68" y="10.50" width="7.67" height="20.40" fill="#4eff00"/>
<rect x="216.05" y="10.50" width="7.67" height="20.40" fill="#76ff00"/>
<rect x="223.42" y="10.50" width="7.67" height="20.40" fill="#9dff00"/>
<rect x="230.79" y="10.50" width="7.67" height="20.40" fill="#c4ff00"/>
<rect x="238.16" y="10.50" width="7.67" height="20.40" fill="#ebff00"/>
<rect x="245.53" y="10.50" width="7.67" height="20.40" fill="#ffeb00"/>
<rect x="252.90" y="10.50" width="7.67" height="20.40" fill="#ffc400"/>
<rect x="260.27" y="10.50" width="7.67" height="20.40" fill="#ff9d00"/>
<rect x="267.64" y="10.50" width="7.67" height="20.40" fill="#ff7600"/>
<rect x="275.01" y="10.50" width="7.67" height="20.40" fill="#ff4e00"/>
<rect x="282.38" y="10.50" width="7.67" height="20.40" fill="#ff2700"/>
<rect x="289.75" y="10.50" width="4.05" height="20.40" fill="#ff0000"/>
<rect x="101.80" y="10.50" width="192.00" height="20.40" fill="none" stroke="#000" stroke-opacity="0.35" stroke-width="0.6"/>
<path d="M105.50,10.50 V30.90 M142.35,10.50 V30.90 M179.20,10.50 V30.90 M216.05,10.50 V30.90 M252.90,10.50 V30.90 M289.75,10.50 V30.90" stroke="#000" stroke-opacity="0.45" stroke-width="0.6" fill="none"/>
<text class="cb" x="50.2" y="47.4">TKE:</text>
<text class="cb" x="105.50" y="47.4" text-anchor="middle">1000</text>
<text class="cb" x="142.35" y="47.4" text-anchor="middle">1500</text>
<text class="cb" x="179.20" y="47.4" text-anchor="middle">2000</text>
<text class="cb" x="216.05" y="47.4" text-anchor="middle">2500</text>
<text class="cb" x="252.90" y="47.4" text-anchor="middle">3000</text>
<text class="cb" x="289.75" y="47.4" text-anchor="middle">3500</text>
</g>
<rect x="33.00" y="5.00" width="292.50" height="233.20" fill="none" stroke="#000" stroke-width="1.3"/>
<path d="M33.00,238.20 v-6.00 M106.12,238.20 v-6.00 M179.25,238.20 v-6.00 M252.38,238.20 v-6.00 M325.50,238.20 v-6.00 M33.00,5.00 h6.00 M33.00,63.30 h6.00 M33.00,121.60 h6.00 M33.00,179.90 h6.00 M33.00,238.20 h6.00" stroke="#000" stroke-width="0.9" fill="none"/>
<path d="M47.62,238.20 v-2.60 M62.25,238.20 v-2.60 M76.88,238.20 v-2.60 M91.50,238.20 v-2.60 M120.75,238.20 v-2.60 M135.38,238.20 v-2.60 M150.00,238.20 v-2.60 M164.62,238.20 v-2.60 M193.88,238.20 v-2.60 M208.50,238.20 v-2.60 M223.12,238.20 v-2.60 M237.75,238.20 v-2.60 M267.00,238.20 v-2.60 M281.62,238.20 v-2.60 M296.25,238.20 v-2.60 M310.88,238.20 v-2.60 M33.00,16.66 h2.60 M33.00,28.32 h2.60 M33.00,39.98 h2.60 M33.00,51.64 h2.60 M33.00,74.96 h2.60 M33.00,86.62 h2.60 M33.00,98.28 h2.60 M33.00,109.94 h2.60 M33.00,133.26 h2.60 M33.00,144.92 h2.60 M33.00,156.58 h2.60 M33.00,168.24 h2.60 M33.00,191.56 h2.60 M33.00,203.22 h2.60 M33.00,214.88 h2.60 M33.00,226.54 h2.60" stroke="#000" stroke-width="0.7" stroke-opacity="0.6" fill="none"/>
<text class="tk" x="33.00" y="251.30" text-anchor="middle">-5</text>
<text class="tk" x="106.12" y="251.30" text-anchor="middle">-2.5</text>
<text class="tk" x="179.25" y="251.30" text-anchor="middle">0</text>
<text class="tk" x="252.38" y="251.30" text-anchor="middle">2.5</text>
<text class="tk" x="325.50" y="251.30" text-anchor="middle">5</text>
<text class="tk" x="28.20" y="9.80" text-anchor="end">4</text>
<text class="tk" x="28.20" y="68.10" text-anchor="end">2</text>
<text class="tk" x="28.20" y="126.40" text-anchor="end">0</text>
<text class="tk" x="28.20" y="184.70" text-anchor="end">-2</text>
<text class="tk" x="28.20" y="243.00" text-anchor="end">-4</text>
<text class="ax" x="179.25" y="263.1" text-anchor="middle">x/D<tspan class="sub" dy="4.4">j</tspan></text>
<text class="ax" transform="translate(9.60,121.60) rotate(-90)" text-anchor="middle">y/D<tspan class="sub" dy="4.4">j</tspan></text>
</g>
<text class="cap" x="165.2" y="294.7" text-anchor="middle">(a) Baseline</text>
<text class="cap" x="520.7" y="294.7" text-anchor="middle">(b) Wave 3</text>
</svg>
</body></html>
